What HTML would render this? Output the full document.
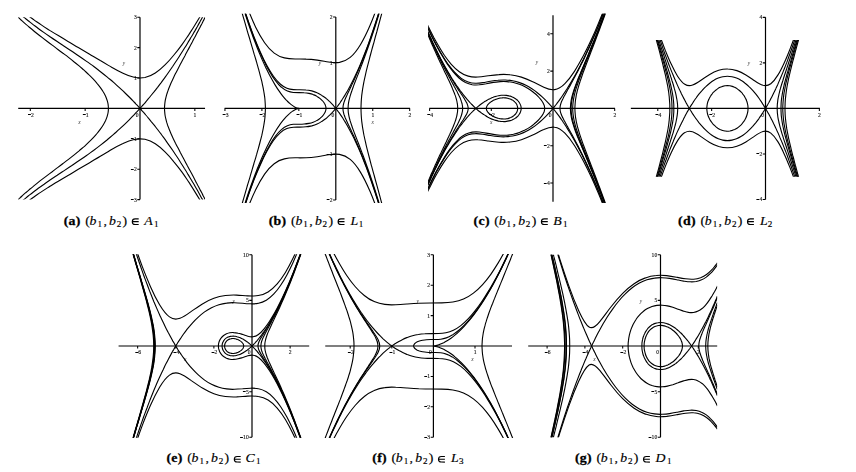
<!DOCTYPE html>
<html><head><meta charset="utf-8"><title>Phase portraits</title>
<style>
html,body{margin:0;padding:0;background:#fff;}
body{width:856px;height:472px;overflow:hidden;font-family:"Liberation Serif",serif;}
svg{display:block;}
text{font-family:"Liberation Serif",serif;}
.tk{font-size:5.6px;fill:#111;stroke:#111;stroke-width:0.12px;filter:grayscale(1);}
.al{font-style:italic;font-size:5.4px;fill:#333;stroke:none;text-anchor:middle;}
.cap{font-size:12.8px;fill:#000;stroke:#000;stroke-width:0.16px;}
.b{font-weight:bold;stroke-width:0.28px;}
.i{font-style:italic;}
.s{font-size:8.4px;}
.h{fill:none;stroke:none;}
</style></head><body>
<svg width="856" height="472" viewBox="0 0 856 472">
<rect width="856" height="472" fill="#fff"/>
<!-- panel a -->
<clipPath id="c0"><rect x="18.23" y="17.20" width="186.82" height="182.40"/></clipPath>
<path d="M18.23 108.40H205.05M140.00 17.20V199.60" stroke="#000" stroke-width="1.2" fill="none"/>
<path d="M30.30 108.40v2.6M85.15 108.40v2.6M194.85 108.40v2.6M140.00 199.60h-2.7M140.00 169.20h-2.7M140.00 138.80h-2.7M140.00 78.00h-2.7M140.00 47.60h-2.7M140.00 17.20h-2.7" stroke="#000" stroke-width="1.05" fill="none"/>
<g class="tk">
<text x="31.00" y="116.80">2</text>
<text x="85.85" y="116.80">1</text>
<text x="138.50" y="116.80" text-anchor="end">0</text>
<text x="194.95" y="116.80" text-anchor="middle">1</text>
<text x="136.70" y="201.55" text-anchor="end">3</text>
<text x="136.70" y="171.15" text-anchor="end">2</text>
<text x="136.70" y="140.75" text-anchor="end">1</text>
<text x="136.70" y="79.95" text-anchor="end">1</text>
<text x="136.70" y="49.55" text-anchor="end">2</text>
<text x="136.70" y="19.15" text-anchor="end">3</text>
<text x="79.5" y="123.6" class="al">x</text>
<text x="123.9" y="65" class="al">y</text>
</g>
<path d="M28.00 114.50h2.9M82.85 114.50h2.9M130.90 199.50h2.8M130.90 169.50h2.8M130.90 138.50h2.8" stroke="#000" stroke-width="1.0" fill="none"/>
<g clip-path="url(#c0)" stroke="#000" stroke-width="1.12" fill="none" stroke-linejoin="round" stroke-linecap="butt">
<path d="M17.7 7.2C17.7 7.2 17.9 7.4 18.4 7.8C18.8 8.2 19.5 8.8 20.4 9.5C21.3 10.2 22.4 11.2 23.8 12.2C25.1 13.3 26.7 14.5 28.4 15.8C30.2 17.1 32.2 18.6 34.3 20.1C36.5 21.6 38.8 23.3 41.3 24.9C43.8 26.6 46.5 28.3 49.3 30.1C52.2 31.9 55.2 33.8 58.3 35.6C61.4 37.5 64.6 39.4 68 41.4C71.3 43.4 74.8 45.4 78.3 47.5C81.9 49.6 85.5 51.7 89.2 53.9C92.8 56.1 96.6 58.3 100.3 60.6C104.1 62.8 107.9 65.1 111.6 67.3C115.4 69.5 119.2 71.6 123 73.3C126.7 75.1 130.5 76.6 134.1 77.3C137.8 78.1 141.4 78.2 145 77.5C148.5 76.7 152 75.2 155.3 73C158.7 70.8 161.9 68 165 64.9C168.1 61.9 171.1 58.5 173.9 55C176.8 51.6 179.5 48.1 182 44.6C184.5 41.1 186.8 37.6 189 34.4C191.1 31.1 193.1 28 194.8 25.2C196.6 22.3 198.2 19.7 199.5 17.5C200.8 15.2 202 13.2 202.9 11.6C203.8 10.1 204.5 8.8 204.9 8C205.4 7.2 205.6 6.8 205.6 6.8M17.7 209.6C17.7 209.6 17.9 209.4 18.4 209C18.8 208.6 19.5 208 20.4 207.3C21.3 206.6 22.4 205.6 23.8 204.6C25.1 203.5 26.7 202.3 28.4 201C30.2 199.7 32.2 198.2 34.3 196.7C36.5 195.2 38.8 193.5 41.3 191.9C43.8 190.2 46.5 188.5 49.3 186.7C52.2 184.9 55.2 183 58.3 181.2C61.4 179.3 64.6 177.4 68 175.4C71.3 173.4 74.8 171.4 78.3 169.3C81.9 167.2 85.5 165.1 89.2 162.9C92.8 160.7 96.6 158.5 100.3 156.2C104.1 154 107.9 151.7 111.6 149.5C115.4 147.3 119.2 145.2 123 143.5C126.7 141.7 130.5 140.2 134.1 139.5C137.8 138.7 141.4 138.6 145 139.3C148.5 140.1 152 141.6 155.3 143.8C158.7 146 161.9 148.8 165 151.9C168.1 154.9 171.1 158.3 173.9 161.8C176.8 165.2 179.5 168.7 182 172.2C184.5 175.7 186.8 179.2 189 182.4C191.1 185.7 193.1 188.8 194.8 191.6C196.6 194.5 198.2 197.1 199.5 199.3C200.8 201.6 202 203.6 202.9 205.2C203.8 206.7 204.5 208 204.9 208.8C205.4 209.6 205.6 210 205.6 210"/>
<path d="M17.7 11.9C17.7 11.9 17.8 12 18.1 12.3C18.4 12.6 18.9 12.9 19.5 13.5C20.1 14 20.8 14.6 21.7 15.4C22.5 16.1 23.5 17 24.7 17.9C25.8 18.8 27.1 19.9 28.5 21C29.9 22.1 31.4 23.3 33.1 24.6C34.7 25.8 36.4 27.1 38.3 28.5C40.1 29.8 42.1 31.2 44.1 32.6C46.1 34.1 48.2 35.5 50.4 37C52.6 38.5 54.9 40 57.2 41.5C59.5 43.1 61.8 44.6 64.2 46.2C66.6 47.8 69 49.4 71.5 51C73.9 52.7 76.4 54.3 78.8 56C81.3 57.7 83.8 59.4 86.2 61.1C88.7 62.8 91.1 64.6 93.5 66.3C95.9 68.1 98.2 69.9 100.5 71.7C102.8 73.5 105.1 75.3 107.3 77.1C109.4 78.9 111.6 80.6 113.6 82.4C115.6 84.2 117.6 85.9 119.4 87.6C121.2 89.3 123 90.9 124.6 92.5C126.3 94.1 127.8 95.6 129.2 97C130.6 98.4 131.9 99.7 133 100.9C134.1 102.1 135.2 103.1 136 104.1C136.9 105 137.6 105.8 138.2 106.4C138.8 107.1 139.3 107.6 139.6 107.9C139.9 108.2 140 108.4 140 108.4C140 108.4 139.9 108.6 139.6 108.9C139.3 109.2 138.8 109.7 138.2 110.4C137.6 111 136.9 111.8 136 112.7C135.2 113.7 134.1 114.7 133 115.9C131.9 117.1 130.6 118.4 129.2 119.8C127.8 121.2 126.3 122.7 124.6 124.3C123 125.9 121.2 127.5 119.4 129.2C117.6 130.9 115.6 132.6 113.6 134.4C111.6 136.2 109.4 137.9 107.3 139.7C105.1 141.5 102.8 143.3 100.5 145.1C98.2 146.9 95.9 148.7 93.5 150.5C91.1 152.2 88.7 154 86.2 155.7C83.8 157.4 81.3 159.1 78.8 160.8C76.4 162.5 73.9 164.1 71.5 165.8C69 167.4 66.6 169 64.2 170.6C61.8 172.2 59.5 173.7 57.2 175.3C54.9 176.8 52.6 178.3 50.4 179.8C48.2 181.3 46.1 182.7 44.1 184.2C42.1 185.6 40.1 187 38.3 188.3C36.4 189.7 34.7 191 33.1 192.2C31.4 193.5 29.9 194.7 28.5 195.8C27.1 196.9 25.8 198 24.7 198.9C23.5 199.8 22.5 200.7 21.7 201.4C20.8 202.2 20.1 202.8 19.5 203.3C18.9 203.9 18.4 204.2 18.1 204.5C17.8 204.8 17.7 204.9 17.7 204.9"/>
<path d="M205.6 205.3C205.6 205.3 205.5 205.2 205.4 204.9C205.2 204.6 205 204.1 204.6 203.5C204.3 203 203.9 202.2 203.5 201.4C203 200.5 202.5 199.5 201.8 198.4C201.2 197.3 200.5 196 199.8 194.7C199 193.3 198.2 191.8 197.4 190.3C196.5 188.7 195.5 187.1 194.6 185.4C193.6 183.7 192.5 181.9 191.4 180C190.3 178.2 189.2 176.3 188 174.4C186.9 172.4 185.7 170.4 184.4 168.5C183.2 166.5 181.9 164.5 180.6 162.5C179.4 160.4 178.1 158.4 176.8 156.5C175.4 154.5 174.1 152.5 172.8 150.5C171.5 148.6 170.2 146.7 168.8 144.8C167.5 143 166.2 141.1 165 139.4C163.7 137.6 162.4 135.9 161.2 134.2C159.9 132.6 158.7 131 157.6 129.5C156.4 128 155.3 126.5 154.2 125.1C153.1 123.8 152 122.5 151 121.3C150.1 120.1 149.1 118.9 148.2 117.9C147.4 116.8 146.6 115.9 145.8 115C145.1 114.1 144.4 113.3 143.8 112.6C143.1 111.9 142.6 111.3 142.1 110.8C141.7 110.3 141.3 109.8 141 109.5C140.6 109.1 140.4 108.8 140.2 108.7C140.1 108.5 140 108.4 140 108.4C140 108.4 140.1 108.3 140.2 108.1C140.4 108 140.6 107.7 141 107.3C141.3 107 141.7 106.5 142.1 106C142.6 105.5 143.1 104.9 143.8 104.2C144.4 103.5 145.1 102.7 145.8 101.8C146.6 100.9 147.4 100 148.2 98.9C149.1 97.9 150.1 96.7 151 95.5C152 94.3 153.1 93 154.2 91.7C155.3 90.3 156.4 88.8 157.6 87.3C158.7 85.8 159.9 84.2 161.2 82.6C162.4 80.9 163.7 79.2 165 77.4C166.2 75.7 167.5 73.8 168.8 72C170.2 70.1 171.5 68.2 172.8 66.3C174.1 64.3 175.4 62.3 176.8 60.3C178.1 58.4 179.4 56.4 180.6 54.3C181.9 52.3 183.2 50.3 184.4 48.3C185.7 46.4 186.9 44.4 188 42.4C189.2 40.5 190.3 38.6 191.4 36.8C192.5 34.9 193.6 33.1 194.6 31.4C195.5 29.7 196.5 28.1 197.4 26.5C198.2 25 199 23.5 199.8 22.1C200.5 20.8 201.2 19.5 201.8 18.4C202.5 17.3 203 16.3 203.5 15.4C203.9 14.6 204.3 13.8 204.6 13.3C205 12.7 205.2 12.2 205.4 11.9C205.5 11.6 205.6 11.5 205.6 11.5"/>
<path d="M17.7 16.8C17.7 16.8 17.8 16.9 18 17.1C18.2 17.3 18.6 17.6 19 18C19.4 18.4 20 18.9 20.6 19.5C21.3 20.1 22 20.8 22.9 21.6C23.7 22.3 24.7 23.2 25.7 24.1C26.8 25 27.9 25.9 29.1 27C30.3 28 31.6 29.1 33 30.2C34.3 31.3 35.8 32.5 37.3 33.7C38.8 34.9 40.3 36.1 42 37.4C43.6 38.6 45.3 39.9 47 41.2C48.7 42.5 50.4 43.8 52.2 45.1C54 46.5 55.8 47.8 57.6 49.2C59.4 50.5 61.2 51.9 63 53.3C64.9 54.7 66.7 56 68.5 57.4C70.3 58.8 72.1 60.2 73.9 61.7C75.7 63.1 77.4 64.5 79.1 65.9C80.8 67.4 82.5 68.8 84.1 70.2C85.7 71.7 87.3 73.1 88.8 74.6C90.3 76 91.8 77.5 93.1 78.9C94.5 80.4 95.8 81.8 97 83.3C98.2 84.7 99.3 86.1 100.4 87.6C101.4 89 102.4 90.4 103.2 91.8C104.1 93.2 104.8 94.6 105.5 96C106.1 97.4 106.6 98.8 107.1 100.2C107.5 101.6 107.9 102.9 108.1 104.3C108.3 105.7 108.4 107 108.4 108.4C108.4 109.8 108.3 111.1 108.1 112.5C107.9 113.9 107.5 115.2 107.1 116.6C106.6 118 106.1 119.4 105.5 120.8C104.8 122.2 104.1 123.6 103.2 125C102.4 126.4 101.4 127.8 100.4 129.2C99.3 130.7 98.2 132.1 97 133.5C95.8 135 94.5 136.4 93.1 137.9C91.8 139.3 90.3 140.8 88.8 142.2C87.3 143.7 85.7 145.1 84.1 146.6C82.5 148 80.8 149.4 79.1 150.9C77.4 152.3 75.7 153.7 73.9 155.1C72.1 156.6 70.3 158 68.5 159.4C66.7 160.8 64.9 162.1 63 163.5C61.2 164.9 59.4 166.3 57.6 167.6C55.8 169 54 170.3 52.2 171.7C50.4 173 48.7 174.3 47 175.6C45.3 176.9 43.6 178.2 42 179.4C40.3 180.7 38.8 181.9 37.3 183.1C35.8 184.3 34.3 185.5 33 186.6C31.6 187.7 30.3 188.8 29.1 189.8C27.9 190.9 26.8 191.8 25.7 192.7C24.7 193.6 23.7 194.5 22.9 195.2C22 196 21.3 196.7 20.6 197.3C20 197.9 19.4 198.4 19 198.8C18.6 199.2 18.2 199.5 18 199.7C17.8 199.9 17.7 200 17.7 200"/>
<path d="M205.6 200.4C205.6 200.4 205.6 200.3 205.5 200.1C205.4 199.9 205.2 199.7 205 199.3C204.8 198.9 204.6 198.4 204.3 197.8C204 197.2 203.6 196.6 203.2 195.8C202.9 195.1 202.4 194.2 202 193.3C201.5 192.4 201 191.4 200.4 190.4C199.9 189.3 199.3 188.2 198.7 187C198.1 185.8 197.4 184.6 196.7 183.3C196.1 182 195.3 180.6 194.6 179.2C193.9 177.9 193.1 176.4 192.4 175C191.6 173.5 190.8 172.1 190 170.6C189.2 169.1 188.4 167.5 187.5 166C186.7 164.5 185.9 162.9 185.1 161.4C184.2 159.8 183.4 158.3 182.6 156.8C181.8 155.2 181 153.7 180.2 152.2C179.4 150.6 178.6 149.1 177.8 147.6C177 146.1 176.3 144.7 175.5 143.2C174.8 141.7 174.1 140.3 173.4 138.9C172.7 137.5 172.1 136.1 171.5 134.7C170.8 133.3 170.3 131.9 169.7 130.6C169.2 129.3 168.6 128 168.2 126.7C167.7 125.4 167.3 124.1 166.9 122.9C166.5 121.6 166.2 120.4 165.9 119.1C165.6 117.9 165.3 116.7 165.1 115.5C164.9 114.3 164.8 113.1 164.7 111.9C164.6 110.8 164.5 109.6 164.5 108.4C164.5 107.2 164.6 106 164.7 104.9C164.8 103.7 164.9 102.5 165.1 101.3C165.3 100.1 165.6 98.9 165.9 97.7C166.2 96.4 166.5 95.2 166.9 93.9C167.3 92.7 167.7 91.4 168.2 90.1C168.6 88.8 169.2 87.5 169.7 86.2C170.3 84.9 170.8 83.5 171.5 82.1C172.1 80.7 172.7 79.3 173.4 77.9C174.1 76.5 174.8 75.1 175.5 73.6C176.3 72.1 177 70.7 177.8 69.2C178.6 67.7 179.4 66.2 180.2 64.6C181 63.1 181.8 61.6 182.6 60C183.4 58.5 184.2 57 185.1 55.4C185.9 53.9 186.7 52.3 187.5 50.8C188.4 49.3 189.2 47.7 190 46.2C190.8 44.7 191.6 43.3 192.4 41.8C193.1 40.4 193.9 38.9 194.6 37.6C195.3 36.2 196.1 34.8 196.7 33.5C197.4 32.2 198.1 31 198.7 29.8C199.3 28.6 199.9 27.5 200.4 26.4C201 25.4 201.5 24.4 202 23.5C202.4 22.6 202.9 21.7 203.2 21C203.6 20.2 204 19.6 204.3 19C204.6 18.4 204.8 17.9 205 17.5C205.2 17.1 205.4 16.9 205.5 16.7C205.6 16.5 205.6 16.4 205.6 16.4"/>
</g>
<text class="cap" transform="translate(0.00 224.60) scale(1.08 1)"><tspan class="b" x="59 63.47 70.19">(a)</tspan><tspan x="78.89">(</tspan><tspan class="i" x="82.96">b</tspan><tspan class="s" x="90.28" dy="1.9">1</tspan><tspan x="95.74" dy="-1.9">,</tspan><tspan class="i" x="101.02">b</tspan><tspan class="s" x="108.06" dy="1.9">2</tspan><tspan x="113.52" dy="-1.9">)</tspan><tspan class="h" x="121.3">∈</tspan><tspan class="i" x="133.48">A</tspan><tspan class="s" x="142.69" dy="1.9">1</tspan></text><path d="M138.70 218.85H135.10A2.80 2.80 0 0 0 135.10 224.45H138.70M132.30 221.65H138.70" fill="none" stroke="#000" stroke-width="1.15"/>
<!-- panel b -->
<clipPath id="c1"><rect x="224.95" y="13.70" width="184.75" height="189.40"/></clipPath>
<path d="M224.58 108.40H410.07M335.80 16.90V199.90" stroke="#000" stroke-width="1.2" fill="none"/>
<path d="M224.95 108.40v2.6M261.90 108.40v2.6M298.85 108.40v2.6M372.75 108.40v2.6M409.70 108.40v2.6M335.80 199.90h-2.7M335.80 154.15h-2.7M335.80 62.65h-2.7M335.80 16.90h-2.7" stroke="#000" stroke-width="1.05" fill="none"/>
<g class="tk">
<text x="225.65" y="116.80">3</text>
<text x="262.60" y="116.80">2</text>
<text x="299.55" y="116.80">1</text>
<text x="334.30" y="116.80" text-anchor="end">0</text>
<text x="372.85" y="116.80" text-anchor="middle">1</text>
<text x="409.80" y="116.80" text-anchor="middle">2</text>
<text x="332.50" y="201.85" text-anchor="end">2</text>
<text x="332.50" y="156.10" text-anchor="end">1</text>
<text x="332.50" y="64.60" text-anchor="end">1</text>
<text x="332.50" y="18.85" text-anchor="end">2</text>
<text x="372.7" y="123.6" class="al">x</text>
<text x="320" y="64.5" class="al">y</text>
</g>
<path d="M222.65 114.50h2.9M259.60 114.50h2.9M296.55 114.50h2.9M326.70 199.50h2.8M326.70 154.50h2.8" stroke="#000" stroke-width="1.0" fill="none"/>
<g clip-path="url(#c1)" stroke="#000" stroke-width="1.12" fill="none" stroke-linejoin="round" stroke-linecap="butt">
<path d="M224.6 -67.3C224.6 -67.3 224.8 -66.4 225.3 -64.6C225.7 -62.9 226.4 -60.3 227.3 -56.9C228.2 -53.5 229.3 -49.4 230.6 -44.6C231.9 -39.8 233.5 -34.5 235.2 -28.7C236.9 -22.9 238.9 -16.7 241 -10.3C243.1 -3.9 245.4 2.6 247.9 9C250.4 15.4 253 21.6 255.8 27.4C258.6 33.1 261.6 38.3 264.6 42.7C267.7 47.1 270.9 50.6 274.2 53.1C277.5 55.6 280.9 57.1 284.4 57.9C287.9 58.7 291.5 58.9 295.1 59C298.8 59 302.4 58.9 306.1 59.1C309.9 59.2 313.6 59.6 317.3 60.1C321.1 60.6 324.8 61.4 328.5 62C332.2 62.6 335.9 62.9 339.5 62.4C343.1 61.8 346.7 60.3 350.2 57.4C353.7 54.5 357.1 50.2 360.4 44.7C363.7 39.3 366.9 32.7 370 25.5C373.1 18.3 376 10.4 378.8 2.3C381.6 -5.9 384.3 -14.3 386.7 -22.6C389.2 -31 391.5 -39.3 393.7 -47.2C395.8 -55.2 397.7 -62.8 399.4 -69.9C401.2 -76.9 402.7 -83.4 404 -89.1C405.4 -94.7 406.5 -99.7 407.4 -103.6C408.3 -107.6 408.9 -110.7 409.4 -112.8C409.8 -114.8 410.1 -115.9 410.1 -115.9M224.6 284.1C224.6 284.1 224.8 283.2 225.3 281.4C225.7 279.7 226.4 277.1 227.3 273.7C228.2 270.3 229.3 266.2 230.6 261.4C231.9 256.6 233.5 251.3 235.2 245.5C236.9 239.7 238.9 233.5 241 227.1C243.1 220.7 245.4 214.2 247.9 207.8C250.4 201.4 253 195.2 255.8 189.4C258.6 183.7 261.6 178.5 264.6 174.1C267.7 169.7 270.9 166.2 274.2 163.7C277.5 161.2 280.9 159.7 284.4 158.9C287.9 158.1 291.5 157.9 295.1 157.8C298.8 157.8 302.4 157.9 306.1 157.7C309.9 157.6 313.6 157.2 317.3 156.7C321.1 156.2 324.8 155.4 328.5 154.8C332.2 154.2 335.9 153.9 339.5 154.4C343.1 155 346.7 156.5 350.2 159.4C353.7 162.3 357.1 166.6 360.4 172.1C363.7 177.5 366.9 184.1 370 191.3C373.1 198.5 376 206.4 378.8 214.5C381.6 222.7 384.3 231.1 386.7 239.4C389.2 247.8 391.5 256.1 393.7 264C395.8 272 397.7 279.6 399.4 286.7C401.2 293.7 402.7 300.2 404 305.9C405.4 311.5 406.5 316.5 407.4 320.4C408.3 324.4 408.9 327.5 409.4 329.6C409.8 331.6 410.1 332.7 410.1 332.7"/>
<path d="M224.6 -61.2C224.6 -61.2 224.7 -60.6 225 -59.6C225.3 -58.5 225.7 -56.8 226.2 -54.7C226.7 -52.6 227.4 -49.9 228.2 -46.8C229 -43.7 229.9 -40.2 231 -36.3C232 -32.4 233.2 -28.1 234.4 -23.6C235.7 -19 237.1 -14.2 238.6 -9.2C240.1 -4.2 241.6 1 243.3 6.3C245 11.5 246.8 16.9 248.6 22.2C250.4 27.4 252.4 32.7 254.3 37.8C256.3 42.9 258.4 47.8 260.5 52.4C262.6 57.1 264.7 61.5 266.9 65.5C269.1 69.5 271.3 73.2 273.5 76.3C275.7 79.4 278 82 280.2 84C282.4 86 284.7 87.3 286.9 88.2C289.1 89.1 291.3 89.4 293.5 89.6C295.7 89.8 297.8 89.7 299.9 89.7C302 89.7 304.1 89.8 306 90C308 90.1 309.9 90.5 311.8 90.9C313.6 91.4 315.4 92 317.1 92.8C318.7 93.5 320.3 94.4 321.8 95.4C323.3 96.3 324.7 97.3 326 98.3C327.2 99.4 328.4 100.4 329.4 101.4C330.5 102.4 331.4 103.4 332.2 104.2C333 105.1 333.6 105.8 334.2 106.5C334.7 107.1 335.1 107.6 335.4 107.9C335.7 108.2 335.8 108.4 335.8 108.4C335.8 108.4 335.7 108.6 335.4 108.9C335.1 109.2 334.7 109.7 334.2 110.3C333.6 111 333 111.7 332.2 112.6C331.4 113.4 330.5 114.4 329.4 115.4C328.4 116.4 327.2 117.4 326 118.5C324.7 119.5 323.3 120.5 321.8 121.4C320.3 122.4 318.7 123.3 317.1 124C315.4 124.8 313.6 125.4 311.8 125.9C309.9 126.3 308 126.7 306 126.8C304.1 127 302 127.1 299.9 127.1C297.8 127.1 295.7 127 293.5 127.2C291.3 127.4 289.1 127.7 286.9 128.6C284.7 129.5 282.4 130.8 280.2 132.8C278 134.8 275.7 137.4 273.5 140.5C271.3 143.6 269.1 147.3 266.9 151.3C264.7 155.3 262.6 159.7 260.5 164.4C258.4 169 256.3 173.9 254.3 179C252.4 184.1 250.4 189.4 248.6 194.6C246.8 199.9 245 205.3 243.3 210.5C241.6 215.8 240.1 221 238.6 226C237.1 231 235.7 235.8 234.4 240.4C233.2 244.9 232 249.2 231 253.1C229.9 257 229 260.5 228.2 263.6C227.4 266.7 226.7 269.4 226.2 271.5C225.7 273.6 225.3 275.3 225 276.4C224.7 277.4 224.6 278 224.6 278"/>
<path d="M410.1 327.9C410.1 327.9 410 327.5 409.8 326.7C409.6 325.8 409.3 324.6 409 322.9C408.6 321.2 408.2 319.2 407.7 316.7C407.1 314.3 406.5 311.5 405.8 308.4C405.1 305.3 404.3 301.8 403.5 298.1C402.6 294.4 401.7 290.3 400.7 286.1C399.7 281.9 398.7 277.5 397.6 272.9C396.4 268.3 395.3 263.5 394 258.6C392.8 253.8 391.5 248.8 390.2 243.9C388.9 238.9 387.5 233.9 386.1 228.9C384.7 223.9 383.3 218.9 381.8 214C380.4 209.1 378.9 204.3 377.4 199.6C375.9 194.9 374.4 190.4 372.9 186C371.4 181.5 369.9 177.3 368.5 173.2C367 169.1 365.5 165.3 364 161.6C362.6 157.9 361.2 154.4 359.8 151.1C358.4 147.9 357 144.8 355.7 142C354.4 139.1 353.1 136.5 351.8 134.1C350.6 131.7 349.4 129.4 348.3 127.4C347.2 125.4 346.1 123.6 345.1 121.9C344.1 120.3 343.2 118.8 342.4 117.5C341.5 116.2 340.7 115.1 340.1 114.1C339.4 113.1 338.7 112.2 338.2 111.5C337.7 110.8 337.2 110.2 336.9 109.8C336.5 109.3 336.3 109 336.1 108.7C335.9 108.5 335.8 108.4 335.8 108.4C335.8 108.4 335.9 108.3 336.1 108.1C336.3 107.8 336.5 107.5 336.9 107C337.2 106.6 337.7 106 338.2 105.3C338.7 104.6 339.4 103.7 340.1 102.7C340.7 101.7 341.5 100.6 342.4 99.3C343.2 98 344.1 96.5 345.1 94.9C346.1 93.2 347.2 91.4 348.3 89.4C349.4 87.4 350.6 85.1 351.8 82.7C353.1 80.3 354.4 77.7 355.7 74.8C357 72 358.4 68.9 359.8 65.7C361.2 62.4 362.6 58.9 364 55.2C365.5 51.5 367 47.7 368.5 43.6C369.9 39.5 371.4 35.3 372.9 30.8C374.4 26.4 375.9 21.9 377.4 17.2C378.9 12.5 380.4 7.7 381.8 2.8C383.3 -2.1 384.7 -7.1 386.1 -12.1C387.5 -17.1 388.9 -22.1 390.2 -27.1C391.5 -32 392.8 -37 394 -41.8C395.3 -46.7 396.4 -51.5 397.6 -56.1C398.7 -60.7 399.7 -65.1 400.7 -69.3C401.7 -73.5 402.6 -77.6 403.5 -81.3C404.3 -85 405.1 -88.5 405.8 -91.6C406.5 -94.7 407.1 -97.5 407.7 -99.9C408.2 -102.4 408.6 -104.4 409 -106.1C409.3 -107.8 409.6 -109 409.8 -109.9C410 -110.7 410.1 -111.1 410.1 -111.1"/>
<path d="M224.6 -60.9C224.6 -60.9 224.7 -60.4 225 -59.4C225.2 -58.4 225.6 -56.9 226.1 -55C226.5 -53 227.2 -50.6 227.9 -47.8C228.6 -44.9 229.4 -41.7 230.4 -38.1C231.3 -34.5 232.4 -30.5 233.6 -26.3C234.7 -22.1 236 -17.6 237.3 -13C238.7 -8.3 240.1 -3.4 241.7 1.5C243.2 6.4 244.8 11.5 246.5 16.5C248.2 21.5 249.9 26.6 251.7 31.5C253.5 36.4 255.4 41.3 257.3 45.9C259.2 50.6 261.2 55 263.2 59.2C265.1 63.4 267.1 67.3 269.2 70.9C271.2 74.5 273.2 77.7 275.3 80.4C277.3 83.2 279.4 85.5 281.4 87.2C283.4 89 285.4 90.3 287.4 91.1C289.4 91.9 291.4 92.3 293.3 92.5C295.2 92.6 297 92.6 298.9 92.6C300.7 92.6 302.4 92.6 304.1 92.8C305.8 92.9 307.4 93.1 308.9 93.4C310.4 93.7 311.9 94.1 313.2 94.6C314.6 95.1 315.9 95.7 317 96.4C318.2 97.1 319.2 97.8 320.2 98.6C321.1 99.4 322 100.2 322.7 101C323.4 101.8 324 102.6 324.5 103.5C325 104.3 325.4 105.1 325.6 105.9C325.9 106.8 326 107.6 326 108.4C326 109.2 325.9 110 325.6 110.9C325.4 111.7 325 112.5 324.5 113.3C324 114.2 323.4 115 322.7 115.8C322 116.6 321.1 117.4 320.2 118.2C319.2 119 318.2 119.7 317 120.4C315.9 121.1 314.6 121.7 313.2 122.2C311.9 122.7 310.4 123.1 308.9 123.4C307.4 123.7 305.8 123.9 304.1 124C302.4 124.2 300.7 124.2 298.9 124.2C297 124.2 295.2 124.2 293.3 124.3C291.4 124.5 289.4 124.9 287.4 125.7C285.4 126.5 283.4 127.8 281.4 129.6C279.4 131.3 277.3 133.6 275.3 136.4C273.2 139.1 271.2 142.3 269.2 145.9C267.1 149.5 265.1 153.4 263.2 157.6C261.2 161.8 259.2 166.2 257.3 170.9C255.4 175.5 253.5 180.4 251.7 185.3C249.9 190.2 248.2 195.3 246.5 200.3C244.8 205.3 243.2 210.4 241.7 215.3C240.1 220.2 238.7 225.1 237.3 229.8C236 234.4 234.7 238.9 233.6 243.1C232.4 247.3 231.3 251.3 230.4 254.9C229.4 258.5 228.6 261.7 227.9 264.6C227.2 267.4 226.5 269.8 226.1 271.8C225.6 273.7 225.2 275.2 225 276.2C224.7 277.2 224.6 277.7 224.6 277.7"/>
<path d="M410.1 327.7C410.1 327.7 410 327.3 409.8 326.6C409.7 325.8 409.4 324.7 409.1 323.2C408.8 321.6 408.4 319.8 407.9 317.6C407.4 315.4 406.9 312.8 406.2 310C405.6 307.1 404.9 304 404.1 300.6C403.4 297.2 402.5 293.6 401.6 289.7C400.7 285.8 399.8 281.8 398.8 277.6C397.8 273.3 396.7 269 395.6 264.5C394.5 260 393.3 255.4 392.1 250.8C390.9 246.2 389.7 241.5 388.4 236.9C387.2 232.2 385.9 227.5 384.5 222.9C383.2 218.3 381.9 213.8 380.6 209.3C379.2 204.9 377.9 200.5 376.5 196.3C375.2 192 373.8 187.9 372.5 183.9C371.1 180 369.8 176.2 368.5 172.5C367.2 168.9 365.9 165.4 364.6 162.1C363.4 158.8 362.1 155.7 360.9 152.8C359.7 149.8 358.6 147.1 357.5 144.5C356.3 141.9 355.3 139.5 354.3 137.3C353.3 135.1 352.3 133 351.4 131.1C350.5 129.2 349.7 127.5 348.9 125.8C348.1 124.2 347.4 122.7 346.8 121.3C346.2 120 345.6 118.7 345.1 117.5C344.7 116.3 344.3 115.2 343.9 114.2C343.6 113.1 343.4 112.2 343.2 111.2C343 110.2 343 109.3 343 108.4C343 107.5 343 106.6 343.2 105.6C343.4 104.6 343.6 103.7 343.9 102.6C344.3 101.6 344.7 100.5 345.1 99.3C345.6 98.1 346.2 96.8 346.8 95.5C347.4 94.1 348.1 92.6 348.9 91C349.7 89.3 350.5 87.6 351.4 85.7C352.3 83.8 353.3 81.7 354.3 79.5C355.3 77.3 356.3 74.9 357.5 72.3C358.6 69.7 359.7 67 360.9 64C362.1 61.1 363.4 58 364.6 54.7C365.9 51.4 367.2 47.9 368.5 44.3C369.8 40.6 371.1 36.8 372.5 32.9C373.8 28.9 375.2 24.8 376.5 20.5C377.9 16.3 379.2 11.9 380.6 7.5C381.9 3 383.2 -1.5 384.5 -6.1C385.9 -10.7 387.2 -15.4 388.4 -20.1C389.7 -24.7 390.9 -29.4 392.1 -34C393.3 -38.6 394.5 -43.2 395.6 -47.7C396.7 -52.2 397.8 -56.5 398.8 -60.8C399.8 -65 400.7 -69 401.6 -72.9C402.5 -76.8 403.4 -80.4 404.1 -83.8C404.9 -87.2 405.6 -90.3 406.2 -93.2C406.9 -96 407.4 -98.6 407.9 -100.8C408.4 -103 408.8 -104.8 409.1 -106.4C409.4 -107.9 409.7 -109 409.8 -109.8C410 -110.5 410.1 -110.9 410.1 -110.9"/>
<path d="M224.6 -60.2C224.6 -60.2 224.7 -59.8 224.9 -59.1C225 -58.3 225.3 -57.2 225.7 -55.8C226 -54.3 226.5 -52.5 227 -50.4C227.5 -48.3 228.1 -45.9 228.8 -43.2C229.5 -40.5 230.3 -37.5 231.2 -34.3C232 -31.1 232.9 -27.7 233.9 -24.1C234.9 -20.5 236 -16.7 237.1 -12.8C238.2 -8.9 239.4 -4.8 240.6 -0.8C241.9 3.3 243.1 7.5 244.5 11.6C245.8 15.8 247.1 19.9 248.5 24C249.9 28.2 251.4 32.2 252.8 36.2C254.3 40.2 255.8 44 257.2 47.8C258.7 51.5 260.2 55.1 261.7 58.6C263.2 62 264.7 65.3 266.2 68.4C267.7 71.5 269.1 74.4 270.6 77.1C272.1 79.8 273.5 82.3 274.9 84.6C276.3 86.9 277.6 89 279 90.9C280.3 92.9 281.6 94.6 282.8 96.1C284 97.6 285.2 99 286.3 100.2C287.5 101.3 288.5 102.4 289.5 103.2C290.5 104.1 291.4 104.8 292.3 105.4C293.1 106 293.9 106.5 294.6 106.9C295.3 107.3 295.9 107.5 296.4 107.8C297 108 297.4 108.1 297.8 108.2C298.1 108.3 298.4 108.4 298.6 108.4C298.8 108.4 298.8 108.4 298.9 108.4C298.8 108.4 298.8 108.4 298.6 108.4C298.4 108.4 298.1 108.5 297.8 108.6C297.4 108.7 297 108.8 296.4 109C295.9 109.3 295.3 109.5 294.6 109.9C293.9 110.3 293.1 110.8 292.3 111.4C291.4 112 290.5 112.7 289.5 113.6C288.5 114.4 287.5 115.5 286.3 116.6C285.2 117.8 284 119.2 282.8 120.7C281.6 122.2 280.3 123.9 279 125.9C277.6 127.8 276.3 129.9 274.9 132.2C273.5 134.5 272.1 137 270.6 139.7C269.1 142.4 267.7 145.3 266.2 148.4C264.7 151.5 263.2 154.8 261.7 158.2C260.2 161.7 258.7 165.3 257.2 169C255.8 172.8 254.3 176.6 252.8 180.6C251.4 184.6 249.9 188.6 248.5 192.8C247.1 196.9 245.8 201 244.5 205.2C243.1 209.3 241.9 213.5 240.6 217.6C239.4 221.6 238.2 225.7 237.1 229.6C236 233.5 234.9 237.3 233.9 240.9C232.9 244.5 232 247.9 231.2 251.1C230.3 254.3 229.5 257.3 228.8 260C228.1 262.7 227.5 265.1 227 267.2C226.5 269.3 226 271.1 225.7 272.6C225.3 274 225 275.1 224.9 275.9C224.7 276.6 224.6 277 224.6 277"/>
<path d="M410.1 327.2C410.1 327.2 410 326.8 409.8 326.1C409.7 325.4 409.5 324.3 409.2 322.9C408.9 321.5 408.5 319.8 408.1 317.8C407.6 315.7 407.1 313.4 406.5 310.7C405.9 308.1 405.3 305.2 404.6 302C403.9 298.8 403.1 295.4 402.3 291.8C401.5 288.2 400.6 284.4 399.6 280.5C398.7 276.5 397.7 272.4 396.7 268.2C395.7 264 394.6 259.7 393.5 255.3C392.4 251 391.2 246.6 390.1 242.1C388.9 237.7 387.7 233.3 386.5 228.9C385.3 224.5 384.1 220.1 382.8 215.8C381.6 211.5 380.3 207.3 379.1 203.2C377.8 199.1 376.6 195.1 375.4 191.2C374.1 187.3 372.9 183.5 371.7 179.9C370.5 176.3 369.3 172.8 368.1 169.5C366.9 166.1 365.8 163 364.7 160C363.6 156.9 362.5 154.1 361.5 151.4C360.5 148.7 359.5 146.1 358.6 143.7C357.6 141.3 356.7 139 355.9 136.9C355.1 134.8 354.3 132.8 353.6 130.9C352.9 129 352.2 127.2 351.7 125.5C351.1 123.8 350.6 122.3 350.1 120.7C349.7 119.2 349.3 117.8 349 116.4C348.7 115 348.5 113.6 348.3 112.3C348.2 111 348.1 109.7 348.1 108.4C348.1 107.1 348.2 105.8 348.3 104.5C348.5 103.2 348.7 101.8 349 100.4C349.3 99 349.7 97.6 350.1 96.1C350.6 94.5 351.1 93 351.7 91.3C352.2 89.6 352.9 87.8 353.6 85.9C354.3 84 355.1 82 355.9 79.9C356.7 77.8 357.6 75.5 358.6 73.1C359.5 70.7 360.5 68.1 361.5 65.4C362.5 62.7 363.6 59.9 364.7 56.8C365.8 53.8 366.9 50.7 368.1 47.3C369.3 44 370.5 40.5 371.7 36.9C372.9 33.3 374.1 29.5 375.4 25.6C376.6 21.7 377.8 17.7 379.1 13.6C380.3 9.5 381.6 5.3 382.8 1C384.1 -3.3 385.3 -7.7 386.5 -12.1C387.7 -16.5 388.9 -20.9 390.1 -25.3C391.2 -29.8 392.4 -34.2 393.5 -38.5C394.6 -42.9 395.7 -47.2 396.7 -51.4C397.7 -55.6 398.7 -59.7 399.6 -63.7C400.6 -67.6 401.5 -71.4 402.3 -75C403.1 -78.6 403.9 -82 404.6 -85.2C405.3 -88.4 405.9 -91.3 406.5 -93.9C407.1 -96.6 407.6 -98.9 408.1 -101C408.5 -103 408.9 -104.7 409.2 -106.1C409.5 -107.5 409.7 -108.6 409.8 -109.3C410 -110 410.1 -110.4 410.1 -110.4"/>
<path d="M224.6 -54.9C224.6 -54.9 224.6 -54.7 224.7 -54.3C224.8 -53.9 225 -53.2 225.2 -52.4C225.4 -51.6 225.6 -50.6 225.9 -49.4C226.2 -48.1 226.5 -46.7 226.9 -45.2C227.3 -43.6 227.7 -41.9 228.2 -40C228.7 -38.1 229.2 -36 229.7 -33.8C230.3 -31.6 230.8 -29.3 231.5 -26.9C232.1 -24.5 232.7 -22 233.4 -19.4C234.1 -16.8 234.8 -14.1 235.5 -11.3C236.2 -8.6 237 -5.8 237.7 -2.9C238.5 -0.1 239.3 2.8 240.1 5.6C240.9 8.5 241.7 11.4 242.5 14.3C243.3 17.2 244.2 20 245 22.9C245.8 25.7 246.6 28.5 247.4 31.3C248.2 34.1 249.1 36.8 249.9 39.5C250.7 42.2 251.4 44.8 252.2 47.4C253 50 253.7 52.5 254.4 54.9C255.2 57.4 255.9 59.8 256.6 62.1C257.2 64.4 257.9 66.7 258.5 68.9C259.1 71.1 259.7 73.2 260.2 75.3C260.8 77.4 261.3 79.4 261.8 81.4C262.2 83.3 262.6 85.3 263 87.2C263.4 89 263.7 90.9 264 92.7C264.3 94.5 264.6 96.3 264.8 98C265 99.8 265.1 101.5 265.2 103.3C265.3 105 265.4 106.7 265.4 108.4C265.4 110.1 265.3 111.8 265.2 113.5C265.1 115.3 265 117 264.8 118.8C264.6 120.5 264.3 122.3 264 124.1C263.7 125.9 263.4 127.8 263 129.6C262.6 131.5 262.2 133.5 261.8 135.4C261.3 137.4 260.8 139.4 260.2 141.5C259.7 143.6 259.1 145.7 258.5 147.9C257.9 150.1 257.2 152.4 256.6 154.7C255.9 157 255.2 159.4 254.4 161.9C253.7 164.3 253 166.8 252.2 169.4C251.4 172 250.7 174.6 249.9 177.3C249.1 180 248.2 182.7 247.4 185.5C246.6 188.3 245.8 191.1 245 193.9C244.2 196.8 243.3 199.6 242.5 202.5C241.7 205.4 240.9 208.3 240.1 211.2C239.3 214 238.5 216.9 237.7 219.7C237 222.6 236.2 225.4 235.5 228.1C234.8 230.9 234.1 233.6 233.4 236.2C232.7 238.8 232.1 241.3 231.5 243.7C230.8 246.1 230.3 248.4 229.7 250.6C229.2 252.8 228.7 254.9 228.2 256.8C227.7 258.7 227.3 260.4 226.9 262C226.5 263.5 226.2 264.9 225.9 266.2C225.6 267.4 225.4 268.4 225.2 269.2C225 270 224.8 270.7 224.7 271.1C224.6 271.5 224.6 271.7 224.6 271.7"/>
<path d="M410.1 323.1C410.1 323.1 410 322.8 409.9 322.3C409.8 321.7 409.6 320.8 409.4 319.7C409.1 318.6 408.8 317.2 408.5 315.5C408.1 313.9 407.7 312 407.3 309.8C406.8 307.7 406.3 305.3 405.7 302.7C405.2 300.1 404.6 297.3 403.9 294.3C403.2 291.4 402.5 288.2 401.8 284.9C401.1 281.6 400.3 278.2 399.5 274.7C398.7 271.1 397.8 267.5 396.9 263.8C396.1 260 395.2 256.2 394.2 252.4C393.3 248.6 392.4 244.7 391.4 240.8C390.5 237 389.5 233.1 388.5 229.2C387.5 225.4 386.5 221.5 385.6 217.7C384.6 213.9 383.6 210.2 382.6 206.5C381.6 202.8 380.6 199.2 379.7 195.7C378.7 192.1 377.8 188.7 376.9 185.3C375.9 181.9 375 178.7 374.2 175.5C373.3 172.3 372.4 169.2 371.6 166.2C370.8 163.2 370 160.3 369.3 157.5C368.6 154.7 367.9 152 367.2 149.4C366.5 146.7 365.9 144.2 365.4 141.7C364.8 139.2 364.3 136.8 363.8 134.5C363.4 132.1 363 129.9 362.6 127.6C362.3 125.4 362 123.2 361.7 121.1C361.5 118.9 361.3 116.8 361.2 114.7C361.1 112.6 361 110.5 361 108.4C361 106.3 361.1 104.2 361.2 102.1C361.3 100 361.5 97.9 361.7 95.7C362 93.6 362.3 91.4 362.6 89.2C363 86.9 363.4 84.7 363.8 82.3C364.3 80 364.8 77.6 365.4 75.1C365.9 72.6 366.5 70.1 367.2 67.4C367.9 64.8 368.6 62.1 369.3 59.3C370 56.5 370.8 53.6 371.6 50.6C372.4 47.6 373.3 44.5 374.2 41.3C375 38.1 375.9 34.9 376.9 31.5C377.8 28.1 378.7 24.7 379.7 21.1C380.6 17.6 381.6 14 382.6 10.3C383.6 6.6 384.6 2.9 385.6 -0.9C386.5 -4.7 387.5 -8.6 388.5 -12.4C389.5 -16.3 390.5 -20.2 391.4 -24C392.4 -27.9 393.3 -31.8 394.2 -35.6C395.2 -39.4 396.1 -43.2 396.9 -47C397.8 -50.7 398.7 -54.3 399.5 -57.9C400.3 -61.4 401.1 -64.8 401.8 -68.1C402.5 -71.4 403.2 -74.6 403.9 -77.5C404.6 -80.5 405.2 -83.3 405.7 -85.9C406.3 -88.5 406.8 -90.9 407.3 -93C407.7 -95.2 408.1 -97.1 408.5 -98.7C408.8 -100.4 409.1 -101.8 409.4 -102.9C409.6 -104 409.8 -104.9 409.9 -105.5C410 -106 410.1 -106.3 410.1 -106.3"/>
</g>
<text class="cap" transform="translate(205.80 224.60) scale(1.08 1)"><tspan class="b" x="58.25 62.72 70.19">(b)</tspan><tspan x="78.89">(</tspan><tspan class="i" x="82.96">b</tspan><tspan class="s" x="90.28" dy="1.9">1</tspan><tspan x="95.74" dy="-1.9">,</tspan><tspan class="i" x="101.02">b</tspan><tspan class="s" x="108.06" dy="1.9">2</tspan><tspan x="113.52" dy="-1.9">)</tspan><tspan class="h" x="121.3">∈</tspan><tspan class="i" x="134.04">L</tspan><tspan class="s" x="141.57" dy="1.9">1</tspan></text><path d="M344.50 218.85H340.90A2.80 2.80 0 0 0 340.90 224.45H344.50M338.10 221.65H344.50" fill="none" stroke="#000" stroke-width="1.15"/>
<!-- panel c -->
<clipPath id="c2"><rect x="428.06" y="13.84" width="186.64" height="189.11"/></clipPath>
<path d="M429.29 108.40H615.01M553.00 15.15V201.65" stroke="#000" stroke-width="1.2" fill="none"/>
<path d="M429.60 108.40v2.6M491.30 108.40v2.6M614.70 108.40v2.6M553.00 183.00h-2.7M553.00 145.70h-2.7M553.00 71.10h-2.7M553.00 33.80h-2.7" stroke="#000" stroke-width="1.05" fill="none"/>
<g class="tk">
<text x="430.30" y="116.80">4</text>
<text x="492.00" y="116.80">2</text>
<text x="551.50" y="116.80" text-anchor="end">0</text>
<text x="614.80" y="116.80" text-anchor="middle">2</text>
<text x="549.70" y="184.95" text-anchor="end">4</text>
<text x="549.70" y="147.65" text-anchor="end">2</text>
<text x="549.70" y="73.05" text-anchor="end">2</text>
<text x="549.70" y="35.75" text-anchor="end">4</text>
<text x="491.3" y="123.6" class="al">x</text>
<text x="537" y="63.5" class="al">y</text>
</g>
<path d="M427.30 114.50h2.9M489.00 114.50h2.9M543.90 183.50h2.8M543.90 145.50h2.8" stroke="#000" stroke-width="1.0" fill="none"/>
<g clip-path="url(#c2)" stroke="#000" stroke-width="1.12" fill="none" stroke-linejoin="round" stroke-linecap="butt">
<path d="M427.7 25.3C427.7 25.3 428 25.8 428.4 26.7C428.9 27.7 429.6 29.1 430.5 30.9C431.4 32.7 432.5 34.9 433.8 37.5C435.2 40 436.7 42.8 438.5 45.8C440.2 48.9 442.2 52 444.3 55.2C446.5 58.3 448.8 61.4 451.3 64.3C453.8 67.1 456.5 69.7 459.3 71.7C462.1 73.8 465.1 75.2 468.2 76.1C471.3 77 474.5 77.2 477.9 77C481.2 76.9 484.7 76.3 488.2 75.8C491.7 75.3 495.3 74.8 499 74.6C502.6 74.3 506.3 74.3 510.1 74.8C513.8 75.2 517.6 75.9 521.4 77.1C525.1 78.3 528.9 79.9 532.7 81.7C536.4 83.5 540.1 85.6 543.8 87.2C547.4 88.9 551.1 90.1 554.6 89.6C558.1 89.2 561.6 87 564.9 83.6C568.2 80.3 571.5 75.9 574.6 71.1C577.7 66.2 580.6 61 583.5 55.6C586.3 50.2 589 44.7 591.5 39.3C594 33.9 596.3 28.5 598.4 23.4C600.6 18.3 602.5 13.4 604.3 9C606 4.5 607.6 0.4 608.9 -3.2C610.3 -6.8 611.4 -9.9 612.3 -12.5C613.2 -15 613.9 -16.9 614.3 -18.2C614.8 -19.5 615 -20.2 615 -20.2M427.7 191.5C427.7 191.5 428 191 428.4 190.1C428.9 189.1 429.6 187.7 430.5 185.9C431.4 184.1 432.5 181.9 433.8 179.3C435.2 176.8 436.7 174 438.5 171C440.2 167.9 442.2 164.8 444.3 161.6C446.5 158.5 448.8 155.4 451.3 152.5C453.8 149.7 456.5 147.1 459.3 145.1C462.1 143 465.1 141.6 468.2 140.7C471.3 139.8 474.5 139.6 477.9 139.8C481.2 139.9 484.7 140.5 488.2 141C491.7 141.5 495.3 142 499 142.2C502.6 142.5 506.3 142.5 510.1 142C513.8 141.6 517.6 140.9 521.4 139.7C525.1 138.5 528.9 136.9 532.7 135.1C536.4 133.3 540.1 131.2 543.8 129.6C547.4 127.9 551.1 126.7 554.6 127.2C558.1 127.6 561.6 129.8 564.9 133.2C568.2 136.5 571.5 140.9 574.6 145.7C577.7 150.6 580.6 155.8 583.5 161.2C586.3 166.6 589 172.1 591.5 177.5C594 182.9 596.3 188.3 598.4 193.4C600.6 198.5 602.5 203.4 604.3 207.8C606 212.3 607.6 216.4 608.9 220C610.3 223.6 611.4 226.7 612.3 229.3C613.2 231.8 613.9 233.7 614.3 235C614.8 236.3 615 237 615 237"/>
<path d="M427.7 27.4C427.7 27.4 427.9 27.7 428.2 28.4C428.5 29 429 30 429.6 31.3C430.2 32.6 430.9 34.1 431.8 35.9C432.7 37.8 433.8 39.8 434.9 42.1C436.1 44.3 437.4 46.8 438.8 49.3C440.3 51.9 441.8 54.6 443.5 57.2C445.2 59.9 447 62.6 448.8 65.2C450.7 67.8 452.7 70.3 454.8 72.5C456.9 74.7 459 76.7 461.3 78.4C463.5 80 465.8 81.2 468.2 82C470.5 82.8 472.9 83.2 475.4 83.2C477.8 83.3 480.3 83 482.8 82.6C485.3 82.2 487.9 81.7 490.4 81.3C492.9 80.9 495.4 80.5 497.9 80.3C500.4 80 502.9 79.9 505.4 80C507.8 80.1 510.2 80.4 512.6 80.8C514.9 81.2 517.2 81.8 519.5 82.6C521.7 83.4 523.9 84.3 525.9 85.3C528 86.4 530 87.6 531.9 88.8C533.8 90 535.6 91.3 537.3 92.7C538.9 94 540.5 95.3 541.9 96.6C543.3 97.9 544.7 99.2 545.8 100.4C547 101.6 548 102.7 548.9 103.7C549.8 104.7 550.6 105.5 551.2 106.2C551.8 106.9 552.2 107.5 552.5 107.9C552.8 108.2 553 108.4 553 108.4C553 108.4 552.8 108.6 552.5 108.9C552.2 109.3 551.8 109.9 551.2 110.6C550.6 111.3 549.8 112.1 548.9 113.1C548 114.1 547 115.2 545.8 116.4C544.7 117.6 543.3 118.9 541.9 120.2C540.5 121.5 538.9 122.8 537.3 124.1C535.6 125.5 533.8 126.8 531.9 128C530 129.2 528 130.4 525.9 131.5C523.9 132.5 521.7 133.4 519.5 134.2C517.2 135 514.9 135.6 512.6 136C510.2 136.4 507.8 136.7 505.4 136.8C502.9 136.9 500.4 136.8 497.9 136.5C495.4 136.3 492.9 135.9 490.4 135.5C487.9 135.1 485.3 134.6 482.8 134.2C480.3 133.8 477.8 133.5 475.4 133.6C472.9 133.6 470.5 134 468.2 134.8C465.8 135.6 463.5 136.8 461.3 138.4C459 140.1 456.9 142.1 454.8 144.3C452.7 146.5 450.7 149 448.8 151.6C447 154.2 445.2 156.9 443.5 159.6C441.8 162.2 440.3 164.9 438.8 167.5C437.4 170 436.1 172.5 434.9 174.7C433.8 177 432.7 179 431.8 180.9C430.9 182.7 430.2 184.2 429.6 185.5C429 186.8 428.5 187.8 428.2 188.4C427.9 189.1 427.7 189.4 427.7 189.4"/>
<path d="M615 235.6C615 235.6 614.9 235.4 614.8 234.9C614.6 234.5 614.4 233.9 614.1 233C613.8 232.1 613.4 231.1 613 229.8C612.6 228.6 612 227.1 611.5 225.5C610.9 223.8 610.2 222 609.5 220.1C608.8 218.1 608 216 607.2 213.8C606.4 211.6 605.5 209.2 604.6 206.8C603.6 204.4 602.6 201.8 601.6 199.2C600.6 196.6 599.5 194 598.4 191.2C597.3 188.5 596.2 185.8 595 183.1C593.8 180.3 592.6 177.6 591.4 174.8C590.2 172.1 589 169.4 587.7 166.7C586.5 164.1 585.3 161.4 584 158.9C582.8 156.3 581.5 153.8 580.3 151.4C579 149 577.8 146.7 576.6 144.4C575.4 142.2 574.2 140 573 138C571.8 135.9 570.7 134 569.6 132.2C568.5 130.3 567.4 128.6 566.4 127C565.4 125.4 564.4 123.9 563.4 122.5C562.5 121.1 561.6 119.8 560.8 118.6C560 117.5 559.2 116.4 558.5 115.4C557.8 114.5 557.1 113.6 556.6 112.9C556 112.1 555.5 111.4 555 110.9C554.6 110.3 554.2 109.9 553.9 109.5C553.6 109.1 553.4 108.9 553.2 108.7C553.1 108.5 553 108.4 553 108.4C553 108.4 553.1 108.3 553.2 108.1C553.4 107.9 553.6 107.7 553.9 107.3C554.2 106.9 554.6 106.5 555 105.9C555.5 105.4 556 104.7 556.6 103.9C557.1 103.2 557.8 102.3 558.5 101.4C559.2 100.4 560 99.3 560.8 98.2C561.6 97 562.5 95.7 563.4 94.3C564.4 92.9 565.4 91.4 566.4 89.8C567.4 88.2 568.5 86.5 569.6 84.6C570.7 82.8 571.8 80.9 573 78.8C574.2 76.8 575.4 74.6 576.6 72.4C577.8 70.1 579 67.8 580.3 65.4C581.5 63 582.8 60.5 584 57.9C585.3 55.4 586.5 52.7 587.7 50.1C589 47.4 590.2 44.7 591.4 42C592.6 39.2 593.8 36.5 595 33.7C596.2 31 597.3 28.3 598.4 25.6C599.5 22.8 600.6 20.2 601.6 17.6C602.6 15 603.6 12.4 604.6 10C605.5 7.6 606.4 5.2 607.2 3C608 0.8 608.8 -1.3 609.5 -3.3C610.2 -5.2 610.9 -7 611.5 -8.7C612 -10.3 612.6 -11.8 613 -13C613.4 -14.3 613.8 -15.3 614.1 -16.2C614.4 -17.1 614.6 -17.7 614.8 -18.1C614.9 -18.6 615 -18.8 615 -18.8"/>
<path d="M427.7 27.9C427.7 27.9 427.9 28.2 428.2 28.8C428.5 29.5 428.9 30.4 429.4 31.6C430 32.8 430.7 34.3 431.5 36C432.4 37.7 433.4 39.6 434.4 41.8C435.5 43.9 436.8 46.3 438.1 48.7C439.4 51.2 440.9 53.7 442.5 56.3C444 58.9 445.7 61.6 447.4 64.2C449.2 66.7 451.1 69.3 453 71.6C454.9 73.9 457 76.1 459 78C461.1 79.8 463.3 81.3 465.5 82.5C467.7 83.6 469.9 84.3 472.2 84.7C474.5 85 476.8 85 479.2 84.8C481.5 84.5 483.9 84.1 486.2 83.7C488.6 83.2 490.9 82.8 493.3 82.4C495.6 82 497.9 81.8 500.2 81.6C502.5 81.5 504.7 81.5 506.9 81.6C509.1 81.8 511.3 82.1 513.4 82.5C515.5 83 517.5 83.5 519.4 84.3C521.4 85 523.2 85.8 525 86.7C526.7 87.6 528.4 88.6 530 89.7C531.5 90.7 533 91.8 534.3 93C535.7 94.1 536.9 95.2 538 96.3C539.1 97.4 540 98.5 540.9 99.6C541.7 100.6 542.4 101.7 543 102.7C543.5 103.7 544 104.7 544.3 105.6C544.5 106.5 544.7 107.5 544.7 108.4C544.7 109.3 544.5 110.3 544.3 111.2C544 112.1 543.5 113.1 543 114.1C542.4 115.1 541.7 116.2 540.9 117.2C540 118.3 539.1 119.4 538 120.5C536.9 121.6 535.7 122.7 534.3 123.8C533 125 531.5 126.1 530 127.1C528.4 128.2 526.7 129.2 525 130.1C523.2 131 521.4 131.8 519.4 132.5C517.5 133.3 515.5 133.8 513.4 134.3C511.3 134.7 509.1 135 506.9 135.2C504.7 135.3 502.5 135.3 500.2 135.2C497.9 135 495.6 134.8 493.3 134.4C490.9 134 488.6 133.6 486.2 133.1C483.9 132.7 481.5 132.3 479.2 132C476.8 131.8 474.5 131.8 472.2 132.1C469.9 132.5 467.7 133.2 465.5 134.3C463.3 135.5 461.1 137 459 138.8C457 140.7 454.9 142.9 453 145.2C451.1 147.5 449.2 150.1 447.4 152.6C445.7 155.2 444 157.9 442.5 160.5C440.9 163.1 439.4 165.6 438.1 168.1C436.8 170.5 435.5 172.9 434.4 175C433.4 177.2 432.4 179.1 431.5 180.8C430.7 182.5 430 184 429.4 185.2C428.9 186.4 428.5 187.3 428.2 188C427.9 188.6 427.7 188.9 427.7 188.9"/>
<path d="M615 235.3C615 235.3 614.9 235.1 614.8 234.7C614.7 234.3 614.5 233.7 614.2 233C613.9 232.2 613.6 231.2 613.2 230.1C612.8 229 612.4 227.7 611.9 226.2C611.3 224.8 610.8 223.2 610.1 221.4C609.5 219.7 608.8 217.8 608.1 215.8C607.4 213.8 606.6 211.7 605.7 209.5C604.9 207.3 604 205 603.1 202.6C602.2 200.3 601.3 197.9 600.3 195.4C599.3 192.9 598.3 190.4 597.3 187.9C596.2 185.4 595.2 182.9 594.1 180.4C593 177.8 591.9 175.3 590.8 172.8C589.7 170.4 588.6 167.9 587.5 165.5C586.4 163.1 585.3 160.7 584.2 158.4C583.1 156.1 582 153.9 580.9 151.7C579.9 149.6 578.8 147.5 577.8 145.5C576.7 143.5 575.7 141.6 574.7 139.7C573.7 137.9 572.8 136.2 571.9 134.5C571 132.8 570.1 131.3 569.3 129.8C568.4 128.3 567.7 126.9 566.9 125.6C566.2 124.2 565.5 123 564.9 121.8C564.2 120.7 563.7 119.6 563.2 118.6C562.6 117.5 562.2 116.6 561.8 115.7C561.4 114.8 561.1 113.9 560.8 113.1C560.5 112.2 560.3 111.5 560.2 110.7C560.1 109.9 560 109.2 560 108.4C560 107.6 560.1 106.9 560.2 106.1C560.3 105.3 560.5 104.6 560.8 103.7C561.1 102.9 561.4 102 561.8 101.1C562.2 100.2 562.6 99.3 563.2 98.2C563.7 97.2 564.2 96.1 564.9 95C565.5 93.8 566.2 92.6 566.9 91.2C567.7 89.9 568.4 88.5 569.3 87C570.1 85.5 571 84 571.9 82.3C572.8 80.6 573.7 78.9 574.7 77.1C575.7 75.2 576.7 73.3 577.8 71.3C578.8 69.3 579.9 67.2 580.9 65.1C582 62.9 583.1 60.7 584.2 58.4C585.3 56.1 586.4 53.7 587.5 51.3C588.6 48.9 589.7 46.4 590.8 44C591.9 41.5 593 39 594.1 36.4C595.2 33.9 596.2 31.4 597.3 28.9C598.3 26.4 599.3 23.9 600.3 21.4C601.3 18.9 602.2 16.5 603.1 14.2C604 11.8 604.9 9.5 605.7 7.3C606.6 5.1 607.4 3 608.1 1C608.8 -1 609.5 -2.9 610.1 -4.6C610.8 -6.4 611.3 -8 611.9 -9.4C612.4 -10.9 612.8 -12.2 613.2 -13.3C613.6 -14.4 613.9 -15.4 614.2 -16.2C614.5 -16.9 614.7 -17.5 614.8 -17.9C614.9 -18.3 615 -18.5 615 -18.5"/>
<path d="M427.7 31.4C427.7 31.4 427.8 31.5 427.9 31.8C428 32.1 428.2 32.5 428.4 33C428.7 33.5 429 34.2 429.3 34.9C429.7 35.7 430.1 36.6 430.5 37.6C431 38.6 431.5 39.7 432 40.9C432.6 42.1 433.2 43.3 433.8 44.7C434.4 46.1 435.1 47.5 435.9 49C436.6 50.5 437.3 52 438.1 53.6C438.9 55.2 439.8 56.8 440.6 58.5C441.5 60.1 442.4 61.8 443.3 63.5C444.2 65.1 445.1 66.8 446.1 68.5C447 70.1 447.9 71.8 448.9 73.4C449.9 75 450.8 76.6 451.8 78.2C452.8 79.7 453.8 81.2 454.7 82.7C455.7 84.1 456.6 85.6 457.6 86.9C458.5 88.3 459.4 89.6 460.3 90.8C461.3 92 462.1 93.2 463 94.3C463.9 95.4 464.7 96.4 465.5 97.4C466.3 98.4 467 99.3 467.8 100.1C468.5 100.9 469.2 101.7 469.8 102.4C470.5 103.1 471.1 103.7 471.6 104.3C472.2 104.8 472.7 105.3 473.1 105.8C473.6 106.2 474 106.6 474.3 106.9C474.7 107.3 474.9 107.5 475.2 107.8C475.4 108 475.6 108.1 475.7 108.2C475.8 108.3 475.9 108.4 475.9 108.4C475.9 108.4 475.8 108.5 475.7 108.6C475.6 108.7 475.4 108.8 475.2 109C474.9 109.3 474.7 109.5 474.3 109.9C474 110.2 473.6 110.6 473.1 111C472.7 111.5 472.2 112 471.6 112.5C471.1 113.1 470.5 113.7 469.8 114.4C469.2 115.1 468.5 115.9 467.8 116.7C467 117.5 466.3 118.4 465.5 119.4C464.7 120.4 463.9 121.4 463 122.5C462.1 123.6 461.3 124.8 460.3 126C459.4 127.2 458.5 128.5 457.6 129.9C456.6 131.2 455.7 132.7 454.7 134.1C453.8 135.6 452.8 137.1 451.8 138.6C450.8 140.2 449.9 141.8 448.9 143.4C447.9 145 447 146.7 446.1 148.3C445.1 150 444.2 151.7 443.3 153.3C442.4 155 441.5 156.7 440.6 158.3C439.8 160 438.9 161.6 438.1 163.2C437.3 164.8 436.6 166.3 435.9 167.8C435.1 169.3 434.4 170.7 433.8 172.1C433.2 173.5 432.6 174.7 432 175.9C431.5 177.1 431 178.2 430.5 179.2C430.1 180.2 429.7 181.1 429.3 181.9C429 182.6 428.7 183.3 428.4 183.8C428.2 184.3 428 184.7 427.9 185C427.8 185.3 427.7 185.4 427.7 185.4"/>
<path d="M475.9 108.4C475.9 108.4 475.9 108.3 476 108.3C476.2 108.2 476.3 108 476.5 107.8C476.8 107.6 477 107.4 477.3 107.1C477.7 106.8 478 106.5 478.5 106.1C478.9 105.8 479.4 105.4 479.9 105C480.4 104.6 481 104.2 481.6 103.7C482.2 103.3 482.8 102.8 483.5 102.4C484.2 101.9 484.9 101.4 485.7 101C486.4 100.5 487.2 100.1 488 99.6C488.8 99.2 489.6 98.8 490.5 98.4C491.3 98 492.2 97.6 493.1 97.3C494 96.9 494.9 96.6 495.8 96.4C496.7 96.1 497.6 95.9 498.5 95.7C499.4 95.6 500.3 95.4 501.2 95.3C502.2 95.3 503.1 95.2 503.9 95.2C504.8 95.2 505.7 95.3 506.5 95.4C507.4 95.5 508.2 95.7 509 95.9C509.9 96.1 510.6 96.3 511.4 96.6C512.1 96.9 512.9 97.2 513.5 97.5C514.2 97.9 514.9 98.3 515.5 98.7C516.1 99.1 516.6 99.6 517.2 100C517.7 100.5 518.1 101 518.6 101.5C519 102.1 519.4 102.6 519.7 103.2C520 103.7 520.3 104.3 520.5 104.9C520.7 105.4 520.9 106 521 106.6C521.1 107.2 521.2 107.8 521.2 108.4C521.2 109 521.1 109.6 521 110.2C520.9 110.8 520.7 111.4 520.5 111.9C520.3 112.5 520 113.1 519.7 113.6C519.4 114.2 519 114.7 518.6 115.3C518.1 115.8 517.7 116.3 517.2 116.8C516.6 117.2 516.1 117.7 515.5 118.1C514.9 118.5 514.2 118.9 513.5 119.3C512.9 119.6 512.1 119.9 511.4 120.2C510.6 120.5 509.9 120.7 509 120.9C508.2 121.1 507.4 121.3 506.5 121.4C505.7 121.5 504.8 121.6 503.9 121.6C503.1 121.6 502.2 121.5 501.2 121.5C500.3 121.4 499.4 121.2 498.5 121.1C497.6 120.9 496.7 120.7 495.8 120.4C494.9 120.2 494 119.9 493.1 119.5C492.2 119.2 491.3 118.8 490.5 118.4C489.6 118 488.8 117.6 488 117.2C487.2 116.7 486.4 116.3 485.7 115.8C484.9 115.4 484.2 114.9 483.5 114.4C482.8 114 482.2 113.5 481.6 113.1C481 112.6 480.4 112.2 479.9 111.8C479.4 111.4 478.9 111 478.5 110.7C478 110.3 477.7 110 477.3 109.7C477 109.4 476.8 109.2 476.5 109C476.3 108.8 476.2 108.6 476 108.5C475.9 108.5 475.9 108.4 475.9 108.4Z"/>
<path d="M615 233.1C615 233.1 615 232.9 614.8 232.6C614.7 232.3 614.6 231.8 614.4 231.2C614.1 230.5 613.9 229.8 613.6 228.8C613.2 227.9 612.9 226.8 612.5 225.6C612 224.4 611.6 223.1 611.1 221.6C610.6 220.1 610 218.6 609.4 216.9C608.8 215.2 608.2 213.4 607.5 211.6C606.8 209.7 606.1 207.8 605.4 205.8C604.6 203.7 603.9 201.7 603.1 199.5C602.3 197.4 601.5 195.3 600.6 193.1C599.8 190.9 598.9 188.6 598.1 186.4C597.2 184.2 596.3 182 595.4 179.7C594.5 177.5 593.6 175.3 592.7 173.1C591.8 170.9 590.9 168.7 590 166.5C589.1 164.4 588.3 162.2 587.4 160.2C586.5 158.1 585.7 156.1 584.8 154.1C584 152.1 583.2 150.2 582.4 148.3C581.6 146.4 580.8 144.6 580.1 142.8C579.3 141 578.6 139.3 577.9 137.6C577.3 135.9 576.6 134.3 576 132.7C575.4 131.2 574.9 129.7 574.4 128.2C573.9 126.7 573.4 125.3 573 123.9C572.6 122.5 572.2 121.1 571.9 119.8C571.6 118.5 571.3 117.2 571.1 115.9C570.9 114.6 570.7 113.4 570.6 112.1C570.5 110.9 570.4 109.6 570.4 108.4C570.4 107.2 570.5 105.9 570.6 104.7C570.7 103.4 570.9 102.2 571.1 100.9C571.3 99.6 571.6 98.3 571.9 97C572.2 95.7 572.6 94.3 573 92.9C573.4 91.5 573.9 90.1 574.4 88.6C574.9 87.1 575.4 85.6 576 84.1C576.6 82.5 577.3 80.9 577.9 79.2C578.6 77.5 579.3 75.8 580.1 74C580.8 72.2 581.6 70.4 582.4 68.5C583.2 66.6 584 64.7 584.8 62.7C585.7 60.7 586.5 58.7 587.4 56.6C588.3 54.6 589.1 52.4 590 50.3C590.9 48.1 591.8 45.9 592.7 43.7C593.6 41.5 594.5 39.3 595.4 37.1C596.3 34.8 597.2 32.6 598.1 30.4C598.9 28.2 599.8 25.9 600.6 23.7C601.5 21.5 602.3 19.4 603.1 17.3C603.9 15.1 604.6 13.1 605.4 11C606.1 9 606.8 7.1 607.5 5.2C608.2 3.4 608.8 1.6 609.4 -0.1C610 -1.8 610.6 -3.3 611.1 -4.8C611.6 -6.3 612 -7.6 612.5 -8.8C612.9 -10 613.2 -11.1 613.6 -12C613.9 -13 614.1 -13.7 614.4 -14.4C614.6 -15 614.7 -15.5 614.8 -15.8C615 -16.1 615 -16.3 615 -16.3"/>
<path d="M427.7 31.8C427.7 31.8 427.8 31.9 427.9 32.1C428 32.4 428.1 32.7 428.3 33.2C428.5 33.6 428.8 34.1 429.1 34.8C429.4 35.5 429.7 36.2 430.1 37C430.4 37.9 430.9 38.8 431.3 39.8C431.8 40.9 432.3 42 432.8 43.1C433.4 44.3 433.9 45.5 434.6 46.8C435.2 48.1 435.8 49.4 436.5 50.8C437.2 52.2 437.8 53.6 438.6 55C439.3 56.5 440 57.9 440.8 59.4C441.6 60.9 442.3 62.4 443.1 63.9C443.9 65.3 444.7 66.8 445.5 68.3C446.3 69.8 447.2 71.2 448 72.6C448.8 74.1 449.6 75.5 450.4 76.8C451.2 78.2 452 79.5 452.8 80.8C453.6 82.1 454.4 83.4 455.1 84.6C455.9 85.8 456.6 87 457.4 88.1C458.1 89.2 458.8 90.3 459.4 91.3C460.1 92.3 460.8 93.3 461.4 94.2C462 95.1 462.6 96 463.1 96.8C463.6 97.7 464.1 98.5 464.6 99.2C465.1 100 465.5 100.7 465.9 101.4C466.2 102 466.6 102.7 466.9 103.3C467.2 103.9 467.4 104.5 467.6 105.1C467.8 105.7 467.9 106.2 468 106.8C468.1 107.3 468.2 107.9 468.2 108.4C468.2 108.9 468.1 109.5 468 110C467.9 110.6 467.8 111.1 467.6 111.7C467.4 112.3 467.2 112.9 466.9 113.5C466.6 114.1 466.2 114.8 465.9 115.4C465.5 116.1 465.1 116.8 464.6 117.6C464.1 118.3 463.6 119.1 463.1 120C462.6 120.8 462 121.7 461.4 122.6C460.8 123.5 460.1 124.5 459.4 125.5C458.8 126.5 458.1 127.6 457.4 128.7C456.6 129.8 455.9 131 455.1 132.2C454.4 133.4 453.6 134.7 452.8 136C452 137.3 451.2 138.6 450.4 140C449.6 141.3 448.8 142.7 448 144.2C447.2 145.6 446.3 147 445.5 148.5C444.7 150 443.9 151.5 443.1 152.9C442.3 154.4 441.6 155.9 440.8 157.4C440 158.9 439.3 160.3 438.6 161.8C437.8 163.2 437.2 164.6 436.5 166C435.8 167.4 435.2 168.7 434.6 170C433.9 171.3 433.4 172.5 432.8 173.7C432.3 174.8 431.8 175.9 431.3 177C430.9 178 430.4 178.9 430.1 179.8C429.7 180.6 429.4 181.3 429.1 182C428.8 182.7 428.5 183.2 428.3 183.6C428.1 184.1 428 184.4 427.9 184.7C427.8 184.9 427.7 185 427.7 185"/>
<path d="M486.3 108.4C486.3 108.1 486.4 107.7 486.5 107.4C486.5 107 486.6 106.7 486.8 106.3C486.9 106 487.1 105.7 487.4 105.3C487.6 105 487.8 104.6 488.1 104.3C488.4 104 488.8 103.6 489.1 103.3C489.5 103 489.9 102.6 490.3 102.3C490.7 102 491.1 101.7 491.6 101.4C492.1 101.1 492.6 100.8 493.1 100.5C493.6 100.2 494.2 100 494.7 99.7C495.3 99.5 495.9 99.3 496.5 99.1C497 98.9 497.7 98.7 498.3 98.5C498.9 98.4 499.5 98.2 500.1 98.1C500.8 98 501.4 97.9 502 97.9C502.6 97.8 503.3 97.8 503.9 97.8C504.5 97.8 505.2 97.9 505.8 97.9C506.4 98 507 98.1 507.6 98.2C508.2 98.4 508.7 98.5 509.3 98.7C509.9 98.9 510.4 99.1 510.9 99.3C511.4 99.6 511.9 99.8 512.4 100.1C512.9 100.4 513.3 100.7 513.7 101C514.2 101.4 514.6 101.7 514.9 102.1C515.3 102.4 515.6 102.8 515.9 103.2C516.2 103.6 516.4 104 516.7 104.4C516.9 104.9 517.1 105.3 517.2 105.7C517.4 106.2 517.5 106.6 517.6 107.1C517.6 107.5 517.7 108 517.7 108.4C517.7 108.8 517.6 109.3 517.6 109.7C517.5 110.2 517.4 110.6 517.2 111.1C517.1 111.5 516.9 111.9 516.7 112.4C516.4 112.8 516.2 113.2 515.9 113.6C515.6 114 515.3 114.4 514.9 114.7C514.6 115.1 514.2 115.4 513.7 115.8C513.3 116.1 512.9 116.4 512.4 116.7C511.9 117 511.4 117.2 510.9 117.5C510.4 117.7 509.9 117.9 509.3 118.1C508.7 118.3 508.2 118.4 507.6 118.6C507 118.7 506.4 118.8 505.8 118.9C505.2 118.9 504.5 119 503.9 119C503.3 119 502.6 119 502 118.9C501.4 118.9 500.8 118.8 500.1 118.7C499.5 118.6 498.9 118.4 498.3 118.3C497.7 118.1 497 117.9 496.5 117.7C495.9 117.5 495.3 117.3 494.7 117.1C494.2 116.8 493.6 116.6 493.1 116.3C492.6 116 492.1 115.7 491.6 115.4C491.1 115.1 490.7 114.8 490.3 114.5C489.9 114.2 489.5 113.8 489.1 113.5C488.8 113.2 488.4 112.8 488.1 112.5C487.8 112.2 487.6 111.8 487.4 111.5C487.1 111.1 486.9 110.8 486.8 110.5C486.6 110.1 486.5 109.8 486.5 109.4C486.4 109.1 486.3 108.7 486.3 108.4Z"/>
<path d="M615 232.8C615 232.8 615 232.7 614.8 232.4C614.7 232 614.6 231.6 614.4 231C614.2 230.3 613.9 229.6 613.6 228.6C613.3 227.7 612.9 226.7 612.5 225.5C612.1 224.3 611.6 223 611.1 221.5C610.6 220.1 610.1 218.5 609.5 216.9C608.9 215.2 608.3 213.4 607.6 211.6C607 209.8 606.3 207.8 605.5 205.9C604.8 203.9 604.1 201.8 603.3 199.7C602.5 197.6 601.7 195.5 600.9 193.3C600 191.1 599.2 188.9 598.3 186.7C597.5 184.5 596.6 182.3 595.7 180.1C594.8 177.9 594 175.6 593.1 173.5C592.2 171.3 591.3 169.1 590.4 167C589.6 164.8 588.7 162.7 587.8 160.6C587 158.6 586.1 156.5 585.3 154.5C584.5 152.6 583.7 150.6 582.9 148.7C582.1 146.9 581.3 145 580.6 143.2C579.9 141.4 579.2 139.7 578.5 138C577.9 136.4 577.2 134.7 576.7 133.1C576.1 131.6 575.5 130 575 128.5C574.5 127 574.1 125.6 573.7 124.2C573.2 122.8 572.9 121.4 572.6 120C572.3 118.7 572 117.4 571.8 116.1C571.6 114.8 571.4 113.5 571.3 112.2C571.2 110.9 571.1 109.7 571.1 108.4C571.1 107.1 571.2 105.9 571.3 104.6C571.4 103.3 571.6 102 571.8 100.7C572 99.4 572.3 98.1 572.6 96.8C572.9 95.4 573.2 94 573.7 92.6C574.1 91.2 574.5 89.8 575 88.3C575.5 86.8 576.1 85.2 576.7 83.7C577.2 82.1 577.9 80.4 578.5 78.8C579.2 77.1 579.9 75.4 580.6 73.6C581.3 71.8 582.1 69.9 582.9 68.1C583.7 66.2 584.5 64.2 585.3 62.3C586.1 60.3 587 58.2 587.8 56.2C588.7 54.1 589.6 52 590.4 49.8C591.3 47.7 592.2 45.5 593.1 43.3C594 41.2 594.8 38.9 595.7 36.7C596.6 34.5 597.5 32.3 598.3 30.1C599.2 27.9 600 25.7 600.9 23.5C601.7 21.3 602.5 19.2 603.3 17.1C604.1 15 604.8 12.9 605.5 10.9C606.3 9 607 7 607.6 5.2C608.3 3.4 608.9 1.6 609.5 -0.1C610.1 -1.7 610.6 -3.3 611.1 -4.7C611.6 -6.2 612.1 -7.5 612.5 -8.7C612.9 -9.9 613.3 -10.9 613.6 -11.8C613.9 -12.8 614.2 -13.5 614.4 -14.2C614.6 -14.8 614.7 -15.2 614.8 -15.6C615 -15.9 615 -16 615 -16"/>
<path d="M423.4 22.5C423.4 22.5 423.5 22.6 423.6 22.9C423.7 23.1 423.8 23.5 424 23.9C424.2 24.4 424.4 24.9 424.7 25.6C425 26.3 425.3 27.1 425.7 27.9C426 28.8 426.4 29.8 426.9 30.8C427.3 31.9 427.8 33 428.4 34.2C428.9 35.4 429.4 36.7 430 38C430.6 39.4 431.2 40.8 431.9 42.2C432.5 43.7 433.2 45.1 433.9 46.6C434.6 48.2 435.3 49.7 436.1 51.3C436.8 52.8 437.6 54.4 438.3 56C439.1 57.6 439.9 59.1 440.7 60.7C441.4 62.3 442.2 63.8 443 65.4C443.8 66.9 444.6 68.5 445.4 69.9C446.2 71.4 446.9 72.9 447.7 74.3C448.5 75.8 449.2 77.2 450 78.5C450.7 79.9 451.4 81.2 452.1 82.5C452.8 83.8 453.5 85 454.1 86.2C454.8 87.4 455.4 88.5 456 89.7C456.6 90.8 457.2 91.8 457.7 92.9C458.2 93.9 458.7 94.9 459.1 95.8C459.6 96.8 460 97.7 460.4 98.6C460.7 99.5 461.1 100.4 461.3 101.2C461.6 102.1 461.9 102.9 462 103.7C462.2 104.5 462.4 105.3 462.5 106.1C462.6 106.9 462.6 107.6 462.6 108.4C462.6 109.2 462.6 109.9 462.5 110.7C462.4 111.5 462.2 112.3 462 113.1C461.9 113.9 461.6 114.7 461.3 115.6C461.1 116.4 460.7 117.3 460.4 118.2C460 119.1 459.6 120 459.1 121C458.7 121.9 458.2 122.9 457.7 123.9C457.2 125 456.6 126 456 127.1C455.4 128.3 454.8 129.4 454.1 130.6C453.5 131.8 452.8 133 452.1 134.3C451.4 135.6 450.7 136.9 450 138.3C449.2 139.6 448.5 141 447.7 142.5C446.9 143.9 446.2 145.4 445.4 146.9C444.6 148.3 443.8 149.9 443 151.4C442.2 153 441.4 154.5 440.7 156.1C439.9 157.7 439.1 159.2 438.3 160.8C437.6 162.4 436.8 164 436.1 165.5C435.3 167.1 434.6 168.6 433.9 170.2C433.2 171.7 432.5 173.1 431.9 174.6C431.2 176 430.6 177.4 430 178.8C429.4 180.1 428.9 181.4 428.4 182.6C427.8 183.8 427.3 184.9 426.9 186C426.4 187 426 188 425.7 188.9C425.3 189.7 425 190.5 424.7 191.2C424.4 191.9 424.2 192.4 424 192.9C423.8 193.3 423.7 193.7 423.6 193.9C423.5 194.2 423.4 194.3 423.4 194.3"/>
<path d="M617.8 240.6C617.8 240.6 617.7 240.4 617.6 240.1C617.5 239.8 617.3 239.3 617.1 238.6C616.9 237.9 616.6 237.1 616.3 236.2C616 235.2 615.6 234.1 615.2 232.8C614.8 231.6 614.3 230.2 613.8 228.6C613.3 227.1 612.7 225.5 612.1 223.7C611.5 222 610.9 220.1 610.2 218.2C609.5 216.2 608.8 214.2 608.1 212.1C607.3 210 606.5 207.8 605.7 205.6C604.9 203.4 604.1 201.1 603.2 198.8C602.4 196.5 601.5 194.2 600.7 191.9C599.8 189.5 598.9 187.2 598 184.8C597.1 182.5 596.2 180.1 595.3 177.8C594.4 175.5 593.4 173.2 592.5 170.9C591.6 168.7 590.8 166.4 589.9 164.2C589 162 588.1 159.9 587.3 157.8C586.4 155.7 585.6 153.6 584.8 151.6C584 149.6 583.2 147.6 582.5 145.7C581.7 143.8 581 142 580.3 140.2C579.6 138.4 579 136.7 578.4 135C577.8 133.3 577.2 131.6 576.7 130C576.2 128.4 575.7 126.9 575.3 125.4C574.9 123.9 574.5 122.4 574.2 120.9C573.9 119.5 573.6 118.1 573.4 116.6C573.2 115.2 573 113.9 572.9 112.5C572.8 111.1 572.7 109.8 572.7 108.4C572.7 107 572.8 105.7 572.9 104.3C573 102.9 573.2 101.6 573.4 100.2C573.6 98.7 573.9 97.3 574.2 95.9C574.5 94.4 574.9 92.9 575.3 91.4C575.7 89.9 576.2 88.4 576.7 86.8C577.2 85.2 577.8 83.5 578.4 81.8C579 80.1 579.6 78.4 580.3 76.6C581 74.8 581.7 73 582.5 71.1C583.2 69.2 584 67.2 584.8 65.2C585.6 63.2 586.4 61.1 587.3 59C588.1 56.9 589 54.8 589.9 52.6C590.8 50.4 591.6 48.1 592.5 45.9C593.4 43.6 594.4 41.3 595.3 39C596.2 36.7 597.1 34.3 598 32C598.9 29.6 599.8 27.3 600.7 24.9C601.5 22.6 602.4 20.3 603.2 18C604.1 15.7 604.9 13.4 605.7 11.2C606.5 9 607.3 6.8 608.1 4.7C608.8 2.6 609.5 0.6 610.2 -1.4C610.9 -3.3 611.5 -5.2 612.1 -6.9C612.7 -8.7 613.3 -10.3 613.8 -11.8C614.3 -13.4 614.8 -14.8 615.2 -16C615.6 -17.3 616 -18.4 616.3 -19.4C616.6 -20.3 616.9 -21.1 617.1 -21.8C617.3 -22.5 617.5 -23 617.6 -23.3C617.7 -23.6 617.8 -23.8 617.8 -23.8"/>
<path d="M427.7 34.4C427.7 34.4 427.8 34.5 427.9 34.7C427.9 34.9 428 35.1 428.2 35.5C428.3 35.8 428.5 36.2 428.7 36.7C428.9 37.2 429.2 37.8 429.5 38.5C429.7 39.1 430.1 39.8 430.4 40.6C430.7 41.4 431.1 42.3 431.5 43.2C431.9 44.1 432.3 45.1 432.8 46.1C433.2 47.1 433.7 48.2 434.2 49.3C434.7 50.4 435.2 51.6 435.8 52.7C436.3 53.9 436.8 55.1 437.4 56.3C438 57.6 438.5 58.8 439.1 60.1C439.7 61.3 440.3 62.6 440.9 63.8C441.5 65.1 442.1 66.4 442.7 67.6C443.3 68.9 443.9 70.2 444.5 71.4C445.1 72.7 445.7 73.9 446.3 75.1C446.9 76.4 447.5 77.6 448 78.8C448.6 79.9 449.1 81.1 449.7 82.3C450.2 83.4 450.7 84.5 451.2 85.6C451.7 86.7 452.2 87.8 452.6 88.9C453.1 89.9 453.5 90.9 453.9 92C454.3 93 454.7 94 455 94.9C455.4 95.9 455.7 96.8 456 97.8C456.2 98.7 456.5 99.6 456.7 100.5C456.9 101.4 457.1 102.3 457.2 103.2C457.4 104.1 457.5 104.9 457.6 105.8C457.6 106.7 457.7 107.5 457.7 108.4C457.7 109.3 457.6 110.1 457.6 111C457.5 111.9 457.4 112.7 457.2 113.6C457.1 114.5 456.9 115.4 456.7 116.3C456.5 117.2 456.2 118.1 456 119C455.7 120 455.4 120.9 455 121.9C454.7 122.8 454.3 123.8 453.9 124.8C453.5 125.9 453.1 126.9 452.6 127.9C452.2 129 451.7 130.1 451.2 131.2C450.7 132.3 450.2 133.4 449.7 134.5C449.1 135.7 448.6 136.9 448 138C447.5 139.2 446.9 140.4 446.3 141.7C445.7 142.9 445.1 144.1 444.5 145.4C443.9 146.6 443.3 147.9 442.7 149.2C442.1 150.4 441.5 151.7 440.9 153C440.3 154.2 439.7 155.5 439.1 156.7C438.5 158 438 159.2 437.4 160.5C436.8 161.7 436.3 162.9 435.8 164.1C435.2 165.2 434.7 166.4 434.2 167.5C433.7 168.6 433.2 169.7 432.8 170.7C432.3 171.7 431.9 172.7 431.5 173.6C431.1 174.5 430.7 175.4 430.4 176.2C430.1 177 429.7 177.7 429.5 178.3C429.2 179 428.9 179.6 428.7 180.1C428.5 180.6 428.3 181 428.2 181.3C428 181.7 427.9 181.9 427.9 182.1C427.8 182.3 427.7 182.4 427.7 182.4"/>
<path d="M615 231.2C615 231.2 615 231.1 614.9 230.8C614.8 230.5 614.6 230.1 614.4 229.5C614.2 228.9 614 228.2 613.7 227.4C613.4 226.5 613.1 225.5 612.7 224.4C612.3 223.3 611.9 222.1 611.5 220.7C611 219.4 610.5 217.9 610 216.4C609.4 214.9 608.9 213.2 608.3 211.5C607.7 209.8 607 208 606.4 206.1C605.7 204.2 605 202.3 604.3 200.3C603.6 198.3 602.8 196.3 602.1 194.3C601.3 192.2 600.6 190.1 599.8 188C599 185.9 598.2 183.8 597.4 181.7C596.6 179.5 595.8 177.4 595 175.3C594.2 173.2 593.4 171.1 592.6 169C591.8 166.9 591 164.9 590.2 162.8C589.4 160.8 588.6 158.8 587.9 156.8C587.1 154.8 586.4 152.9 585.7 151C584.9 149.1 584.3 147.3 583.6 145.5C582.9 143.6 582.3 141.9 581.7 140.1C581.1 138.4 580.5 136.7 580 135.1C579.4 133.4 578.9 131.8 578.5 130.2C578 128.6 577.6 127.1 577.2 125.6C576.9 124.1 576.5 122.6 576.2 121.1C576 119.7 575.7 118.2 575.5 116.8C575.3 115.4 575.2 114 575.1 112.6C575 111.2 574.9 109.8 574.9 108.4C574.9 107 575 105.6 575.1 104.2C575.2 102.8 575.3 101.4 575.5 100C575.7 98.6 576 97.1 576.2 95.7C576.5 94.2 576.9 92.7 577.2 91.2C577.6 89.7 578 88.2 578.5 86.6C578.9 85 579.4 83.4 580 81.7C580.5 80.1 581.1 78.4 581.7 76.7C582.3 74.9 582.9 73.2 583.6 71.3C584.3 69.5 584.9 67.7 585.7 65.8C586.4 63.9 587.1 62 587.9 60C588.6 58 589.4 56 590.2 54C591 51.9 591.8 49.9 592.6 47.8C593.4 45.7 594.2 43.6 595 41.5C595.8 39.4 596.6 37.3 597.4 35.1C598.2 33 599 30.9 599.8 28.8C600.6 26.7 601.3 24.6 602.1 22.5C602.8 20.5 603.6 18.5 604.3 16.5C605 14.5 605.7 12.6 606.4 10.7C607 8.8 607.7 7 608.3 5.3C608.9 3.6 609.4 1.9 610 0.4C610.5 -1.1 611 -2.6 611.5 -3.9C611.9 -5.3 612.3 -6.5 612.7 -7.6C613.1 -8.7 613.4 -9.7 613.7 -10.6C614 -11.4 614.2 -12.1 614.4 -12.7C614.6 -13.3 614.8 -13.7 614.9 -14C615 -14.3 615 -14.4 615 -14.4"/>
</g>
<text class="cap" transform="translate(409.10 224.60) scale(1.08 1)"><tspan class="b" x="59.75 64.22 70.19">(c)</tspan><tspan x="78.89">(</tspan><tspan class="i" x="82.96">b</tspan><tspan class="s" x="90.28" dy="1.9">1</tspan><tspan x="95.74" dy="-1.9">,</tspan><tspan class="i" x="101.02">b</tspan><tspan class="s" x="108.06" dy="1.9">2</tspan><tspan x="113.52" dy="-1.9">)</tspan><tspan class="h" x="121.3">∈</tspan><tspan class="i" x="133.59">B</tspan><tspan class="s" x="142.5" dy="1.9">1</tspan></text><path d="M547.80 218.85H544.20A2.80 2.80 0 0 0 544.20 224.45H547.80M541.40 221.65H547.80" fill="none" stroke="#000" stroke-width="1.15"/>
<!-- panel d -->
<clipPath id="c3"><rect x="652.39" y="40.12" width="150.81" height="136.56"/></clipPath>
<path d="M630.85 108.40H819.90M765.50 17.36V199.44" stroke="#000" stroke-width="1.2" fill="none"/>
<path d="M657.78 108.40v2.6M711.64 108.40v2.6M819.36 108.40v2.6M765.50 199.44h-2.7M765.50 153.92h-2.7M765.50 62.88h-2.7M765.50 17.36h-2.7" stroke="#000" stroke-width="1.05" fill="none"/>
<g class="tk">
<text x="658.48" y="116.80">4</text>
<text x="712.34" y="116.80">2</text>
<text x="764.00" y="116.80" text-anchor="end">0</text>
<text x="819.46" y="116.80" text-anchor="middle">2</text>
<text x="762.20" y="201.39" text-anchor="end">4</text>
<text x="762.20" y="155.87" text-anchor="end">2</text>
<text x="762.20" y="64.83" text-anchor="end">2</text>
<text x="762.20" y="19.31" text-anchor="end">4</text>
<text x="-50" y="-50" class="al">x</text>
<text x="749" y="64.5" class="al">y</text>
</g>
<path d="M655.48 114.50h2.9M709.34 114.50h2.9M756.40 199.50h2.8M756.40 153.50h2.8" stroke="#000" stroke-width="1.0" fill="none"/>
<g clip-path="url(#c3)" stroke="#000" stroke-width="1.12" fill="none" stroke-linejoin="round" stroke-linecap="butt">
<path d="M652.1 12.1C652.1 12.1 652.3 12.7 652.7 13.8C653 15 653.6 16.8 654.3 19.1C655.1 21.4 656 24.2 657 27.4C658.1 30.7 659.4 34.3 660.8 38.3C662.2 42.3 663.8 46.5 665.5 50.9C667.3 55.2 669.1 59.7 671.2 64.1C673.2 68.4 675.3 72.6 677.6 76.2C679.9 79.7 682.3 82.7 684.8 84.2C687.3 85.8 689.9 86 692.6 85C695.3 84.1 698.1 82.2 701 80.2C703.8 78.2 706.7 76.2 709.7 74.4C712.6 72.7 715.7 71.3 718.7 70.3C721.7 69.4 724.8 68.9 727.8 69C730.8 69 733.9 69.6 736.9 70.6C739.9 71.6 742.9 73.1 745.9 74.9C748.9 76.7 751.8 78.8 754.6 80.7C757.5 82.7 760.3 84.5 763 85.3C765.7 86 768.3 85.6 770.8 83.7C773.3 81.8 775.7 78.7 778 74.9C780.3 71.2 782.4 66.8 784.4 62.4C786.5 58 788.3 53.4 790.1 48.9C791.8 44.5 793.4 40.2 794.8 36.1C796.2 32.1 797.5 28.4 798.6 25.1C799.6 21.8 800.5 19 801.3 16.7C802 14.4 802.6 12.6 802.9 11.4C803.3 10.2 803.5 9.6 803.5 9.6M652.1 204.7C652.1 204.7 652.3 204.1 652.7 203C653 201.8 653.6 200 654.3 197.7C655.1 195.4 656 192.6 657 189.4C658.1 186.1 659.4 182.5 660.8 178.5C662.2 174.5 663.8 170.3 665.5 165.9C667.3 161.6 669.1 157.1 671.2 152.7C673.2 148.4 675.3 144.2 677.6 140.6C679.9 137.1 682.3 134.1 684.8 132.6C687.3 131 689.9 130.8 692.6 131.8C695.3 132.7 698.1 134.6 701 136.6C703.8 138.6 706.7 140.6 709.7 142.4C712.6 144.1 715.7 145.5 718.7 146.5C721.7 147.4 724.8 147.9 727.8 147.8C730.8 147.8 733.9 147.2 736.9 146.2C739.9 145.2 742.9 143.7 745.9 141.9C748.9 140.1 751.8 138 754.6 136.1C757.5 134.1 760.3 132.3 763 131.5C765.7 130.8 768.3 131.2 770.8 133.1C773.3 135 775.7 138.1 778 141.9C780.3 145.6 782.4 150 784.4 154.4C786.5 158.8 788.3 163.4 790.1 167.9C791.8 172.3 793.4 176.6 794.8 180.7C796.2 184.7 797.5 188.4 798.6 191.7C799.6 195 800.5 197.8 801.3 200.1C802 202.4 802.6 204.2 802.9 205.4C803.3 206.6 803.5 207.2 803.5 207.2"/>
<path d="M652.1 14.8C652.1 14.8 652.2 14.9 652.3 15.2C652.4 15.5 652.5 16 652.7 16.6C652.8 17.2 653.1 17.9 653.3 18.8C653.6 19.7 653.9 20.7 654.3 21.8C654.6 22.9 655 24.2 655.4 25.6C655.8 26.9 656.3 28.4 656.8 29.9C657.3 31.5 657.8 33.1 658.4 34.9C659 36.6 659.5 38.4 660.2 40.2C660.8 42.1 661.4 43.9 662.1 45.9C662.7 47.8 663.4 49.7 664.1 51.7C664.8 53.7 665.5 55.7 666.3 57.6C667 59.6 667.7 61.6 668.5 63.5C669.2 65.5 670 67.4 670.7 69.3C671.5 71.2 672.2 73 673 74.8C673.7 76.6 674.5 78.4 675.2 80C675.9 81.7 676.6 83.3 677.3 84.9C678 86.5 678.7 88 679.4 89.4C680 90.8 680.7 92.1 681.3 93.4C681.9 94.6 682.5 95.8 683.1 96.9C683.6 98 684.2 99.1 684.7 100C685.1 100.9 685.6 101.8 686 102.6C686.5 103.4 686.9 104.1 687.2 104.7C687.5 105.3 687.9 105.9 688.1 106.3C688.4 106.8 688.6 107.2 688.8 107.5C689 107.8 689.1 108 689.2 108.2C689.3 108.3 689.3 108.4 689.3 108.4C689.3 108.4 689.3 108.5 689.2 108.6C689.1 108.8 689 109 688.8 109.3C688.6 109.6 688.4 110 688.1 110.5C687.9 110.9 687.5 111.5 687.2 112.1C686.9 112.7 686.5 113.4 686 114.2C685.6 115 685.1 115.9 684.7 116.8C684.2 117.7 683.6 118.8 683.1 119.9C682.5 121 681.9 122.2 681.3 123.4C680.7 124.7 680 126 679.4 127.4C678.7 128.8 678 130.3 677.3 131.9C676.6 133.5 675.9 135.1 675.2 136.8C674.5 138.4 673.7 140.2 673 142C672.2 143.8 671.5 145.6 670.7 147.5C670 149.4 669.2 151.3 668.5 153.3C667.7 155.2 667 157.2 666.3 159.2C665.5 161.1 664.8 163.1 664.1 165.1C663.4 167.1 662.7 169 662.1 170.9C661.4 172.9 660.8 174.7 660.2 176.6C659.5 178.4 659 180.2 658.4 181.9C657.8 183.7 657.3 185.3 656.8 186.9C656.3 188.4 655.8 189.9 655.4 191.2C655 192.6 654.6 193.9 654.3 195C653.9 196.1 653.6 197.1 653.3 198C653.1 198.9 652.8 199.6 652.7 200.2C652.5 200.8 652.4 201.3 652.3 201.6C652.2 201.9 652.1 202 652.1 202"/>
<path d="M689.3 108.4C689.3 108.4 689.4 108.2 689.6 107.9C689.8 107.6 690.1 107.2 690.4 106.6C690.8 106 691.3 105.2 691.8 104.4C692.3 103.5 693 102.5 693.7 101.4C694.4 100.4 695.2 99.2 696.1 98C696.9 96.8 697.9 95.5 698.9 94.2C699.9 93 701 91.7 702.2 90.4C703.3 89.1 704.5 87.8 705.8 86.6C707 85.4 708.4 84.2 709.7 83.2C711.1 82.1 712.5 81.1 713.9 80.3C715.3 79.4 716.8 78.7 718.3 78.1C719.8 77.5 721.3 77 722.8 76.7C724.3 76.4 725.9 76.2 727.4 76.2C728.9 76.2 730.5 76.4 732 76.7C733.5 77 735 77.5 736.5 78.1C738 78.7 739.5 79.4 740.9 80.3C742.4 81.1 743.8 82.1 745.1 83.2C746.5 84.2 747.8 85.4 749 86.6C750.3 87.8 751.5 89.1 752.7 90.4C753.8 91.7 754.9 93 755.9 94.2C756.9 95.5 757.9 96.8 758.8 98C759.6 99.2 760.4 100.4 761.1 101.4C761.9 102.5 762.5 103.5 763 104.4C763.6 105.2 764 106 764.4 106.6C764.8 107.2 765 107.6 765.2 107.9C765.4 108.2 765.5 108.4 765.5 108.4C765.5 108.4 765.4 108.6 765.2 108.9C765 109.2 764.8 109.6 764.4 110.2C764 110.8 763.6 111.6 763 112.4C762.5 113.3 761.9 114.3 761.1 115.4C760.4 116.4 759.6 117.6 758.8 118.8C757.9 120 756.9 121.3 755.9 122.6C754.9 123.8 753.8 125.1 752.7 126.4C751.5 127.7 750.3 129 749 130.2C747.8 131.4 746.5 132.6 745.1 133.6C743.8 134.7 742.4 135.7 740.9 136.5C739.5 137.4 738 138.1 736.5 138.7C735 139.3 733.5 139.8 732 140.1C730.5 140.4 728.9 140.6 727.4 140.6C725.9 140.6 724.3 140.4 722.8 140.1C721.3 139.8 719.8 139.3 718.3 138.7C716.8 138.1 715.3 137.4 713.9 136.5C712.5 135.7 711.1 134.7 709.7 133.6C708.4 132.6 707 131.4 705.8 130.2C704.5 129 703.3 127.7 702.2 126.4C701 125.1 699.9 123.8 698.9 122.6C697.9 121.3 696.9 120 696.1 118.8C695.2 117.6 694.4 116.4 693.7 115.4C693 114.3 692.3 113.3 691.8 112.4C691.3 111.6 690.8 110.8 690.4 110.2C690.1 109.6 689.8 109.2 689.6 108.9C689.4 108.6 689.3 108.4 689.3 108.4Z"/>
<path d="M803.5 204.6C803.5 204.6 803.4 204.4 803.3 204.1C803.2 203.8 803.1 203.3 802.9 202.7C802.7 202.1 802.5 201.3 802.2 200.4C802 199.5 801.7 198.5 801.3 197.3C800.9 196.2 800.5 194.9 800.1 193.5C799.7 192.1 799.2 190.6 798.7 189C798.2 187.4 797.6 185.7 797.1 183.9C796.5 182.1 795.9 180.3 795.3 178.4C794.6 176.5 794 174.5 793.3 172.6C792.6 170.6 791.9 168.6 791.2 166.5C790.5 164.5 789.8 162.5 789 160.5C788.3 158.4 787.5 156.4 786.8 154.4C786 152.4 785.3 150.4 784.5 148.5C783.7 146.6 783 144.7 782.2 142.8C781.4 141 780.7 139.2 779.9 137.4C779.2 135.7 778.5 134 777.8 132.4C777 130.8 776.3 129.3 775.7 127.9C775 126.4 774.3 125 773.7 123.8C773.1 122.5 772.5 121.2 771.9 120.1C771.3 119 770.8 117.9 770.3 117C769.8 116 769.3 115.1 768.9 114.3C768.4 113.5 768 112.8 767.7 112.2C767.3 111.5 767 111 766.7 110.5C766.5 110 766.2 109.7 766.1 109.3C765.9 109 765.7 108.8 765.6 108.6C765.5 108.5 765.5 108.4 765.5 108.4C765.5 108.4 765.5 108.3 765.6 108.2C765.7 108 765.9 107.8 766.1 107.5C766.2 107.1 766.5 106.8 766.7 106.3C767 105.8 767.3 105.3 767.7 104.6C768 104 768.4 103.3 768.9 102.5C769.3 101.7 769.8 100.8 770.3 99.8C770.8 98.9 771.3 97.8 771.9 96.7C772.5 95.6 773.1 94.3 773.7 93C774.3 91.8 775 90.4 775.7 88.9C776.3 87.5 777 86 777.8 84.4C778.5 82.8 779.2 81.1 779.9 79.4C780.7 77.6 781.4 75.8 782.2 74C783 72.1 783.7 70.2 784.5 68.3C785.3 66.4 786 64.4 786.8 62.4C787.5 60.4 788.3 58.4 789 56.3C789.8 54.3 790.5 52.3 791.2 50.3C791.9 48.2 792.6 46.2 793.3 44.2C794 42.3 794.6 40.3 795.3 38.4C795.9 36.5 796.5 34.7 797.1 32.9C797.6 31.1 798.2 29.4 798.7 27.8C799.2 26.2 799.7 24.7 800.1 23.3C800.5 21.9 800.9 20.6 801.3 19.5C801.7 18.3 802 17.3 802.2 16.4C802.5 15.5 802.7 14.7 802.9 14.1C803.1 13.5 803.2 13 803.3 12.7C803.4 12.4 803.5 12.2 803.5 12.2"/>
<path d="M652.1 17.6C652.1 17.6 652.2 17.7 652.2 17.9C652.3 18.1 652.4 18.5 652.5 18.9C652.6 19.3 652.8 19.8 653 20.4C653.1 21.1 653.3 21.8 653.6 22.6C653.8 23.4 654.1 24.3 654.4 25.3C654.7 26.3 655 27.3 655.3 28.5C655.7 29.6 656 30.8 656.4 32.1C656.8 33.3 657.2 34.7 657.6 36C658.1 37.4 658.5 38.8 659 40.3C659.4 41.7 659.9 43.2 660.4 44.8C660.8 46.3 661.3 47.8 661.8 49.4C662.3 50.9 662.8 52.5 663.4 54.1C663.9 55.7 664.4 57.2 664.9 58.8C665.4 60.4 665.9 61.9 666.4 63.5C666.9 65 667.4 66.6 667.9 68.1C668.4 69.6 668.9 71.1 669.4 72.6C669.9 74 670.4 75.5 670.8 76.9C671.3 78.3 671.7 79.7 672.1 81C672.6 82.4 673 83.7 673.4 85C673.7 86.3 674.1 87.5 674.4 88.7C674.8 90 675.1 91.2 675.4 92.3C675.7 93.5 676 94.6 676.2 95.8C676.4 96.9 676.6 98 676.8 99C677 100.1 677.2 101.2 677.3 102.2C677.4 103.3 677.5 104.3 677.6 105.3C677.6 106.4 677.7 107.4 677.7 108.4C677.7 109.4 677.6 110.4 677.6 111.5C677.5 112.5 677.4 113.5 677.3 114.6C677.2 115.6 677 116.7 676.8 117.8C676.6 118.8 676.4 119.9 676.2 121C676 122.2 675.7 123.3 675.4 124.5C675.1 125.6 674.8 126.8 674.4 128.1C674.1 129.3 673.7 130.5 673.4 131.8C673 133.1 672.6 134.4 672.1 135.8C671.7 137.1 671.3 138.5 670.8 139.9C670.4 141.3 669.9 142.8 669.4 144.2C668.9 145.7 668.4 147.2 667.9 148.7C667.4 150.2 666.9 151.8 666.4 153.3C665.9 154.9 665.4 156.4 664.9 158C664.4 159.6 663.9 161.1 663.4 162.7C662.8 164.3 662.3 165.9 661.8 167.4C661.3 169 660.8 170.5 660.4 172C659.9 173.6 659.4 175.1 659 176.5C658.5 178 658.1 179.4 657.6 180.8C657.2 182.1 656.8 183.5 656.4 184.7C656 186 655.7 187.2 655.3 188.3C655 189.5 654.7 190.5 654.4 191.5C654.1 192.5 653.8 193.4 653.6 194.2C653.3 195 653.1 195.7 653 196.4C652.8 197 652.6 197.5 652.5 197.9C652.4 198.3 652.3 198.7 652.2 198.9C652.2 199.1 652.1 199.2 652.1 199.2"/>
<path d="M706.8 108.4C706.8 107.6 706.9 106.7 707 105.9C707.1 105.1 707.2 104.2 707.4 103.4C707.6 102.6 707.8 101.8 708.1 101C708.4 100.1 708.8 99.3 709.2 98.6C709.6 97.8 710 97 710.5 96.2C710.9 95.5 711.4 94.8 712 94.1C712.5 93.3 713.1 92.7 713.7 92C714.4 91.4 715 90.8 715.7 90.2C716.4 89.6 717.1 89.1 717.8 88.6C718.6 88.1 719.3 87.7 720.1 87.3C720.9 87 721.7 86.7 722.5 86.4C723.3 86.2 724.1 86 724.9 85.8C725.8 85.7 726.6 85.6 727.4 85.6C728.2 85.6 729.1 85.7 729.9 85.8C730.7 86 731.5 86.2 732.3 86.4C733.2 86.7 733.9 87 734.7 87.3C735.5 87.7 736.3 88.1 737 88.6C737.7 89.1 738.4 89.6 739.1 90.2C739.8 90.8 740.5 91.4 741.1 92C741.7 92.7 742.3 93.3 742.8 94.1C743.4 94.8 743.9 95.5 744.4 96.2C744.8 97 745.3 97.8 745.7 98.6C746.1 99.3 746.4 100.1 746.7 101C747 101.8 747.2 102.6 747.4 103.4C747.6 104.2 747.8 105.1 747.9 105.9C748 106.7 748 107.6 748 108.4C748 109.2 748 110.1 747.9 110.9C747.8 111.7 747.6 112.6 747.4 113.4C747.2 114.2 747 115 746.7 115.8C746.4 116.7 746.1 117.5 745.7 118.2C745.3 119 744.8 119.8 744.4 120.6C743.9 121.3 743.4 122 742.8 122.7C742.3 123.5 741.7 124.1 741.1 124.8C740.5 125.4 739.8 126 739.1 126.6C738.4 127.2 737.7 127.7 737 128.2C736.3 128.7 735.5 129.1 734.7 129.5C733.9 129.8 733.2 130.1 732.3 130.4C731.5 130.6 730.7 130.8 729.9 131C729.1 131.1 728.2 131.2 727.4 131.2C726.6 131.2 725.8 131.1 724.9 131C724.1 130.8 723.3 130.6 722.5 130.4C721.7 130.1 720.9 129.8 720.1 129.5C719.3 129.1 718.6 128.7 717.8 128.2C717.1 127.7 716.4 127.2 715.7 126.6C715 126 714.4 125.4 713.7 124.8C713.1 124.1 712.5 123.5 712 122.7C711.4 122 710.9 121.3 710.5 120.6C710 119.8 709.6 119 709.2 118.2C708.8 117.5 708.4 116.7 708.1 115.8C707.8 115 707.6 114.2 707.4 113.4C707.2 112.6 707.1 111.7 707 110.9C706.9 110.1 706.8 109.2 706.8 108.4Z"/>
<path d="M803.5 201.8C803.5 201.8 803.4 201.7 803.4 201.5C803.3 201.3 803.2 201 803.1 200.5C803 200.1 802.8 199.5 802.6 198.9C802.4 198.2 802.2 197.5 802 196.7C801.7 195.8 801.4 194.9 801.1 193.9C800.8 192.8 800.5 191.7 800.2 190.6C799.8 189.4 799.4 188.1 799 186.8C798.6 185.5 798.2 184.1 797.8 182.7C797.4 181.3 796.9 179.8 796.4 178.3C796 176.8 795.5 175.3 795 173.7C794.5 172.1 794 170.5 793.5 168.9C793 167.3 792.4 165.7 791.9 164C791.4 162.4 790.9 160.8 790.3 159.2C789.8 157.5 789.3 155.9 788.7 154.3C788.2 152.7 787.7 151.2 787.2 149.6C786.7 148 786.2 146.5 785.7 145C785.2 143.5 784.7 142 784.2 140.6C783.7 139.1 783.3 137.7 782.9 136.3C782.4 134.9 782 133.6 781.6 132.3C781.2 130.9 780.8 129.7 780.5 128.4C780.1 127.2 779.8 125.9 779.5 124.7C779.2 123.6 778.9 122.4 778.7 121.2C778.4 120.1 778.2 119 778 117.9C777.8 116.8 777.7 115.7 777.6 114.7C777.4 113.6 777.3 112.6 777.3 111.5C777.2 110.5 777.2 109.4 777.2 108.4C777.2 107.4 777.2 106.3 777.3 105.3C777.3 104.2 777.4 103.2 777.6 102.1C777.7 101.1 777.8 100 778 98.9C778.2 97.8 778.4 96.7 778.7 95.6C778.9 94.4 779.2 93.2 779.5 92.1C779.8 90.9 780.1 89.6 780.5 88.4C780.8 87.1 781.2 85.9 781.6 84.5C782 83.2 782.4 81.9 782.9 80.5C783.3 79.1 783.7 77.7 784.2 76.2C784.7 74.8 785.2 73.3 785.7 71.8C786.2 70.3 786.7 68.8 787.2 67.2C787.7 65.6 788.2 64.1 788.7 62.5C789.3 60.9 789.8 59.3 790.3 57.6C790.9 56 791.4 54.4 791.9 52.8C792.4 51.1 793 49.5 793.5 47.9C794 46.3 794.5 44.7 795 43.1C795.5 41.5 796 40 796.4 38.5C796.9 37 797.4 35.5 797.8 34.1C798.2 32.7 798.6 31.3 799 30C799.4 28.7 799.8 27.4 800.2 26.2C800.5 25.1 800.8 24 801.1 22.9C801.4 21.9 801.7 21 802 20.1C802.2 19.3 802.4 18.6 802.6 17.9C802.8 17.3 803 16.7 803.1 16.3C803.2 15.8 803.3 15.5 803.4 15.3C803.4 15.1 803.5 15 803.5 15"/>
<path d="M649.7 11.6C649.7 11.6 649.7 11.7 649.8 11.9C649.8 12.1 649.9 12.4 650.1 12.8C650.2 13.2 650.3 13.8 650.5 14.4C650.7 15 650.9 15.7 651.1 16.5C651.3 17.3 651.6 18.2 651.8 19.2C652.1 20.2 652.4 21.3 652.7 22.4C653.1 23.6 653.4 24.8 653.8 26C654.1 27.3 654.5 28.6 654.9 30C655.3 31.4 655.7 32.9 656.2 34.3C656.6 35.8 657 37.3 657.5 38.9C657.9 40.4 658.4 42 658.9 43.6C659.4 45.2 659.8 46.8 660.3 48.5C660.8 50.1 661.3 51.7 661.8 53.3C662.3 55 662.7 56.6 663.2 58.2C663.7 59.8 664.2 61.5 664.7 63.1C665.1 64.7 665.6 66.3 666.1 67.8C666.5 69.4 667 70.9 667.4 72.5C667.8 74 668.2 75.5 668.6 77C669 78.4 669.4 79.9 669.8 81.3C670.1 82.8 670.5 84.2 670.8 85.5C671.1 86.9 671.4 88.3 671.7 89.6C672 90.9 672.2 92.2 672.5 93.5C672.7 94.8 672.9 96.1 673.1 97.4C673.2 98.6 673.4 99.9 673.5 101.1C673.6 102.3 673.7 103.5 673.8 104.8C673.8 106 673.8 107.2 673.8 108.4C673.8 109.6 673.8 110.8 673.8 112C673.7 113.3 673.6 114.5 673.5 115.7C673.4 116.9 673.2 118.2 673.1 119.4C672.9 120.7 672.7 122 672.5 123.3C672.2 124.6 672 125.9 671.7 127.2C671.4 128.5 671.1 129.9 670.8 131.3C670.5 132.6 670.1 134 669.8 135.5C669.4 136.9 669 138.4 668.6 139.8C668.2 141.3 667.8 142.8 667.4 144.3C667 145.9 666.5 147.4 666.1 149C665.6 150.5 665.1 152.1 664.7 153.7C664.2 155.3 663.7 157 663.2 158.6C662.7 160.2 662.3 161.8 661.8 163.5C661.3 165.1 660.8 166.7 660.3 168.3C659.8 170 659.4 171.6 658.9 173.2C658.4 174.8 657.9 176.4 657.5 177.9C657 179.5 656.6 181 656.2 182.5C655.7 183.9 655.3 185.4 654.9 186.8C654.5 188.2 654.1 189.5 653.8 190.8C653.4 192 653.1 193.2 652.7 194.4C652.4 195.5 652.1 196.6 651.8 197.6C651.6 198.6 651.3 199.5 651.1 200.3C650.9 201.1 650.7 201.8 650.5 202.4C650.3 203 650.2 203.6 650.1 204C649.9 204.4 649.8 204.7 649.8 204.9C649.7 205.1 649.7 205.2 649.7 205.2"/>
<path d="M805.9 208C805.9 208 805.9 207.9 805.8 207.7C805.7 207.5 805.7 207.1 805.5 206.7C805.4 206.3 805.3 205.7 805.1 205.1C804.9 204.4 804.7 203.7 804.5 202.9C804.2 202 804 201.1 803.7 200.1C803.4 199 803.1 197.9 802.8 196.8C802.4 195.6 802.1 194.3 801.7 193C801.3 191.7 800.9 190.3 800.5 188.8C800.1 187.4 799.7 185.9 799.2 184.4C798.8 182.9 798.3 181.3 797.9 179.7C797.4 178.1 796.9 176.4 796.4 174.8C795.9 173.1 795.4 171.5 794.9 169.8C794.4 168.1 793.9 166.4 793.4 164.7C792.9 163.1 792.4 161.4 791.9 159.7C791.4 158 790.9 156.4 790.5 154.7C790 153.1 789.5 151.4 789 149.8C788.6 148.2 788.1 146.6 787.7 145.1C787.2 143.5 786.8 142 786.4 140.4C786 138.9 785.6 137.4 785.2 136C784.8 134.5 784.4 133.1 784.1 131.7C783.8 130.3 783.5 128.9 783.2 127.5C782.9 126.2 782.6 124.8 782.4 123.5C782.2 122.2 782 120.9 781.8 119.6C781.6 118.3 781.5 117.1 781.3 115.8C781.2 114.6 781.1 113.3 781.1 112.1C781 110.9 781 109.6 781 108.4C781 107.2 781 105.9 781.1 104.7C781.1 103.5 781.2 102.2 781.3 101C781.5 99.7 781.6 98.5 781.8 97.2C782 95.9 782.2 94.6 782.4 93.3C782.6 92 782.9 90.6 783.2 89.3C783.5 87.9 783.8 86.5 784.1 85.1C784.4 83.7 784.8 82.3 785.2 80.8C785.6 79.4 786 77.9 786.4 76.4C786.8 74.8 787.2 73.3 787.7 71.7C788.1 70.2 788.6 68.6 789 67C789.5 65.4 790 63.7 790.5 62.1C790.9 60.4 791.4 58.8 791.9 57.1C792.4 55.4 792.9 53.7 793.4 52.1C793.9 50.4 794.4 48.7 794.9 47C795.4 45.3 795.9 43.7 796.4 42C796.9 40.4 797.4 38.7 797.9 37.1C798.3 35.5 798.8 33.9 799.2 32.4C799.7 30.9 800.1 29.4 800.5 28C800.9 26.5 801.3 25.1 801.7 23.8C802.1 22.5 802.4 21.2 802.8 20C803.1 18.9 803.4 17.8 803.7 16.7C804 15.7 804.2 14.8 804.5 13.9C804.7 13.1 804.9 12.4 805.1 11.7C805.3 11.1 805.4 10.5 805.5 10.1C805.7 9.7 805.7 9.3 805.8 9.1C805.9 8.9 805.9 8.8 805.9 8.8"/>
<path d="M649.7 13.1C649.7 13.1 649.7 13.2 649.8 13.4C649.8 13.6 649.9 13.9 650 14.3C650.1 14.7 650.3 15.2 650.4 15.8C650.6 16.4 650.8 17 651 17.8C651.2 18.6 651.4 19.4 651.7 20.3C651.9 21.3 652.2 22.3 652.5 23.3C652.8 24.4 653.1 25.6 653.5 26.8C653.8 28 654.2 29.2 654.5 30.6C654.9 31.9 655.3 33.2 655.7 34.7C656.1 36.1 656.5 37.5 656.9 39C657.3 40.5 657.8 42 658.2 43.5C658.6 45 659.1 46.6 659.5 48.2C660 49.7 660.4 51.3 660.9 52.9C661.3 54.5 661.8 56.1 662.2 57.6C662.6 59.2 663.1 60.8 663.5 62.4C664 63.9 664.4 65.5 664.8 67C665.2 68.6 665.6 70.1 666 71.6C666.4 73.2 666.8 74.7 667.2 76.1C667.6 77.6 667.9 79.1 668.3 80.5C668.6 82 668.9 83.4 669.2 84.8C669.5 86.2 669.8 87.6 670 88.9C670.3 90.3 670.5 91.6 670.7 93C670.9 94.3 671.1 95.6 671.3 96.9C671.4 98.2 671.6 99.5 671.7 100.8C671.8 102.1 671.9 103.3 671.9 104.6C672 105.9 672 107.1 672 108.4C672 109.7 672 110.9 671.9 112.2C671.9 113.5 671.8 114.7 671.7 116C671.6 117.3 671.4 118.6 671.3 119.9C671.1 121.2 670.9 122.5 670.7 123.8C670.5 125.2 670.3 126.5 670 127.9C669.8 129.2 669.5 130.6 669.2 132C668.9 133.4 668.6 134.8 668.3 136.3C667.9 137.7 667.6 139.2 667.2 140.7C666.8 142.1 666.4 143.6 666 145.2C665.6 146.7 665.2 148.2 664.8 149.8C664.4 151.3 664 152.9 663.5 154.4C663.1 156 662.6 157.6 662.2 159.2C661.8 160.7 661.3 162.3 660.9 163.9C660.4 165.5 660 167.1 659.5 168.6C659.1 170.2 658.6 171.8 658.2 173.3C657.8 174.8 657.3 176.3 656.9 177.8C656.5 179.3 656.1 180.7 655.7 182.1C655.3 183.6 654.9 184.9 654.5 186.2C654.2 187.6 653.8 188.8 653.5 190C653.1 191.2 652.8 192.4 652.5 193.5C652.2 194.5 651.9 195.5 651.7 196.5C651.4 197.4 651.2 198.2 651 199C650.8 199.8 650.6 200.4 650.4 201C650.3 201.6 650.1 202.1 650 202.5C649.9 202.9 649.8 203.2 649.8 203.4C649.7 203.6 649.7 203.7 649.7 203.7"/>
<path d="M805.9 206.5C805.9 206.5 805.9 206.4 805.8 206.2C805.8 206 805.7 205.7 805.6 205.3C805.4 204.9 805.3 204.4 805.1 203.7C805 203.1 804.8 202.4 804.6 201.6C804.4 200.9 804.1 200 803.9 199C803.6 198 803.3 197 803 195.9C802.7 194.8 802.4 193.6 802 192.3C801.7 191.1 801.3 189.8 800.9 188.4C800.5 187 800.1 185.6 799.7 184.1C799.3 182.7 798.9 181.2 798.4 179.6C798 178.1 797.6 176.5 797.1 174.9C796.7 173.4 796.2 171.8 795.7 170.1C795.3 168.5 794.8 166.9 794.4 165.3C793.9 163.6 793.4 162 793 160.4C792.5 158.7 792 157.1 791.6 155.5C791.1 153.9 790.7 152.3 790.3 150.7C789.8 149.1 789.4 147.5 789 145.9C788.6 144.4 788.2 142.8 787.8 141.3C787.4 139.8 787.1 138.3 786.7 136.8C786.4 135.4 786 133.9 785.7 132.5C785.4 131 785.1 129.6 784.9 128.2C784.6 126.8 784.4 125.5 784.1 124.1C783.9 122.8 783.7 121.4 783.6 120.1C783.4 118.8 783.3 117.5 783.2 116.2C783 114.8 783 113.6 782.9 112.3C782.8 111 782.8 109.7 782.8 108.4C782.8 107.1 782.8 105.8 782.9 104.5C783 103.2 783 102 783.2 100.6C783.3 99.3 783.4 98 783.6 96.7C783.7 95.4 783.9 94 784.1 92.7C784.4 91.3 784.6 90 784.9 88.6C785.1 87.2 785.4 85.8 785.7 84.3C786 82.9 786.4 81.4 786.7 80C787.1 78.5 787.4 77 787.8 75.5C788.2 74 788.6 72.4 789 70.9C789.4 69.3 789.8 67.7 790.3 66.1C790.7 64.5 791.1 62.9 791.6 61.3C792 59.7 792.5 58.1 793 56.4C793.4 54.8 793.9 53.2 794.4 51.5C794.8 49.9 795.3 48.3 795.7 46.7C796.2 45 796.7 43.4 797.1 41.9C797.6 40.3 798 38.7 798.4 37.2C798.9 35.6 799.3 34.1 799.7 32.7C800.1 31.2 800.5 29.8 800.9 28.4C801.3 27 801.7 25.7 802 24.5C802.4 23.2 802.7 22 803 20.9C803.3 19.8 803.6 18.8 803.9 17.8C804.1 16.8 804.4 15.9 804.6 15.2C804.8 14.4 805 13.7 805.1 13.1C805.3 12.4 805.4 11.9 805.6 11.5C805.7 11.1 805.8 10.8 805.8 10.6C805.9 10.4 805.9 10.3 805.9 10.3"/>
<path d="M649.7 15.4C649.7 15.4 649.7 15.4 649.8 15.6C649.8 15.8 649.9 16.1 650 16.5C650.1 16.8 650.2 17.3 650.4 17.8C650.5 18.4 650.7 19 650.9 19.7C651 20.4 651.3 21.2 651.5 22C651.7 22.9 652 23.8 652.2 24.8C652.5 25.8 652.8 26.9 653.1 28C653.4 29.2 653.7 30.3 654 31.6C654.4 32.8 654.7 34.1 655.1 35.4C655.4 36.7 655.8 38.1 656.2 39.5C656.6 40.9 657 42.3 657.4 43.8C657.8 45.2 658.2 46.7 658.6 48.2C659 49.7 659.4 51.2 659.8 52.7C660.2 54.3 660.6 55.8 661 57.3C661.4 58.8 661.8 60.4 662.2 61.9C662.6 63.4 663 64.9 663.3 66.5C663.7 68 664.1 69.5 664.4 71C664.8 72.5 665.2 73.9 665.5 75.4C665.8 76.9 666.1 78.4 666.4 79.8C666.7 81.2 667 82.7 667.3 84.1C667.6 85.5 667.8 86.9 668.1 88.3C668.3 89.7 668.5 91.1 668.7 92.4C668.9 93.8 669 95.1 669.2 96.5C669.3 97.8 669.4 99.2 669.5 100.5C669.6 101.8 669.7 103.1 669.8 104.5C669.8 105.8 669.8 107.1 669.8 108.4C669.8 109.7 669.8 111 669.8 112.3C669.7 113.7 669.6 115 669.5 116.3C669.4 117.6 669.3 119 669.2 120.3C669 121.7 668.9 123 668.7 124.4C668.5 125.7 668.3 127.1 668.1 128.5C667.8 129.9 667.6 131.3 667.3 132.7C667 134.1 666.7 135.6 666.4 137C666.1 138.4 665.8 139.9 665.5 141.4C665.2 142.9 664.8 144.3 664.4 145.8C664.1 147.3 663.7 148.8 663.3 150.3C663 151.9 662.6 153.4 662.2 154.9C661.8 156.4 661.4 158 661 159.5C660.6 161 660.2 162.5 659.8 164.1C659.4 165.6 659 167.1 658.6 168.6C658.2 170.1 657.8 171.6 657.4 173C657 174.5 656.6 175.9 656.2 177.3C655.8 178.7 655.4 180.1 655.1 181.4C654.7 182.7 654.4 184 654 185.2C653.7 186.5 653.4 187.6 653.1 188.8C652.8 189.9 652.5 191 652.2 192C652 193 651.7 193.9 651.5 194.8C651.3 195.6 651 196.4 650.9 197.1C650.7 197.8 650.5 198.4 650.4 199C650.2 199.5 650.1 200 650 200.3C649.9 200.7 649.8 201 649.8 201.2C649.7 201.4 649.7 201.4 649.7 201.4"/>
<path d="M805.9 204.3C805.9 204.3 805.9 204.2 805.8 204.1C805.8 203.9 805.7 203.6 805.6 203.2C805.5 202.8 805.4 202.3 805.2 201.8C805.1 201.2 804.9 200.6 804.7 199.8C804.5 199.1 804.3 198.3 804 197.4C803.8 196.5 803.5 195.5 803.3 194.5C803 193.4 802.7 192.3 802.4 191.1C802.1 190 801.7 188.7 801.4 187.4C801 186.2 800.7 184.8 800.3 183.4C799.9 182.1 799.5 180.7 799.2 179.2C798.8 177.7 798.4 176.3 797.9 174.8C797.5 173.2 797.1 171.7 796.7 170.2C796.3 168.6 795.9 167.1 795.4 165.5C795 163.9 794.6 162.3 794.2 160.8C793.8 159.2 793.4 157.6 792.9 156C792.5 154.5 792.1 152.9 791.7 151.3C791.3 149.8 791 148.2 790.6 146.7C790.2 145.1 789.9 143.6 789.5 142.1C789.2 140.6 788.8 139.1 788.5 137.6C788.2 136.1 787.9 134.7 787.6 133.2C787.3 131.8 787.1 130.3 786.8 128.9C786.6 127.5 786.4 126.1 786.2 124.7C786 123.3 785.8 121.9 785.7 120.5C785.5 119.2 785.4 117.8 785.3 116.5C785.2 115.1 785.1 113.8 785.1 112.4C785 111.1 785 109.7 785 108.4C785 107.1 785 105.7 785.1 104.4C785.1 103 785.2 101.7 785.3 100.3C785.4 99 785.5 97.6 785.7 96.3C785.8 94.9 786 93.5 786.2 92.1C786.4 90.7 786.6 89.3 786.8 87.9C787.1 86.5 787.3 85 787.6 83.6C787.9 82.1 788.2 80.7 788.5 79.2C788.8 77.7 789.2 76.2 789.5 74.7C789.9 73.2 790.2 71.7 790.6 70.1C791 68.6 791.3 67 791.7 65.5C792.1 63.9 792.5 62.3 792.9 60.8C793.4 59.2 793.8 57.6 794.2 56C794.6 54.5 795 52.9 795.4 51.3C795.9 49.7 796.3 48.2 796.7 46.6C797.1 45.1 797.5 43.6 797.9 42C798.4 40.5 798.8 39.1 799.2 37.6C799.5 36.1 799.9 34.7 800.3 33.4C800.7 32 801 30.6 801.4 29.4C801.7 28.1 802.1 26.8 802.4 25.7C802.7 24.5 803 23.4 803.3 22.3C803.5 21.3 803.8 20.3 804 19.4C804.3 18.5 804.5 17.7 804.7 17C804.9 16.2 805.1 15.6 805.2 15C805.4 14.5 805.5 14 805.6 13.6C805.7 13.2 805.8 12.9 805.8 12.7C805.9 12.6 805.9 12.5 805.9 12.5"/>
</g>
<text class="cap" transform="translate(615.20 224.60) scale(1.08 1)"><tspan class="b" x="58.25 62.72 70.19">(d)</tspan><tspan x="78.89">(</tspan><tspan class="i" x="82.96">b</tspan><tspan class="s" x="90.28" dy="1.9">1</tspan><tspan x="95.74" dy="-1.9">,</tspan><tspan class="i" x="101.02">b</tspan><tspan class="s" x="108.06" dy="1.9">2</tspan><tspan x="113.52" dy="-1.9">)</tspan><tspan class="h" x="121.3">∈</tspan><tspan class="i" x="134.04">L</tspan><tspan class="s" x="141.2" dy="1.9">2</tspan></text><path d="M753.90 218.85H750.30A2.80 2.80 0 0 0 750.30 224.45H753.90M747.50 221.65H753.90" fill="none" stroke="#000" stroke-width="1.15"/>
<!-- panel e -->
<clipPath id="c4"><rect x="118.58" y="254.24" width="190.60" height="183.51"/></clipPath>
<path d="M118.58 346.00H309.18M252.00 254.70V437.30" stroke="#000" stroke-width="1.2" fill="none"/>
<path d="M137.64 346.00v2.6M175.76 346.00v2.6M213.88 346.00v2.6M290.12 346.00v2.6M252.00 437.30h-2.7M252.00 391.65h-2.7M252.00 300.35h-2.7M252.00 254.70h-2.7" stroke="#000" stroke-width="1.05" fill="none"/>
<g class="tk">
<text x="138.34" y="354.40">6</text>
<text x="176.46" y="354.40">4</text>
<text x="214.58" y="354.40">2</text>
<text x="250.50" y="354.40" text-anchor="end">0</text>
<text x="290.22" y="354.40" text-anchor="middle">2</text>
<text x="248.70" y="439.25" text-anchor="end">10</text>
<text x="248.70" y="393.60" text-anchor="end">5</text>
<text x="248.70" y="302.30" text-anchor="end">5</text>
<text x="248.70" y="256.65" text-anchor="end">10</text>
<text x="185.3" y="361" class="al">x</text>
<text x="233.8" y="302.5" class="al">y</text>
</g>
<path d="M135.34 352.50h2.9M173.46 352.50h2.9M211.58 352.50h2.9M240.10 437.50h2.8M242.90 391.50h2.8" stroke="#000" stroke-width="1.0" fill="none"/>
<g clip-path="url(#c4)" stroke="#000" stroke-width="1.12" fill="none" stroke-linejoin="round" stroke-linecap="butt">
<path d="M118.4 191.7C118.4 191.7 118.6 192.5 119.1 194.2C119.5 195.8 120.2 198.3 121.2 201.5C122.1 204.7 123.2 208.7 124.6 213.3C126 217.8 127.5 223.1 129.3 228.7C131.1 234.4 133.1 240.6 135.3 247C137.5 253.4 139.9 260.1 142.4 266.9C145 273.6 147.7 280.4 150.6 286.9C153.4 293.3 156.5 299.5 159.6 304.8C162.8 310.1 166.1 314.5 169.5 316.9C172.9 319.4 176.4 319.6 180 318.3C183.6 317 187.3 314.3 191 311.6C194.8 309 198.6 306.2 202.4 303.9C206.2 301.6 210 299.7 213.9 298.3C217.7 296.9 221.6 296 225.4 295.5C229.2 295 233 295 236.7 295.1C240.5 295.3 244.1 295.7 247.7 295.9C251.3 296.1 254.9 296.1 258.3 295.5C261.7 295 265 293.8 268.1 291.9C271.3 289.9 274.3 287.2 277.2 283.9C280.1 280.6 282.8 276.7 285.4 272.5C287.9 268.3 290.3 263.8 292.5 259.3C294.7 254.9 296.6 250.4 298.4 246.2C300.2 242 301.8 238 303.2 234.5C304.5 230.9 305.7 227.8 306.6 225.3C307.5 222.7 308.2 220.8 308.7 219.5C309.1 218.1 309.4 217.5 309.4 217.5M118.4 500.3C118.4 500.3 118.6 499.5 119.1 497.8C119.5 496.2 120.2 493.7 121.2 490.5C122.1 487.3 123.2 483.3 124.6 478.7C126 474.2 127.5 468.9 129.3 463.3C131.1 457.6 133.1 451.4 135.3 445C137.5 438.6 139.9 431.9 142.4 425.1C145 418.4 147.7 411.6 150.6 405.1C153.4 398.7 156.5 392.5 159.6 387.2C162.8 381.9 166.1 377.5 169.5 375.1C172.9 372.6 176.4 372.4 180 373.7C183.6 375 187.3 377.7 191 380.4C194.8 383 198.6 385.8 202.4 388.1C206.2 390.4 210 392.3 213.9 393.7C217.7 395.1 221.6 396 225.4 396.5C229.2 397 233 397 236.7 396.9C240.5 396.7 244.1 396.3 247.7 396.1C251.3 395.9 254.9 395.9 258.3 396.5C261.7 397 265 398.2 268.1 400.1C271.3 402.1 274.3 404.8 277.2 408.1C280.1 411.4 282.8 415.3 285.4 419.5C287.9 423.7 290.3 428.2 292.5 432.7C294.7 437.1 296.6 441.6 298.4 445.8C300.2 450 301.8 454 303.2 457.5C304.5 461.1 305.7 464.2 306.6 466.7C307.5 469.3 308.2 471.2 308.7 472.5C309.1 473.9 309.4 474.5 309.4 474.5"/>
<path d="M118.4 194C118.4 194 118.5 194.3 118.6 194.8C118.7 195.3 118.9 196.1 119.2 197.1C119.5 198.1 119.8 199.3 120.3 200.8C120.7 202.2 121.1 203.9 121.7 205.8C122.2 207.7 122.8 209.8 123.5 212.1C124.1 214.4 124.8 216.9 125.6 219.5C126.4 222.1 127.2 224.8 128.1 227.7C128.9 230.5 129.8 233.5 130.8 236.6C131.7 239.6 132.7 242.8 133.7 245.9C134.8 249.1 135.8 252.4 136.9 255.6C138 258.8 139.1 262.1 140.2 265.3C141.3 268.6 142.5 271.8 143.6 275C144.8 278.1 145.9 281.3 147.1 284.3C148.2 287.4 149.4 290.4 150.5 293.3C151.7 296.1 152.8 299 153.9 301.7C155.1 304.4 156.2 307 157.2 309.4C158.3 311.9 159.4 314.3 160.4 316.5C161.4 318.7 162.4 320.8 163.4 322.8C164.3 324.8 165.2 326.7 166.1 328.4C167 330.1 167.8 331.7 168.5 333.1C169.3 334.6 170 335.9 170.7 337.1C171.3 338.3 171.9 339.4 172.5 340.4C173 341.3 173.5 342.1 173.9 342.8C174.3 343.6 174.6 344.1 174.9 344.6C175.2 345.1 175.4 345.4 175.6 345.7C175.7 345.9 175.8 346 175.8 346C175.8 346 175.7 346.1 175.6 346.3C175.4 346.6 175.2 346.9 174.9 347.4C174.6 347.9 174.3 348.4 173.9 349.2C173.5 349.9 173 350.7 172.5 351.6C171.9 352.6 171.3 353.7 170.7 354.9C170 356.1 169.3 357.4 168.5 358.9C167.8 360.3 167 361.9 166.1 363.6C165.2 365.3 164.3 367.2 163.4 369.2C162.4 371.2 161.4 373.3 160.4 375.5C159.4 377.7 158.3 380.1 157.2 382.6C156.2 385 155.1 387.6 153.9 390.3C152.8 393 151.7 395.9 150.5 398.7C149.4 401.6 148.2 404.6 147.1 407.7C145.9 410.7 144.8 413.9 143.6 417C142.5 420.2 141.3 423.4 140.2 426.7C139.1 429.9 138 433.2 136.9 436.4C135.8 439.6 134.8 442.9 133.7 446.1C132.7 449.2 131.7 452.4 130.8 455.4C129.8 458.5 128.9 461.5 128.1 464.3C127.2 467.2 126.4 469.9 125.6 472.5C124.8 475.1 124.1 477.6 123.5 479.9C122.8 482.2 122.2 484.3 121.7 486.2C121.1 488.1 120.7 489.8 120.3 491.2C119.8 492.7 119.5 493.9 119.2 494.9C118.9 495.9 118.7 496.7 118.6 497.2C118.5 497.7 118.4 498 118.4 498"/>
<path d="M309.4 471.7C309.4 471.7 309.2 471.2 308.9 470.3C308.6 469.3 308.1 467.9 307.4 466.1C306.8 464.2 306 461.9 305 459.3C304.1 456.7 303 453.7 301.7 450.4C300.5 447.2 299.1 443.7 297.5 440C296 436.3 294.4 432.5 292.6 428.6C290.8 424.8 288.9 420.9 286.9 417.1C284.9 413.4 282.7 409.8 280.5 406.5C278.3 403.2 276 400.3 273.6 397.8C271.2 395.3 268.8 393.3 266.3 391.8C263.7 390.3 261.2 389.3 258.6 388.8C255.9 388.2 253.3 388.1 250.6 388.2C247.9 388.3 245.3 388.5 242.6 388.8C239.9 389 237.2 389.2 234.5 389.3C231.8 389.4 229.2 389.3 226.6 388.9C224 388.6 221.4 388.1 218.9 387.3C216.4 386.5 213.9 385.5 211.5 384.3C209.1 383.1 206.8 381.7 204.6 380.1C202.4 378.5 200.3 376.7 198.3 374.9C196.3 373.1 194.3 371.1 192.6 369.2C190.8 367.2 189.1 365.2 187.6 363.3C186.1 361.3 184.7 359.5 183.4 357.7C182.2 356 181.1 354.3 180.1 352.9C179.1 351.4 178.3 350.2 177.7 349.2C177.1 348.1 176.6 347.3 176.2 346.8C175.9 346.3 175.8 346 175.8 346C175.8 346 175.9 345.7 176.2 345.2C176.6 344.7 177.1 343.9 177.7 342.8C178.3 341.8 179.1 340.6 180.1 339.1C181.1 337.7 182.2 336 183.4 334.3C184.7 332.5 186.1 330.7 187.6 328.7C189.1 326.8 190.8 324.8 192.6 322.8C194.3 320.9 196.3 318.9 198.3 317.1C200.3 315.3 202.4 313.5 204.6 311.9C206.8 310.3 209.1 308.9 211.5 307.7C213.9 306.5 216.4 305.5 218.9 304.7C221.4 303.9 224 303.4 226.6 303.1C229.2 302.7 231.8 302.6 234.5 302.7C237.2 302.8 239.9 303 242.6 303.2C245.3 303.5 247.9 303.7 250.6 303.8C253.3 303.9 255.9 303.8 258.6 303.2C261.2 302.7 263.7 301.7 266.3 300.2C268.8 298.7 271.2 296.7 273.6 294.2C276 291.7 278.3 288.8 280.5 285.5C282.7 282.2 284.9 278.6 286.9 274.9C288.9 271.1 290.8 267.2 292.6 263.4C294.4 259.5 296 255.7 297.5 252C299.1 248.3 300.5 244.8 301.7 241.6C303 238.3 304.1 235.3 305 232.7C306 230.1 306.8 227.8 307.4 225.9C308.1 224.1 308.6 222.7 308.9 221.7C309.2 220.8 309.4 220.3 309.4 220.3"/>
<path d="M118.4 199.7C118.4 199.7 118.4 199.9 118.5 200.2C118.6 200.6 118.7 201.1 118.9 201.7C119.1 202.4 119.3 203.3 119.6 204.2C119.9 205.2 120.2 206.4 120.5 207.7C120.8 209 121.2 210.4 121.7 211.9C122.1 213.5 122.5 215.2 123 217C123.5 218.8 124 220.7 124.6 222.7C125.2 224.7 125.7 226.8 126.4 229C127 231.2 127.6 233.5 128.3 235.8C128.9 238.1 129.6 240.5 130.3 242.9C131 245.3 131.7 247.8 132.4 250.3C133.1 252.7 133.9 255.2 134.6 257.7C135.3 260.2 136.1 262.8 136.8 265.3C137.6 267.8 138.3 270.3 139.1 272.7C139.8 275.2 140.5 277.7 141.2 280.1C142 282.5 142.7 284.9 143.4 287.3C144.1 289.6 144.7 291.9 145.4 294.2C146.1 296.5 146.7 298.7 147.3 300.9C147.9 303.1 148.5 305.2 149.1 307.3C149.6 309.4 150.1 311.4 150.6 313.4C151.1 315.4 151.6 317.4 152 319.3C152.4 321.2 152.8 323.1 153.2 325C153.5 326.8 153.8 328.6 154.1 330.4C154.3 332.2 154.6 334 154.7 335.7C154.9 337.4 155 339.2 155.1 340.9C155.2 342.6 155.3 344.3 155.3 346C155.3 347.7 155.2 349.4 155.1 351.1C155 352.8 154.9 354.6 154.7 356.3C154.6 358 154.3 359.8 154.1 361.6C153.8 363.4 153.5 365.2 153.2 367C152.8 368.9 152.4 370.8 152 372.7C151.6 374.6 151.1 376.6 150.6 378.6C150.1 380.6 149.6 382.6 149.1 384.7C148.5 386.8 147.9 388.9 147.3 391.1C146.7 393.3 146.1 395.5 145.4 397.8C144.7 400.1 144.1 402.4 143.4 404.7C142.7 407.1 142 409.5 141.2 411.9C140.5 414.3 139.8 416.8 139.1 419.3C138.3 421.7 137.6 424.2 136.8 426.7C136.1 429.2 135.3 431.8 134.6 434.3C133.9 436.8 133.1 439.3 132.4 441.7C131.7 444.2 131 446.7 130.3 449.1C129.6 451.5 128.9 453.9 128.3 456.2C127.6 458.5 127 460.8 126.4 463C125.7 465.2 125.2 467.3 124.6 469.3C124 471.3 123.5 473.2 123 475C122.5 476.8 122.1 478.5 121.7 480.1C121.2 481.6 120.8 483 120.5 484.3C120.2 485.6 119.9 486.8 119.6 487.8C119.3 488.7 119.1 489.6 118.9 490.3C118.7 490.9 118.6 491.4 118.5 491.8C118.4 492.1 118.4 492.3 118.4 492.3"/>
<path d="M309.4 464.8C309.4 464.8 309.3 464.4 309 463.7C308.8 463 308.5 462 308 460.7C307.6 459.3 307.1 457.7 306.4 455.7C305.8 453.8 305 451.5 304.2 449C303.3 446.5 302.4 443.8 301.3 440.9C300.3 437.9 299.1 434.8 297.9 431.5C296.7 428.3 295.4 424.8 294 421.3C292.7 417.9 291.2 414.3 289.7 410.7C288.2 407.1 286.6 403.5 285 399.9C283.4 396.3 281.7 392.8 280 389.4C278.3 385.9 276.6 382.6 274.8 379.4C273 376.3 271.2 373.3 269.4 370.5C267.6 367.7 265.7 365.2 263.9 362.9C262.1 360.7 260.2 358.8 258.4 357.5C256.6 356.1 254.8 355.4 253 355.2C251.2 355 249.5 355.3 247.8 355.8C246 356.3 244.4 357 242.8 357.5C241.1 358 239.6 358.5 238.1 358.8C236.5 359.2 235.1 359.4 233.7 359.4C232.4 359.5 231.1 359.4 229.8 359.2C228.6 359 227.5 358.6 226.5 358.2C225.4 357.7 224.5 357.1 223.6 356.5C222.8 355.8 222 355.1 221.4 354.3C220.7 353.5 220.2 352.7 219.7 351.7C219.3 350.8 219 349.9 218.7 348.9C218.5 348 218.4 347 218.4 346C218.4 345 218.5 344 218.7 343.1C219 342.1 219.3 341.2 219.7 340.3C220.2 339.3 220.7 338.5 221.4 337.7C222 336.9 222.8 336.2 223.6 335.5C224.5 334.9 225.4 334.3 226.5 333.8C227.5 333.4 228.6 333 229.8 332.8C231.1 332.6 232.4 332.5 233.7 332.6C235.1 332.6 236.5 332.8 238.1 333.2C239.6 333.5 241.1 334 242.8 334.5C244.4 335 246 335.7 247.8 336.2C249.5 336.7 251.2 337 253 336.8C254.8 336.6 256.6 335.9 258.4 334.5C260.2 333.2 262.1 331.3 263.9 329.1C265.7 326.8 267.6 324.3 269.4 321.5C271.2 318.7 273 315.7 274.8 312.6C276.6 309.4 278.3 306.1 280 302.6C281.7 299.2 283.4 295.7 285 292.1C286.6 288.5 288.2 284.9 289.7 281.3C291.2 277.7 292.7 274.1 294 270.7C295.4 267.2 296.7 263.7 297.9 260.5C299.1 257.2 300.3 254.1 301.3 251.1C302.4 248.2 303.3 245.5 304.2 243C305 240.5 305.8 238.2 306.4 236.3C307.1 234.3 307.6 232.7 308 231.3C308.5 230 308.8 229 309 228.3C309.3 227.6 309.4 227.2 309.4 227.2"/>
<path d="M118.4 200C118.4 200 118.4 200.2 118.5 200.5C118.6 200.8 118.7 201.4 118.9 202C119.1 202.7 119.3 203.5 119.6 204.5C119.8 205.5 120.1 206.6 120.5 207.9C120.8 209.2 121.2 210.6 121.6 212.1C122 213.7 122.5 215.3 123 217.1C123.5 218.9 124 220.8 124.5 222.8C125.1 224.8 125.7 226.9 126.3 229.1C126.9 231.2 127.5 233.5 128.1 235.8C128.8 238.1 129.5 240.4 130.2 242.8C130.8 245.2 131.5 247.7 132.3 250.1C133 252.6 133.7 255.1 134.4 257.6C135.2 260.1 135.9 262.6 136.6 265.1C137.4 267.6 138.1 270 138.8 272.5C139.5 275 140.3 277.4 141 279.8C141.7 282.3 142.4 284.6 143.1 287C143.8 289.3 144.4 291.7 145.1 293.9C145.7 296.2 146.4 298.4 147 300.6C147.6 302.8 148.2 304.9 148.7 307C149.3 309.1 149.8 311.2 150.3 313.2C150.8 315.2 151.2 317.2 151.6 319.1C152 321 152.4 322.9 152.8 324.8C153.1 326.6 153.4 328.5 153.7 330.3C153.9 332.1 154.1 333.8 154.3 335.6C154.5 337.4 154.6 339.1 154.7 340.8C154.8 342.6 154.8 344.3 154.8 346C154.8 347.7 154.8 349.4 154.7 351.2C154.6 352.9 154.5 354.6 154.3 356.4C154.1 358.2 153.9 359.9 153.7 361.7C153.4 363.5 153.1 365.4 152.8 367.2C152.4 369.1 152 371 151.6 372.9C151.2 374.8 150.8 376.8 150.3 378.8C149.8 380.8 149.3 382.9 148.7 385C148.2 387.1 147.6 389.2 147 391.4C146.4 393.6 145.7 395.8 145.1 398.1C144.4 400.3 143.8 402.7 143.1 405C142.4 407.4 141.7 409.7 141 412.2C140.3 414.6 139.5 417 138.8 419.5C138.1 422 137.4 424.4 136.6 426.9C135.9 429.4 135.2 431.9 134.4 434.4C133.7 436.9 133 439.4 132.3 441.9C131.5 444.3 130.8 446.8 130.2 449.2C129.5 451.6 128.8 453.9 128.1 456.2C127.5 458.5 126.9 460.8 126.3 462.9C125.7 465.1 125.1 467.2 124.5 469.2C124 471.2 123.5 473.1 123 474.9C122.5 476.7 122 478.3 121.6 479.9C121.2 481.4 120.8 482.8 120.5 484.1C120.1 485.4 119.8 486.5 119.6 487.5C119.3 488.5 119.1 489.3 118.9 490C118.7 490.6 118.6 491.2 118.5 491.5C118.4 491.8 118.4 492 118.4 492"/>
<path d="M222.1 346C222.1 345.5 222.1 345 222.2 344.6C222.3 344.1 222.4 343.6 222.5 343.2C222.7 342.7 222.8 342.2 223.1 341.8C223.3 341.4 223.5 341 223.8 340.6C224.1 340.2 224.4 339.8 224.7 339.4C225.1 339 225.4 338.7 225.8 338.4C226.2 338.1 226.7 337.8 227.1 337.6C227.6 337.3 228.1 337.1 228.5 336.9C229 336.7 229.6 336.6 230.1 336.4C230.6 336.3 231.2 336.2 231.7 336.2C232.3 336.1 232.9 336.1 233.5 336.1C234 336.2 234.6 336.2 235.2 336.3C235.8 336.4 236.4 336.5 237 336.7C237.6 336.8 238.2 337 238.8 337.2C239.4 337.4 240 337.7 240.6 337.9C241.2 338.2 241.8 338.5 242.3 338.8C242.9 339.1 243.5 339.4 244 339.7C244.5 340 245 340.4 245.5 340.7C246 341 246.5 341.4 247 341.7C247.4 342 247.8 342.4 248.2 342.7C248.6 343 249 343.3 249.4 343.6C249.7 343.9 250 344.2 250.3 344.4C250.6 344.7 250.8 344.9 251 345.1C251.2 345.3 251.4 345.5 251.6 345.6C251.7 345.7 251.8 345.8 251.9 345.9C252 346 252 346 252 346C252 346 252 346 251.9 346.1C251.8 346.2 251.7 346.3 251.6 346.4C251.4 346.5 251.2 346.7 251 346.9C250.8 347.1 250.6 347.3 250.3 347.6C250 347.8 249.7 348.1 249.4 348.4C249 348.7 248.6 349 248.2 349.3C247.8 349.6 247.4 350 247 350.3C246.5 350.6 246 351 245.5 351.3C245 351.6 244.5 352 244 352.3C243.5 352.6 242.9 352.9 242.3 353.2C241.8 353.5 241.2 353.8 240.6 354.1C240 354.3 239.4 354.6 238.8 354.8C238.2 355 237.6 355.2 237 355.3C236.4 355.5 235.8 355.6 235.2 355.7C234.6 355.8 234 355.8 233.5 355.9C232.9 355.9 232.3 355.9 231.7 355.8C231.2 355.8 230.6 355.7 230.1 355.6C229.6 355.4 229 355.3 228.5 355.1C228.1 354.9 227.6 354.7 227.1 354.4C226.7 354.2 226.2 353.9 225.8 353.6C225.4 353.3 225.1 353 224.7 352.6C224.4 352.2 224.1 351.8 223.8 351.4C223.5 351 223.3 350.6 223.1 350.2C222.8 349.8 222.7 349.3 222.5 348.8C222.4 348.4 222.3 347.9 222.2 347.4C222.1 347 222.1 346.5 222.1 346Z"/>
<path d="M309.4 464.4C309.4 464.4 309.3 464.2 309.2 463.8C309 463.3 308.8 462.7 308.5 461.8C308.3 461 307.9 459.9 307.5 458.6C307.1 457.4 306.6 455.9 306.1 454.3C305.5 452.7 304.9 450.9 304.3 449C303.6 447.1 302.9 445 302.2 442.8C301.4 440.6 300.6 438.3 299.7 435.9C298.8 433.5 297.9 431 297 428.5C296 425.9 295 423.3 294 420.7C293 418.1 291.9 415.4 290.9 412.8C289.8 410.1 288.7 407.5 287.6 404.9C286.4 402.3 285.3 399.7 284.1 397.2C283 394.6 281.8 392.2 280.7 389.8C279.5 387.4 278.4 385.1 277.2 382.8C276.1 380.6 274.9 378.5 273.8 376.4C272.7 374.4 271.6 372.4 270.5 370.6C269.4 368.8 268.4 367.1 267.4 365.5C266.3 363.9 265.3 362.4 264.4 361C263.4 359.6 262.5 358.3 261.7 357.2C260.8 356 260 354.9 259.2 354C258.4 353 257.7 352.2 257.1 351.4C256.4 350.6 255.8 350 255.3 349.4C254.7 348.8 254.3 348.3 253.9 347.9C253.5 347.4 253.1 347.1 252.8 346.8C252.6 346.5 252.3 346.3 252.2 346.2C252.1 346.1 252 346 252 346C252 346 252.1 345.9 252.2 345.8C252.3 345.7 252.6 345.5 252.8 345.2C253.1 344.9 253.5 344.6 253.9 344.1C254.3 343.7 254.7 343.2 255.3 342.6C255.8 342 256.4 341.4 257.1 340.6C257.7 339.8 258.4 339 259.2 338C260 337.1 260.8 336 261.7 334.8C262.5 333.7 263.4 332.4 264.4 331C265.3 329.6 266.3 328.1 267.4 326.5C268.4 324.9 269.4 323.2 270.5 321.4C271.6 319.6 272.7 317.6 273.8 315.6C274.9 313.5 276.1 311.4 277.2 309.2C278.4 306.9 279.5 304.6 280.7 302.2C281.8 299.8 283 297.4 284.1 294.8C285.3 292.3 286.4 289.7 287.6 287.1C288.7 284.5 289.8 281.9 290.9 279.2C291.9 276.6 293 273.9 294 271.3C295 268.7 296 266.1 297 263.5C297.9 261 298.8 258.5 299.7 256.1C300.6 253.7 301.4 251.4 302.2 249.2C302.9 247 303.6 244.9 304.3 243C304.9 241.1 305.5 239.3 306.1 237.7C306.6 236.1 307.1 234.6 307.5 233.4C307.9 232.1 308.3 231 308.5 230.2C308.8 229.3 309 228.7 309.2 228.2C309.3 227.8 309.4 227.6 309.4 227.6"/>
<path d="M118.4 200.1C118.4 200.2 118.4 200.3 118.5 200.7C118.6 201 118.7 201.5 118.9 202.1C119.1 202.8 119.3 203.6 119.6 204.6C119.8 205.6 120.1 206.7 120.5 208C120.8 209.3 121.2 210.7 121.6 212.2C122 213.7 122.5 215.4 122.9 217.2C123.4 219 123.9 220.9 124.5 222.8C125 224.8 125.6 226.9 126.2 229.1C126.8 231.2 127.4 233.5 128.1 235.8C128.7 238.1 129.4 240.4 130.1 242.8C130.8 245.2 131.5 247.6 132.2 250.1C132.9 252.5 133.6 255 134.3 257.5C135.1 260 135.8 262.5 136.5 265C137.2 267.5 138 269.9 138.7 272.4C139.4 274.9 140.1 277.3 140.9 279.7C141.6 282.1 142.3 284.5 142.9 286.9C143.6 289.2 144.3 291.5 144.9 293.8C145.6 296.1 146.2 298.3 146.8 300.5C147.4 302.7 148 304.8 148.5 306.9C149.1 309 149.6 311.1 150.1 313.1C150.6 315.1 151 317.1 151.4 319C151.8 320.9 152.2 322.8 152.6 324.7C152.9 326.6 153.2 328.4 153.5 330.2C153.7 332 153.9 333.8 154.1 335.6C154.3 337.3 154.4 339.1 154.5 340.8C154.6 342.5 154.6 344.3 154.6 346C154.6 347.7 154.6 349.5 154.5 351.2C154.4 352.9 154.3 354.7 154.1 356.4C153.9 358.2 153.7 360 153.5 361.8C153.2 363.6 152.9 365.4 152.6 367.3C152.2 369.2 151.8 371.1 151.4 373C151 374.9 150.6 376.9 150.1 378.9C149.6 380.9 149.1 383 148.5 385.1C148 387.2 147.4 389.3 146.8 391.5C146.2 393.7 145.6 395.9 144.9 398.2C144.3 400.5 143.6 402.8 142.9 405.1C142.3 407.5 141.6 409.9 140.9 412.3C140.1 414.7 139.4 417.1 138.7 419.6C138 422.1 137.2 424.5 136.5 427C135.8 429.5 135.1 432 134.3 434.5C133.6 437 132.9 439.5 132.2 441.9C131.5 444.4 130.8 446.8 130.1 449.2C129.4 451.6 128.7 453.9 128.1 456.2C127.4 458.5 126.8 460.8 126.2 462.9C125.6 465.1 125 467.2 124.5 469.2C123.9 471.1 123.4 473 122.9 474.8C122.5 476.6 122 478.3 121.6 479.8C121.2 481.3 120.8 482.7 120.5 484C120.1 485.3 119.8 486.4 119.6 487.4C119.3 488.4 119.1 489.2 118.9 489.9C118.7 490.5 118.6 491 118.5 491.3C118.4 491.7 118.4 491.8 118.4 491.9"/>
<path d="M224.6 346C224.6 345.7 224.6 345.3 224.7 345C224.7 344.7 224.8 344.4 224.9 344C225 343.7 225.1 343.4 225.2 343.1C225.4 342.8 225.5 342.5 225.7 342.2C225.9 341.9 226.1 341.7 226.3 341.4C226.5 341.1 226.8 340.9 227 340.7C227.3 340.4 227.5 340.2 227.8 340C228.1 339.8 228.4 339.7 228.7 339.5C229 339.3 229.4 339.2 229.7 339.1C230.1 339 230.4 338.9 230.8 338.8C231.1 338.7 231.5 338.6 231.9 338.6C232.2 338.6 232.6 338.5 233 338.5C233.4 338.5 233.8 338.6 234.2 338.6C234.5 338.7 234.9 338.7 235.3 338.8C235.7 338.9 236.1 339 236.4 339.1C236.8 339.2 237.2 339.3 237.5 339.5C237.9 339.6 238.3 339.8 238.6 339.9C238.9 340.1 239.3 340.3 239.6 340.5C239.9 340.7 240.2 340.9 240.5 341.1C240.8 341.3 241.1 341.5 241.3 341.7C241.6 341.9 241.8 342.2 242 342.4C242.2 342.6 242.4 342.9 242.6 343.1C242.8 343.3 243 343.6 243.1 343.8C243.2 344.1 243.3 344.3 243.4 344.5C243.5 344.8 243.6 345 243.6 345.3C243.7 345.5 243.7 345.8 243.7 346C243.7 346.2 243.7 346.5 243.6 346.7C243.6 347 243.5 347.2 243.4 347.5C243.3 347.7 243.2 347.9 243.1 348.2C243 348.4 242.8 348.7 242.6 348.9C242.4 349.1 242.2 349.4 242 349.6C241.8 349.8 241.6 350.1 241.3 350.3C241.1 350.5 240.8 350.7 240.5 350.9C240.2 351.1 239.9 351.3 239.6 351.5C239.3 351.7 238.9 351.9 238.6 352.1C238.3 352.2 237.9 352.4 237.5 352.5C237.2 352.7 236.8 352.8 236.4 352.9C236.1 353 235.7 353.1 235.3 353.2C234.9 353.3 234.5 353.3 234.2 353.4C233.8 353.4 233.4 353.5 233 353.5C232.6 353.5 232.2 353.4 231.9 353.4C231.5 353.4 231.1 353.3 230.8 353.2C230.4 353.1 230.1 353 229.7 352.9C229.4 352.8 229 352.7 228.7 352.5C228.4 352.3 228.1 352.2 227.8 352C227.5 351.8 227.3 351.6 227 351.3C226.8 351.1 226.5 350.9 226.3 350.6C226.1 350.3 225.9 350.1 225.7 349.8C225.5 349.5 225.4 349.2 225.2 348.9C225.1 348.6 225 348.3 224.9 348C224.8 347.6 224.7 347.3 224.7 347C224.6 346.7 224.6 346.3 224.6 346Z"/>
<path d="M309.4 464.2C309.4 464.2 309.3 464 309.2 463.6C309.1 463.3 308.9 462.7 308.6 461.9C308.4 461.1 308.1 460.2 307.7 459.1C307.3 457.9 306.9 456.6 306.4 455.2C305.9 453.7 305.4 452.1 304.8 450.4C304.2 448.6 303.6 446.7 302.9 444.8C302.2 442.8 301.5 440.7 300.7 438.5C299.9 436.3 299.1 434 298.3 431.7C297.4 429.4 296.5 427 295.6 424.6C294.7 422.2 293.8 419.7 292.8 417.3C291.8 414.8 290.8 412.4 289.8 409.9C288.8 407.5 287.8 405.1 286.8 402.7C285.7 400.3 284.7 398 283.7 395.7C282.6 393.4 281.6 391.2 280.6 389.1C279.5 386.9 278.5 384.8 277.5 382.8C276.5 380.8 275.5 378.9 274.6 377.1C273.6 375.3 272.6 373.6 271.7 371.9C270.8 370.3 269.9 368.7 269.1 367.3C268.2 365.8 267.4 364.4 266.6 363.2C265.9 361.9 265.1 360.7 264.4 359.6C263.7 358.5 263.1 357.5 262.5 356.5C261.9 355.6 261.4 354.7 260.9 353.9C260.4 353 260 352.3 259.6 351.6C259.3 350.8 259 350.2 258.7 349.5C258.5 348.9 258.3 348.3 258.2 347.7C258 347.1 258 346.6 258 346C258 345.4 258 344.9 258.2 344.3C258.3 343.7 258.5 343.1 258.7 342.5C259 341.8 259.3 341.2 259.6 340.4C260 339.7 260.4 339 260.9 338.1C261.4 337.3 261.9 336.4 262.5 335.5C263.1 334.5 263.7 333.5 264.4 332.4C265.1 331.3 265.9 330.1 266.6 328.8C267.4 327.6 268.2 326.2 269.1 324.7C269.9 323.3 270.8 321.7 271.7 320.1C272.6 318.4 273.6 316.7 274.6 314.9C275.5 313.1 276.5 311.2 277.5 309.2C278.5 307.2 279.5 305.1 280.6 302.9C281.6 300.8 282.6 298.6 283.7 296.3C284.7 294 285.7 291.7 286.8 289.3C287.8 286.9 288.8 284.5 289.8 282.1C290.8 279.6 291.8 277.2 292.8 274.7C293.8 272.3 294.7 269.8 295.6 267.4C296.5 265 297.4 262.6 298.3 260.3C299.1 258 299.9 255.7 300.7 253.5C301.5 251.3 302.2 249.2 302.9 247.2C303.6 245.3 304.2 243.4 304.8 241.6C305.4 239.9 305.9 238.3 306.4 236.8C306.9 235.4 307.3 234.1 307.7 232.9C308.1 231.8 308.4 230.9 308.6 230.1C308.9 229.3 309.1 228.7 309.2 228.4C309.3 228 309.4 227.8 309.4 227.8"/>
<path d="M118.4 200.4C118.4 200.4 118.4 200.5 118.5 200.9C118.6 201.2 118.7 201.7 118.9 202.3C119.1 203 119.3 203.8 119.6 204.8C119.8 205.8 120.1 206.9 120.4 208.1C120.8 209.4 121.2 210.8 121.6 212.3C122 213.9 122.4 215.5 122.9 217.3C123.4 219.1 123.9 220.9 124.4 222.9C125 224.9 125.6 227 126.2 229.1C126.7 231.3 127.4 233.5 128 235.8C128.7 238 129.3 240.4 130 242.8C130.7 245.1 131.4 247.6 132.1 250C132.8 252.5 133.5 254.9 134.2 257.4C134.9 259.9 135.6 262.4 136.4 264.8C137.1 267.3 137.8 269.8 138.5 272.2C139.2 274.7 140 277.1 140.7 279.5C141.4 282 142.1 284.3 142.7 286.7C143.4 289 144.1 291.3 144.7 293.6C145.4 295.9 146 298.1 146.6 300.3C147.2 302.5 147.7 304.6 148.3 306.7C148.8 308.8 149.3 310.9 149.8 312.9C150.3 314.9 150.7 316.9 151.2 318.9C151.6 320.8 151.9 322.7 152.3 324.6C152.6 326.4 152.9 328.3 153.2 330.1C153.4 331.9 153.6 333.7 153.8 335.5C154 337.3 154.1 339 154.2 340.8C154.3 342.5 154.3 344.3 154.3 346C154.3 347.7 154.3 349.5 154.2 351.2C154.1 353 154 354.7 153.8 356.5C153.6 358.3 153.4 360.1 153.2 361.9C152.9 363.7 152.6 365.6 152.3 367.4C151.9 369.3 151.6 371.2 151.2 373.1C150.7 375.1 150.3 377.1 149.8 379.1C149.3 381.1 148.8 383.2 148.3 385.3C147.7 387.4 147.2 389.5 146.6 391.7C146 393.9 145.4 396.1 144.7 398.4C144.1 400.7 143.4 403 142.7 405.3C142.1 407.7 141.4 410 140.7 412.5C140 414.9 139.2 417.3 138.5 419.8C137.8 422.2 137.1 424.7 136.4 427.2C135.6 429.6 134.9 432.1 134.2 434.6C133.5 437.1 132.8 439.5 132.1 442C131.4 444.4 130.7 446.9 130 449.2C129.3 451.6 128.7 454 128 456.2C127.4 458.5 126.7 460.7 126.2 462.9C125.6 465 125 467.1 124.4 469.1C123.9 471.1 123.4 472.9 122.9 474.7C122.4 476.5 122 478.1 121.6 479.7C121.2 481.2 120.8 482.6 120.4 483.9C120.1 485.1 119.8 486.2 119.6 487.2C119.3 488.2 119.1 489 118.9 489.7C118.7 490.3 118.6 490.8 118.5 491.1C118.4 491.5 118.4 491.6 118.4 491.6"/>
<path d="M309.4 464C309.4 464 309.3 463.8 309.2 463.4C309.1 463 308.9 462.5 308.7 461.8C308.4 461 308.1 460.1 307.8 459.1C307.5 458 307.1 456.8 306.6 455.4C306.1 454 305.6 452.5 305.1 450.8C304.5 449.2 303.9 447.4 303.3 445.5C302.6 443.6 301.9 441.6 301.2 439.6C300.5 437.5 299.7 435.3 298.9 433.1C298.1 430.9 297.3 428.6 296.4 426.3C295.5 424 294.7 421.7 293.7 419.3C292.8 416.9 291.9 414.6 291 412.2C290 409.9 289 407.5 288.1 405.2C287.1 402.9 286.1 400.7 285.2 398.4C284.2 396.2 283.2 394 282.2 391.9C281.3 389.8 280.3 387.8 279.4 385.8C278.4 383.8 277.5 381.9 276.6 380.1C275.7 378.2 274.8 376.5 273.9 374.8C273 373.2 272.2 371.6 271.4 370.1C270.6 368.6 269.8 367.1 269.1 365.8C268.4 364.5 267.7 363.2 267 362C266.4 360.8 265.8 359.7 265.2 358.6C264.7 357.6 264.2 356.6 263.7 355.6C263.3 354.7 262.9 353.8 262.5 352.9C262.2 352.1 261.9 351.3 261.6 350.5C261.4 349.7 261.2 348.9 261.1 348.2C261 347.5 260.9 346.7 260.9 346C260.9 345.3 261 344.5 261.1 343.8C261.2 343.1 261.4 342.3 261.6 341.5C261.9 340.7 262.2 339.9 262.5 339.1C262.9 338.2 263.3 337.3 263.7 336.4C264.2 335.4 264.7 334.4 265.2 333.4C265.8 332.3 266.4 331.2 267 330C267.7 328.8 268.4 327.5 269.1 326.2C269.8 324.9 270.6 323.4 271.4 321.9C272.2 320.4 273 318.8 273.9 317.2C274.8 315.5 275.7 313.8 276.6 311.9C277.5 310.1 278.4 308.2 279.4 306.2C280.3 304.2 281.3 302.2 282.2 300.1C283.2 298 284.2 295.8 285.2 293.6C286.1 291.3 287.1 289.1 288.1 286.8C289 284.5 290 282.1 291 279.8C291.9 277.4 292.8 275.1 293.7 272.7C294.7 270.3 295.5 268 296.4 265.7C297.3 263.4 298.1 261.1 298.9 258.9C299.7 256.7 300.5 254.5 301.2 252.4C301.9 250.4 302.6 248.4 303.3 246.5C303.9 244.6 304.5 242.8 305.1 241.2C305.6 239.5 306.1 238 306.6 236.6C307.1 235.2 307.5 234 307.8 232.9C308.1 231.9 308.4 231 308.7 230.2C308.9 229.5 309.1 229 309.2 228.6C309.3 228.2 309.4 228 309.4 228"/>
<path d="M118.4 200.8C118.4 200.8 118.4 201 118.5 201.3C118.6 201.7 118.7 202.1 118.9 202.8C119.1 203.4 119.3 204.2 119.5 205.2C119.8 206.2 120.1 207.3 120.4 208.5C120.7 209.7 121.1 211.1 121.5 212.6C121.9 214.1 122.4 215.8 122.8 217.5C123.3 219.3 123.8 221.1 124.3 223.1C124.9 225 125.4 227.1 126 229.2C126.6 231.3 127.2 233.5 127.8 235.8C128.5 238 129.1 240.3 129.8 242.7C130.4 245 131.1 247.4 131.8 249.9C132.5 252.3 133.2 254.7 133.9 257.2C134.6 259.6 135.3 262.1 136 264.6C136.8 267 137.5 269.5 138.2 271.9C138.9 274.4 139.6 276.8 140.3 279.2C141 281.6 141.6 284 142.3 286.3C143 288.6 143.6 291 144.2 293.2C144.9 295.5 145.5 297.7 146.1 299.9C146.7 302.1 147.2 304.3 147.7 306.4C148.3 308.5 148.8 310.5 149.3 312.6C149.7 314.6 150.2 316.6 150.6 318.6C151 320.5 151.3 322.4 151.7 324.3C152 326.2 152.3 328.1 152.5 329.9C152.8 331.7 153 333.6 153.2 335.4C153.3 337.1 153.5 338.9 153.6 340.7C153.6 342.5 153.7 344.2 153.7 346C153.7 347.8 153.6 349.5 153.6 351.3C153.5 353.1 153.3 354.9 153.2 356.6C153 358.4 152.8 360.3 152.5 362.1C152.3 363.9 152 365.8 151.7 367.7C151.3 369.6 151 371.5 150.6 373.4C150.2 375.4 149.7 377.4 149.3 379.4C148.8 381.5 148.3 383.5 147.7 385.6C147.2 387.7 146.7 389.9 146.1 392.1C145.5 394.3 144.9 396.5 144.2 398.8C143.6 401 143 403.4 142.3 405.7C141.6 408 141 410.4 140.3 412.8C139.6 415.2 138.9 417.6 138.2 420.1C137.5 422.5 136.8 425 136 427.4C135.3 429.9 134.6 432.4 133.9 434.8C133.2 437.3 132.5 439.7 131.8 442.1C131.1 444.6 130.4 447 129.8 449.3C129.1 451.7 128.5 454 127.8 456.2C127.2 458.5 126.6 460.7 126 462.8C125.4 464.9 124.9 467 124.3 468.9C123.8 470.9 123.3 472.7 122.8 474.5C122.4 476.2 121.9 477.9 121.5 479.4C121.1 480.9 120.7 482.3 120.4 483.5C120.1 484.7 119.8 485.8 119.5 486.8C119.3 487.8 119.1 488.6 118.9 489.2C118.7 489.9 118.6 490.3 118.5 490.7C118.4 491 118.4 491.2 118.4 491.2"/>
<path d="M309.4 463.4C309.4 463.4 309.3 463.2 309.2 462.9C309.1 462.5 308.9 462 308.7 461.3C308.5 460.7 308.2 459.8 307.9 458.8C307.6 457.9 307.2 456.7 306.8 455.4C306.4 454.2 305.9 452.7 305.4 451.2C304.9 449.7 304.4 448 303.8 446.2C303.2 444.5 302.5 442.6 301.9 440.7C301.2 438.7 300.5 436.7 299.7 434.6C299 432.6 298.2 430.4 297.4 428.2C296.6 426.1 295.8 423.8 295 421.6C294.1 419.4 293.3 417.1 292.4 414.9C291.5 412.7 290.7 410.4 289.8 408.2C288.9 406 288 403.8 287.1 401.6C286.2 399.5 285.3 397.4 284.4 395.3C283.5 393.2 282.6 391.2 281.7 389.3C280.9 387.3 280 385.4 279.2 383.6C278.3 381.7 277.5 380 276.7 378.3C275.9 376.6 275.1 374.9 274.4 373.4C273.7 371.8 273 370.3 272.3 368.9C271.6 367.5 271 366.1 270.4 364.8C269.8 363.5 269.2 362.3 268.7 361.1C268.2 359.9 267.7 358.7 267.3 357.7C266.9 356.6 266.5 355.5 266.2 354.5C265.9 353.5 265.6 352.5 265.4 351.5C265.2 350.6 265 349.7 264.9 348.7C264.8 347.8 264.8 346.9 264.8 346C264.8 345.1 264.8 344.2 264.9 343.3C265 342.3 265.2 341.4 265.4 340.5C265.6 339.5 265.9 338.5 266.2 337.5C266.5 336.5 266.9 335.4 267.3 334.3C267.7 333.3 268.2 332.1 268.7 330.9C269.2 329.7 269.8 328.5 270.4 327.2C271 325.9 271.6 324.5 272.3 323.1C273 321.7 273.7 320.2 274.4 318.6C275.1 317.1 275.9 315.4 276.7 313.7C277.5 312 278.3 310.3 279.2 308.4C280 306.6 280.9 304.7 281.7 302.7C282.6 300.8 283.5 298.8 284.4 296.7C285.3 294.6 286.2 292.5 287.1 290.4C288 288.2 288.9 286 289.8 283.8C290.7 281.6 291.5 279.3 292.4 277.1C293.3 274.9 294.1 272.6 295 270.4C295.8 268.2 296.6 265.9 297.4 263.8C298.2 261.6 299 259.4 299.7 257.4C300.5 255.3 301.2 253.3 301.9 251.3C302.5 249.4 303.2 247.5 303.8 245.8C304.4 244 304.9 242.3 305.4 240.8C305.9 239.3 306.4 237.8 306.8 236.6C307.2 235.3 307.6 234.1 307.9 233.2C308.2 232.2 308.5 231.3 308.7 230.7C308.9 230 309.1 229.5 309.2 229.1C309.3 228.8 309.4 228.6 309.4 228.6"/>
</g>
<text class="cap" transform="translate(102.00 462.20) scale(1.08 1)"><tspan class="b" x="59.75 64.22 70.19">(e)</tspan><tspan x="78.89">(</tspan><tspan class="i" x="82.96">b</tspan><tspan class="s" x="90.28" dy="1.9">1</tspan><tspan x="95.74" dy="-1.9">,</tspan><tspan class="i" x="101.02">b</tspan><tspan class="s" x="108.06" dy="1.9">2</tspan><tspan x="113.52" dy="-1.9">)</tspan><tspan class="h" x="121.3">∈</tspan><tspan class="i" x="132.89">C</tspan><tspan class="s" x="142.69" dy="1.9">1</tspan></text><path d="M240.70 456.45H237.10A2.80 2.80 0 0 0 237.10 462.05H240.70M234.30 459.25H240.70" fill="none" stroke="#000" stroke-width="1.15"/>
<!-- panel f -->
<clipPath id="c5"><rect x="323.16" y="253.89" width="191.36" height="184.22"/></clipPath>
<path d="M325.24 346.00H512.02M433.40 254.80V437.20" stroke="#000" stroke-width="1.2" fill="none"/>
<path d="M350.20 346.00v2.6M391.80 346.00v2.6M475.00 346.00v2.6M433.40 437.20h-2.7M433.40 406.80h-2.7M433.40 376.40h-2.7M433.40 315.60h-2.7M433.40 285.20h-2.7M433.40 254.80h-2.7" stroke="#000" stroke-width="1.05" fill="none"/>
<g class="tk">
<text x="350.90" y="354.40">2</text>
<text x="392.50" y="354.40">1</text>
<text x="431.90" y="354.40" text-anchor="end">0</text>
<text x="475.10" y="354.40" text-anchor="middle">1</text>
<text x="430.10" y="439.15" text-anchor="end">3</text>
<text x="430.10" y="408.75" text-anchor="end">2</text>
<text x="430.10" y="378.35" text-anchor="end">1</text>
<text x="430.10" y="317.55" text-anchor="end">1</text>
<text x="430.10" y="287.15" text-anchor="end">2</text>
<text x="430.10" y="256.75" text-anchor="end">3</text>
<text x="472.5" y="361" class="al">x</text>
<text x="417.8" y="302.5" class="al">y</text>
</g>
<path d="M347.90 352.50h2.9M389.50 352.50h2.9M424.30 437.50h2.8M424.30 406.50h2.8M424.30 376.50h2.8" stroke="#000" stroke-width="1.0" fill="none"/>
<g clip-path="url(#c5)" stroke="#000" stroke-width="1.12" fill="none" stroke-linejoin="round" stroke-linecap="butt">
<path d="M322.7 230.3C322.7 230.3 323 230.8 323.4 231.9C323.9 232.9 324.6 234.5 325.5 236.5C326.5 238.5 327.6 241 329 243.8C330.4 246.6 332 249.8 333.8 253.3C335.5 256.7 337.6 260.4 339.8 264.2C342 268 344.3 271.9 346.9 275.7C349.5 279.5 352.2 283.1 355.1 286.5C358 289.9 361.1 293 364.3 295.5C367.4 298.1 370.8 300.2 374.2 301.6C377.6 303.1 381.1 304 384.8 304.4C388.4 304.9 392.1 304.9 395.8 304.7C399.6 304.6 403.4 304.3 407.3 304C411.1 303.7 415 303.4 418.8 303.2C422.7 303.1 426.6 303 430.4 303C434.3 303 438.1 303 441.8 302.9C445.6 302.8 449.3 302.6 452.9 302C456.5 301.4 460.1 300.5 463.5 299C466.9 297.5 470.2 295.6 473.4 293.1C476.6 290.7 479.7 287.8 482.6 284.6C485.5 281.4 488.2 277.9 490.8 274.3C493.3 270.7 495.7 267 497.9 263.4C500.1 259.8 502.1 256.2 503.9 252.9C505.7 249.6 507.3 246.5 508.7 243.7C510.1 241 511.2 238.6 512.1 236.6C513.1 234.7 513.8 233.2 514.2 232.2C514.7 231.2 514.9 230.6 514.9 230.6M322.7 461.7C322.7 461.7 323 461.2 323.4 460.1C323.9 459.1 324.6 457.5 325.5 455.5C326.5 453.5 327.6 451 329 448.2C330.4 445.4 332 442.2 333.8 438.7C335.5 435.3 337.6 431.6 339.8 427.8C342 424 344.3 420.1 346.9 416.3C349.5 412.5 352.2 408.9 355.1 405.5C358 402.1 361.1 399 364.3 396.5C367.4 393.9 370.8 391.8 374.2 390.4C377.6 388.9 381.1 388 384.8 387.6C388.4 387.1 392.1 387.1 395.8 387.3C399.6 387.4 403.4 387.7 407.3 388C411.1 388.3 415 388.6 418.8 388.8C422.7 388.9 426.6 389 430.4 389C434.3 389 438.1 389 441.8 389.1C445.6 389.2 449.3 389.4 452.9 390C456.5 390.6 460.1 391.5 463.5 393C466.9 394.5 470.2 396.4 473.4 398.9C476.6 401.3 479.7 404.2 482.6 407.4C485.5 410.6 488.2 414.1 490.8 417.7C493.3 421.3 495.7 425 497.9 428.6C500.1 432.2 502.1 435.8 503.9 439.1C505.7 442.4 507.3 445.5 508.7 448.3C510.1 451 511.2 453.4 512.1 455.4C513.1 457.3 513.8 458.8 514.2 459.8C514.7 460.8 514.9 461.4 514.9 461.4"/>
<path d="M322.7 237.9C322.7 237.9 322.8 238.1 323 238.5C323.2 238.9 323.4 239.5 323.7 240.3C324.1 241.1 324.5 242.1 325 243.2C325.5 244.4 326.1 245.7 326.7 247.2C327.3 248.7 328.1 250.4 328.9 252.2C329.6 253.9 330.5 255.9 331.4 257.9C332.3 259.9 333.3 262.1 334.4 264.3C335.4 266.5 336.5 268.8 337.7 271.1C338.8 273.5 340 275.8 341.2 278.3C342.5 280.7 343.7 283.1 345 285.5C346.3 287.9 347.7 290.4 349 292.7C350.4 295.1 351.7 297.5 353.1 299.8C354.5 302.1 355.9 304.3 357.3 306.5C358.7 308.7 360.1 310.8 361.4 312.8C362.8 314.8 364.2 316.7 365.5 318.6C366.9 320.4 368.2 322.2 369.5 323.8C370.8 325.4 372.1 327 373.3 328.4C374.5 329.9 375.7 331.2 376.9 332.5C378 333.7 379.1 334.9 380.2 335.9C381.2 336.9 382.2 337.9 383.1 338.8C384 339.6 384.9 340.4 385.7 341.1C386.5 341.8 387.2 342.4 387.8 342.9C388.5 343.5 389.1 343.9 389.6 344.3C390 344.7 390.5 345 390.8 345.3C391.1 345.5 391.4 345.7 391.5 345.8C391.7 345.9 391.8 346 391.8 346C391.8 346 391.7 346.1 391.5 346.2C391.4 346.3 391.1 346.5 390.8 346.7C390.5 347 390 347.3 389.6 347.7C389.1 348.1 388.5 348.5 387.8 349.1C387.2 349.6 386.5 350.2 385.7 350.9C384.9 351.6 384 352.4 383.1 353.2C382.2 354.1 381.2 355.1 380.2 356.1C379.1 357.1 378 358.3 376.9 359.5C375.7 360.8 374.5 362.1 373.3 363.6C372.1 365 370.8 366.6 369.5 368.2C368.2 369.8 366.9 371.6 365.5 373.4C364.2 375.3 362.8 377.2 361.4 379.2C360.1 381.2 358.7 383.3 357.3 385.5C355.9 387.7 354.5 389.9 353.1 392.2C351.7 394.5 350.4 396.9 349 399.3C347.7 401.6 346.3 404.1 345 406.5C343.7 408.9 342.5 411.3 341.2 413.7C340 416.2 338.8 418.5 337.7 420.9C336.5 423.2 335.4 425.5 334.4 427.7C333.3 429.9 332.3 432.1 331.4 434.1C330.5 436.1 329.6 438.1 328.9 439.8C328.1 441.6 327.3 443.3 326.7 444.8C326.1 446.3 325.5 447.6 325 448.8C324.5 449.9 324.1 450.9 323.7 451.7C323.4 452.5 323.2 453.1 323 453.5C322.8 453.9 322.7 454.1 322.7 454.1"/>
<path d="M514.9 453.8C514.9 453.8 514.8 453.4 514.5 452.7C514.2 452 513.7 451 513.1 449.6C512.6 448.2 511.8 446.6 510.9 444.6C510.1 442.6 509 440.4 507.9 437.9C506.7 435.4 505.4 432.6 504 429.7C502.6 426.8 501.1 423.7 499.5 420.5C497.8 417.3 496.1 414 494.2 410.7C492.3 407.3 490.4 403.9 488.3 400.6C486.3 397.2 484.2 393.9 482 390.7C479.8 387.4 477.5 384.3 475.2 381.4C472.9 378.4 470.5 375.6 468.1 373.1C465.7 370.6 463.3 368.3 460.8 366.4C458.3 364.5 455.8 362.9 453.4 361.7C450.9 360.5 448.4 359.7 445.9 359.2C443.5 358.7 441 358.5 438.6 358.5C436.2 358.4 433.9 358.4 431.5 358.4C429.2 358.4 427 358.4 424.8 358.2C422.6 358.1 420.4 357.9 418.4 357.5C416.4 357.2 414.4 356.8 412.5 356.3C410.7 355.8 408.9 355.2 407.3 354.6C405.6 353.9 404.1 353.3 402.7 352.6C401.3 351.9 400 351.2 398.9 350.6C397.7 349.9 396.7 349.3 395.8 348.7C394.9 348.2 394.2 347.7 393.6 347.3C393 346.9 392.5 346.5 392.2 346.3C391.9 346.1 391.8 346 391.8 346C391.8 346 391.9 345.9 392.2 345.7C392.5 345.5 393 345.1 393.6 344.7C394.2 344.3 394.9 343.8 395.8 343.3C396.7 342.7 397.7 342.1 398.9 341.4C400 340.8 401.3 340.1 402.7 339.4C404.1 338.7 405.6 338.1 407.3 337.4C408.9 336.8 410.7 336.2 412.5 335.7C414.4 335.2 416.4 334.8 418.4 334.5C420.4 334.1 422.6 333.9 424.8 333.8C427 333.6 429.2 333.6 431.5 333.6C433.9 333.6 436.2 333.6 438.6 333.5C441 333.5 443.5 333.3 445.9 332.8C448.4 332.3 450.9 331.5 453.4 330.3C455.8 329.1 458.3 327.5 460.8 325.6C463.3 323.7 465.7 321.4 468.1 318.9C470.5 316.4 472.9 313.6 475.2 310.6C477.5 307.7 479.8 304.6 482 301.3C484.2 298.1 486.3 294.8 488.3 291.4C490.4 288.1 492.3 284.7 494.2 281.3C496.1 278 497.8 274.7 499.5 271.5C501.1 268.3 502.6 265.2 504 262.3C505.4 259.4 506.7 256.6 507.9 254.1C509 251.6 510.1 249.4 510.9 247.4C511.8 245.4 512.6 243.8 513.1 242.4C513.7 241 514.2 240 514.5 239.3C514.8 238.6 514.9 238.2 514.9 238.2"/>
<path d="M322.7 238.4C322.7 238.4 322.8 238.6 323 238.9C323.1 239.2 323.3 239.7 323.6 240.4C323.8 241 324.2 241.9 324.6 242.8C325 243.8 325.5 244.9 326 246.2C326.5 247.4 327.1 248.8 327.8 250.3C328.4 251.8 329.1 253.4 329.9 255.1C330.7 256.8 331.5 258.7 332.3 260.5C333.2 262.4 334.1 264.4 335 266.4C336 268.4 337 270.5 338 272.6C339 274.6 340.1 276.8 341.1 278.9C342.2 281 343.3 283.2 344.4 285.3C345.5 287.4 346.7 289.5 347.8 291.6C348.9 293.7 350.1 295.7 351.2 297.7C352.4 299.8 353.5 301.7 354.7 303.6C355.8 305.5 356.9 307.4 358 309.2C359.2 311 360.3 312.7 361.3 314.4C362.4 316 363.5 317.6 364.5 319.1C365.5 320.6 366.5 322.1 367.4 323.4C368.4 324.8 369.3 326.1 370.1 327.3C371 328.6 371.8 329.7 372.6 330.8C373.3 332 374 333 374.7 334C375.3 335 375.9 335.9 376.5 336.8C377 337.7 377.5 338.5 377.9 339.3C378.3 340.1 378.6 340.9 378.9 341.7C379.2 342.4 379.4 343.2 379.5 343.9C379.6 344.6 379.7 345.3 379.7 346C379.7 346.7 379.6 347.4 379.5 348.1C379.4 348.8 379.2 349.6 378.9 350.3C378.6 351.1 378.3 351.9 377.9 352.7C377.5 353.5 377 354.3 376.5 355.2C375.9 356.1 375.3 357 374.7 358C374 359 373.3 360 372.6 361.2C371.8 362.3 371 363.4 370.1 364.7C369.3 365.9 368.4 367.2 367.4 368.6C366.5 369.9 365.5 371.4 364.5 372.9C363.5 374.4 362.4 376 361.3 377.6C360.3 379.3 359.2 381 358 382.8C356.9 384.6 355.8 386.5 354.7 388.4C353.5 390.3 352.4 392.2 351.2 394.3C350.1 396.3 348.9 398.3 347.8 400.4C346.7 402.5 345.5 404.6 344.4 406.7C343.3 408.8 342.2 411 341.1 413.1C340.1 415.2 339 417.4 338 419.4C337 421.5 336 423.6 335 425.6C334.1 427.6 333.2 429.6 332.3 431.5C331.5 433.3 330.7 435.2 329.9 436.9C329.1 438.6 328.4 440.2 327.8 441.7C327.1 443.2 326.5 444.6 326 445.8C325.5 447.1 325 448.2 324.6 449.2C324.2 450.1 323.8 451 323.6 451.6C323.3 452.3 323.1 452.8 323 453.1C322.8 453.4 322.7 453.6 322.7 453.6"/>
<path d="M514.9 453.2C514.9 453.2 514.8 453 514.6 452.4C514.3 451.8 514 450.9 513.5 449.8C513 448.7 512.4 447.3 511.6 445.6C510.9 444 510.1 442.1 509.1 440C508.2 437.9 507.1 435.6 506 433.1C504.8 430.7 503.6 428 502.2 425.3C500.8 422.5 499.4 419.7 497.9 416.7C496.3 413.8 494.7 410.8 493.1 407.8C491.4 404.7 489.6 401.7 487.8 398.7C486 395.7 484.2 392.7 482.2 389.8C480.3 386.9 478.4 384.1 476.4 381.4C474.4 378.7 472.4 376.1 470.4 373.7C468.4 371.2 466.3 368.9 464.3 366.9C462.2 364.8 460.2 362.9 458.2 361.2C456.2 359.5 454.1 358.1 452.2 356.9C450.2 355.7 448.2 354.7 446.3 354.1C444.4 353.4 442.6 353 440.8 352.8C438.9 352.6 437.2 352.5 435.5 352.5C433.8 352.5 432.2 352.5 430.7 352.5C429.2 352.5 427.7 352.4 426.4 352.3C425 352.2 423.8 352 422.6 351.8C421.4 351.6 420.4 351.3 419.4 351C418.5 350.7 417.7 350.3 416.9 350C416.2 349.6 415.6 349.2 415.1 348.7C414.6 348.3 414.3 347.8 414 347.4C413.8 346.9 413.6 346.5 413.6 346C413.6 345.5 413.8 345.1 414 344.6C414.3 344.2 414.6 343.7 415.1 343.3C415.6 342.8 416.2 342.4 416.9 342C417.7 341.7 418.5 341.3 419.4 341C420.4 340.7 421.4 340.4 422.6 340.2C423.8 340 425 339.8 426.4 339.7C427.7 339.6 429.2 339.5 430.7 339.5C432.2 339.5 433.8 339.5 435.5 339.5C437.2 339.5 438.9 339.4 440.8 339.2C442.6 339 444.4 338.6 446.3 337.9C448.2 337.3 450.2 336.3 452.2 335.1C454.1 333.9 456.2 332.5 458.2 330.8C460.2 329.1 462.2 327.2 464.3 325.1C466.3 323.1 468.4 320.8 470.4 318.3C472.4 315.9 474.4 313.3 476.4 310.6C478.4 307.9 480.3 305.1 482.2 302.2C484.2 299.3 486 296.3 487.8 293.3C489.6 290.3 491.4 287.3 493.1 284.2C494.7 281.2 496.3 278.2 497.9 275.3C499.4 272.3 500.8 269.5 502.2 266.7C503.6 264 504.8 261.3 506 258.9C507.1 256.4 508.2 254.1 509.1 252C510.1 249.9 510.9 248 511.6 246.4C512.4 244.7 513 243.3 513.5 242.2C514 241.1 514.3 240.2 514.6 239.6C514.8 239 514.9 238.8 514.9 238.8"/>
<path d="M322.7 238.6C322.7 238.6 322.8 238.7 322.9 239.1C323.1 239.4 323.3 239.9 323.5 240.5C323.8 241.2 324.1 242 324.5 242.9C324.9 243.8 325.4 244.9 325.9 246.1C326.4 247.4 327 248.7 327.6 250.2C328.3 251.6 328.9 253.2 329.7 254.9C330.4 256.5 331.2 258.3 332 260.1C332.9 262 333.7 263.9 334.7 265.8C335.6 267.8 336.5 269.8 337.5 271.9C338.5 273.9 339.5 276 340.6 278.1C341.6 280.1 342.7 282.2 343.7 284.3C344.8 286.4 345.9 288.5 347 290.5C348.1 292.6 349.2 294.6 350.3 296.6C351.5 298.6 352.6 300.5 353.7 302.4C354.8 304.3 355.9 306.2 356.9 308C358 309.7 359.1 311.5 360.1 313.1C361.2 314.8 362.2 316.4 363.2 317.9C364.1 319.4 365.1 320.9 366 322.3C366.9 323.7 367.8 325 368.6 326.3C369.5 327.5 370.3 328.7 371 329.9C371.7 331 372.4 332.1 373 333.1C373.7 334.2 374.3 335.1 374.8 336.1C375.3 337 375.7 337.9 376.1 338.8C376.5 339.7 376.9 340.5 377.1 341.3C377.4 342.1 377.6 342.9 377.7 343.7C377.9 344.5 377.9 345.2 377.9 346C377.9 346.8 377.9 347.5 377.7 348.3C377.6 349.1 377.4 349.9 377.1 350.7C376.9 351.5 376.5 352.3 376.1 353.2C375.7 354.1 375.3 355 374.8 355.9C374.3 356.9 373.7 357.8 373 358.9C372.4 359.9 371.7 361 371 362.1C370.3 363.3 369.5 364.5 368.6 365.7C367.8 367 366.9 368.3 366 369.7C365.1 371.1 364.1 372.6 363.2 374.1C362.2 375.6 361.2 377.2 360.1 378.9C359.1 380.5 358 382.3 356.9 384C355.9 385.8 354.8 387.7 353.7 389.6C352.6 391.5 351.5 393.4 350.3 395.4C349.2 397.4 348.1 399.4 347 401.5C345.9 403.5 344.8 405.6 343.7 407.7C342.7 409.8 341.6 411.9 340.6 413.9C339.5 416 338.5 418.1 337.5 420.1C336.5 422.2 335.6 424.2 334.7 426.2C333.7 428.1 332.9 430 332 431.9C331.2 433.7 330.4 435.5 329.7 437.1C328.9 438.8 328.3 440.4 327.6 441.8C327 443.3 326.4 444.6 325.9 445.9C325.4 447.1 324.9 448.2 324.5 449.1C324.1 450 323.8 450.8 323.5 451.5C323.3 452.1 323.1 452.6 322.9 452.9C322.8 453.3 322.7 453.4 322.7 453.4"/>
<path d="M514.9 453C514.9 453 514.8 452.8 514.6 452.3C514.4 451.9 514.1 451.2 513.8 450.3C513.4 449.3 512.9 448.2 512.3 446.9C511.7 445.5 511 444 510.3 442.3C509.5 440.6 508.7 438.7 507.7 436.7C506.8 434.6 505.8 432.5 504.7 430.2C503.6 427.9 502.4 425.5 501.2 423C500 420.5 498.7 418 497.3 415.4C496 412.8 494.6 410.1 493.1 407.5C491.7 404.9 490.2 402.2 488.6 399.6C487.1 397 485.5 394.4 483.9 391.9C482.3 389.4 480.7 386.9 479.1 384.6C477.5 382.2 475.8 379.9 474.2 377.7C472.5 375.5 470.9 373.4 469.3 371.5C467.6 369.5 466 367.7 464.4 365.9C462.8 364.2 461.2 362.6 459.7 361.2C458.2 359.7 456.7 358.3 455.2 357.1C453.8 355.9 452.4 354.8 451 353.8C449.7 352.9 448.4 352 447.1 351.3C445.9 350.5 444.7 349.9 443.7 349.3C442.6 348.8 441.5 348.3 440.6 347.9C439.7 347.5 438.8 347.2 438.1 347C437.3 346.7 436.6 346.5 436 346.4C435.5 346.3 435 346.2 434.6 346.1C434.2 346.1 433.9 346 433.7 346C433.5 346 433.4 346 433.4 346C433.4 346 433.5 346 433.7 346C433.9 346 434.2 345.9 434.6 345.9C435 345.8 435.5 345.7 436 345.6C436.6 345.5 437.3 345.3 438.1 345C438.8 344.8 439.7 344.5 440.6 344.1C441.5 343.7 442.6 343.2 443.7 342.7C444.7 342.1 445.9 341.5 447.1 340.7C448.4 340 449.7 339.1 451 338.2C452.4 337.2 453.8 336.1 455.2 334.9C456.7 333.7 458.2 332.3 459.7 330.8C461.2 329.4 462.8 327.8 464.4 326.1C466 324.3 467.6 322.5 469.3 320.5C470.9 318.6 472.5 316.5 474.2 314.3C475.8 312.1 477.5 309.8 479.1 307.4C480.7 305.1 482.3 302.6 483.9 300.1C485.5 297.6 487.1 295 488.6 292.4C490.2 289.8 491.7 287.1 493.1 284.5C494.6 281.9 496 279.2 497.3 276.6C498.7 274 500 271.5 501.2 269C502.4 266.5 503.6 264.1 504.7 261.8C505.8 259.5 506.8 257.4 507.7 255.3C508.7 253.3 509.5 251.4 510.3 249.7C511 248 511.7 246.5 512.3 245.1C512.9 243.8 513.4 242.7 513.8 241.7C514.1 240.8 514.4 240.1 514.6 239.7C514.8 239.2 514.9 239 514.9 239"/>
<path d="M322.7 247.6C322.7 247.6 322.8 247.7 322.9 247.9C322.9 248.1 323 248.4 323.2 248.8C323.3 249.2 323.5 249.7 323.8 250.2C324 250.8 324.2 251.5 324.5 252.3C324.8 253.1 325.2 253.9 325.5 254.8C325.9 255.8 326.3 256.8 326.7 257.9C327.1 259 327.5 260.1 328 261.3C328.5 262.5 329 263.8 329.5 265.2C330 266.5 330.6 267.9 331.1 269.3C331.7 270.7 332.2 272.2 332.8 273.7C333.4 275.2 334 276.7 334.6 278.3C335.2 279.8 335.9 281.4 336.5 283C337.1 284.6 337.7 286.2 338.4 287.8C339 289.4 339.6 291 340.3 292.6C340.9 294.2 341.5 295.9 342.1 297.5C342.7 299.1 343.3 300.7 343.9 302.3C344.5 303.9 345.1 305.4 345.6 307C346.2 308.6 346.7 310.1 347.3 311.7C347.8 313.2 348.3 314.7 348.7 316.2C349.2 317.7 349.7 319.2 350.1 320.7C350.5 322.2 350.9 323.7 351.2 325.1C351.6 326.5 351.9 328 352.2 329.4C352.5 330.8 352.8 332.2 353 333.6C353.2 335 353.4 336.4 353.5 337.8C353.7 339.2 353.8 340.5 353.9 341.9C354 343.3 354 344.6 354 346C354 347.4 354 348.7 353.9 350.1C353.8 351.5 353.7 352.8 353.5 354.2C353.4 355.6 353.2 357 353 358.4C352.8 359.8 352.5 361.2 352.2 362.6C351.9 364 351.6 365.5 351.2 366.9C350.9 368.3 350.5 369.8 350.1 371.3C349.7 372.8 349.2 374.3 348.7 375.8C348.3 377.3 347.8 378.8 347.3 380.3C346.7 381.9 346.2 383.4 345.6 385C345.1 386.6 344.5 388.1 343.9 389.7C343.3 391.3 342.7 392.9 342.1 394.5C341.5 396.1 340.9 397.8 340.3 399.4C339.6 401 339 402.6 338.4 404.2C337.7 405.8 337.1 407.4 336.5 409C335.9 410.6 335.2 412.2 334.6 413.7C334 415.3 333.4 416.8 332.8 418.3C332.2 419.8 331.7 421.3 331.1 422.7C330.6 424.1 330 425.5 329.5 426.8C329 428.2 328.5 429.5 328 430.7C327.5 431.9 327.1 433 326.7 434.1C326.3 435.2 325.9 436.2 325.5 437.2C325.2 438.1 324.8 438.9 324.5 439.7C324.2 440.5 324 441.2 323.8 441.8C323.5 442.3 323.3 442.8 323.2 443.2C323 443.6 322.9 443.9 322.9 444.1C322.8 444.3 322.7 444.4 322.7 444.4"/>
<path d="M514.9 444C514.9 444 514.9 443.9 514.8 443.7C514.7 443.5 514.6 443.2 514.5 442.8C514.3 442.4 514.1 441.9 513.9 441.3C513.6 440.7 513.4 440 513.1 439.2C512.7 438.4 512.4 437.5 512 436.6C511.6 435.6 511.2 434.6 510.8 433.5C510.4 432.4 509.9 431.2 509.4 430C508.9 428.7 508.4 427.5 507.8 426.1C507.3 424.8 506.7 423.3 506.1 421.9C505.5 420.5 504.9 419 504.3 417.5C503.7 416 503.1 414.4 502.4 412.8C501.8 411.3 501.1 409.7 500.5 408.1C499.8 406.5 499.2 404.9 498.5 403.3C497.8 401.7 497.2 400 496.5 398.4C495.8 396.8 495.2 395.2 494.6 393.6C493.9 392 493.3 390.4 492.7 388.8C492 387.2 491.4 385.7 490.8 384.1C490.3 382.6 489.7 381 489.1 379.5C488.6 378 488.1 376.5 487.6 375C487.1 373.5 486.6 372.1 486.2 370.6C485.7 369.2 485.3 367.8 485 366.3C484.6 364.9 484.2 363.5 483.9 362.1C483.6 360.8 483.3 359.4 483.1 358C482.9 356.7 482.7 355.3 482.5 354C482.4 352.6 482.2 351.3 482.2 350C482.1 348.7 482 347.3 482 346C482 344.7 482.1 343.3 482.2 342C482.2 340.7 482.4 339.4 482.5 338C482.7 336.7 482.9 335.3 483.1 334C483.3 332.6 483.6 331.2 483.9 329.9C484.2 328.5 484.6 327.1 485 325.7C485.3 324.2 485.7 322.8 486.2 321.4C486.6 319.9 487.1 318.5 487.6 317C488.1 315.5 488.6 314 489.1 312.5C489.7 311 490.3 309.4 490.8 307.9C491.4 306.3 492 304.8 492.7 303.2C493.3 301.6 493.9 300 494.6 298.4C495.2 296.8 495.8 295.2 496.5 293.6C497.2 292 497.8 290.3 498.5 288.7C499.2 287.1 499.8 285.5 500.5 283.9C501.1 282.3 501.8 280.7 502.4 279.2C503.1 277.6 503.7 276 504.3 274.5C504.9 273 505.5 271.5 506.1 270.1C506.7 268.7 507.3 267.2 507.8 265.9C508.4 264.5 508.9 263.3 509.4 262C509.9 260.8 510.4 259.6 510.8 258.5C511.2 257.4 511.6 256.4 512 255.4C512.4 254.5 512.7 253.6 513.1 252.8C513.4 252 513.6 251.3 513.9 250.7C514.1 250.1 514.3 249.6 514.5 249.2C514.6 248.8 514.7 248.5 514.8 248.3C514.9 248.1 514.9 248 514.9 248"/>
</g>
<text class="cap" transform="translate(306.20 462.20) scale(1.08 1)"><tspan class="b" x="61.24 65.71 70.19">(f)</tspan><tspan x="78.89">(</tspan><tspan class="i" x="82.96">b</tspan><tspan class="s" x="90.28" dy="1.9">1</tspan><tspan x="95.74" dy="-1.9">,</tspan><tspan class="i" x="101.02">b</tspan><tspan class="s" x="108.06" dy="1.9">2</tspan><tspan x="113.52" dy="-1.9">)</tspan><tspan class="h" x="121.3">∈</tspan><tspan class="i" x="134.04">L</tspan><tspan class="s" x="141.39" dy="1.9">3</tspan></text><path d="M444.90 456.45H441.30A2.80 2.80 0 0 0 441.30 462.05H444.90M438.50 459.25H444.90" fill="none" stroke="#000" stroke-width="1.15"/>
<!-- panel g -->
<clipPath id="c6"><rect x="528.20" y="254.70" width="189.00" height="182.60"/></clipPath>
<path d="M528.20 346.00H717.20M660.50 254.70V437.30" stroke="#000" stroke-width="1.2" fill="none"/>
<path d="M547.10 346.00v2.6M584.90 346.00v2.6M622.70 346.00v2.6M698.30 346.00v2.6M660.50 437.30h-2.7M660.50 391.65h-2.7M660.50 300.35h-2.7M660.50 254.70h-2.7" stroke="#000" stroke-width="1.05" fill="none"/>
<g class="tk">
<text x="547.80" y="354.40">6</text>
<text x="585.60" y="354.40">4</text>
<text x="623.40" y="354.40">2</text>
<text x="659.00" y="354.40" text-anchor="end">0</text>
<text x="698.40" y="354.40" text-anchor="middle">2</text>
<text x="657.20" y="439.25" text-anchor="end">10</text>
<text x="657.20" y="393.60" text-anchor="end">5</text>
<text x="657.20" y="302.30" text-anchor="end">5</text>
<text x="657.20" y="256.65" text-anchor="end">10</text>
<text x="594.5" y="361" class="al">x</text>
<text x="641" y="302.5" class="al">y</text>
</g>
<path d="M544.80 352.50h2.9M582.60 352.50h2.9M620.40 352.50h2.9M648.60 437.50h2.8M651.40 391.50h2.8" stroke="#000" stroke-width="1.0" fill="none"/>
<g clip-path="url(#c6)" stroke="#000" stroke-width="1.12" fill="none" stroke-linejoin="round" stroke-linecap="butt">
<path d="M528 139.2C528 139.2 528.2 140.2 528.7 142.2C529.2 144.1 529.8 147.1 530.8 151C531.7 154.9 532.8 159.7 534.2 165.3C535.5 170.8 537.1 177.2 538.9 184.2C540.6 191.2 542.6 198.9 544.8 207C546.9 215.1 549.3 223.6 551.8 232.4C554.4 241.2 557.1 250.3 559.9 259.3C562.8 268.3 565.8 277.3 568.9 286.1C572 294.8 575.3 303.2 578.7 310.7C582.1 318.1 585.6 324.8 589.1 327C592.7 329.3 596.3 325.9 600 321.3C603.7 316.7 607.5 311.3 611.3 306.5C615.1 301.6 618.9 297.1 622.7 293.3C626.5 289.5 630.3 286.3 634.1 283.7C637.9 281.1 641.7 279.2 645.4 277.9C649.1 276.5 652.7 275.8 656.3 275.5C659.8 275.1 663.3 275.3 666.7 275.6C670.1 276 673.4 276.6 676.5 277.2C679.6 277.8 682.6 278.4 685.5 278.8C688.3 279.2 691 279.4 693.6 279.2C696.1 279.1 698.5 278.6 700.6 277.8C702.8 276.9 704.8 275.8 706.5 274.5C708.3 273.2 709.9 271.8 711.2 270.4C712.6 269 713.7 267.7 714.6 266.5C715.6 265.4 716.2 264.4 716.7 263.8C717.2 263.1 717.4 262.8 717.4 262.8M528 552.8C528 552.8 528.2 551.8 528.7 549.8C529.2 547.9 529.8 544.9 530.8 541C531.7 537.1 532.8 532.3 534.2 526.7C535.5 521.2 537.1 514.8 538.9 507.8C540.6 500.8 542.6 493.1 544.8 485C546.9 476.9 549.3 468.4 551.8 459.6C554.4 450.8 557.1 441.7 559.9 432.7C562.8 423.7 565.8 414.7 568.9 405.9C572 397.2 575.3 388.8 578.7 381.3C582.1 373.9 585.6 367.2 589.1 365C592.7 362.7 596.3 366.1 600 370.7C603.7 375.3 607.5 380.7 611.3 385.5C615.1 390.4 618.9 394.9 622.7 398.7C626.5 402.5 630.3 405.7 634.1 408.3C637.9 410.9 641.7 412.8 645.4 414.1C649.1 415.5 652.7 416.2 656.3 416.5C659.8 416.9 663.3 416.7 666.7 416.4C670.1 416 673.4 415.4 676.5 414.8C679.6 414.2 682.6 413.6 685.5 413.2C688.3 412.8 691 412.6 693.6 412.8C696.1 412.9 698.5 413.4 700.6 414.2C702.8 415.1 704.8 416.2 706.5 417.5C708.3 418.8 709.9 420.2 711.2 421.6C712.6 423 713.7 424.3 714.6 425.5C715.6 426.6 716.2 427.6 716.7 428.2C717.2 428.9 717.4 429.2 717.4 429.2"/>
<path d="M528 140C528 140 528.1 140.3 528.2 141C528.4 141.6 528.6 142.7 528.9 144C529.2 145.3 529.6 147 530.1 148.9C530.5 150.9 531.1 153.1 531.7 155.6C532.2 158.2 532.9 161 533.6 164C534.4 167 535.2 170.3 536 173.8C536.9 177.2 537.8 180.9 538.7 184.7C539.7 188.5 540.7 192.5 541.7 196.6C542.8 200.7 543.9 204.9 545 209.2C546.2 213.4 547.3 217.8 548.5 222.1C549.7 226.5 551 230.8 552.2 235.2C553.4 239.6 554.7 243.9 556 248.2C557.2 252.5 558.5 256.7 559.8 260.9C561.1 265 562.4 269.1 563.6 273C564.9 277 566.2 280.8 567.4 284.5C568.7 288.2 569.9 291.7 571.1 295.1C572.3 298.5 573.4 301.8 574.6 304.8C575.7 307.9 576.8 310.8 577.9 313.6C578.9 316.3 579.9 318.9 580.9 321.3C581.8 323.7 582.8 325.9 583.6 327.9C584.4 330 585.2 331.8 586 333.5C586.7 335.2 587.4 336.7 588 338C588.5 339.4 589.1 340.5 589.5 341.5C590 342.5 590.4 343.4 590.7 344C591 344.7 591.2 345.2 591.4 345.5C591.5 345.8 591.6 346 591.6 346C591.6 346 591.5 346.2 591.4 346.5C591.2 346.8 591 347.3 590.7 348C590.4 348.6 590 349.5 589.5 350.5C589.1 351.5 588.5 352.6 588 354C587.4 355.3 586.7 356.8 586 358.5C585.2 360.2 584.4 362 583.6 364.1C582.8 366.1 581.8 368.3 580.9 370.7C579.9 373.1 578.9 375.7 577.9 378.4C576.8 381.2 575.7 384.1 574.6 387.2C573.4 390.2 572.3 393.5 571.1 396.9C569.9 400.3 568.7 403.8 567.4 407.5C566.2 411.2 564.9 415 563.6 419C562.4 422.9 561.1 427 559.8 431.1C558.5 435.3 557.2 439.5 556 443.8C554.7 448.1 553.4 452.4 552.2 456.8C551 461.2 549.7 465.5 548.5 469.9C547.3 474.2 546.2 478.6 545 482.8C543.9 487.1 542.8 491.3 541.7 495.4C540.7 499.5 539.7 503.5 538.7 507.3C537.8 511.1 536.9 514.8 536 518.2C535.2 521.7 534.4 525 533.6 528C532.9 531 532.2 533.8 531.7 536.4C531.1 538.9 530.5 541.1 530.1 543.1C529.6 545 529.2 546.7 528.9 548C528.6 549.3 528.4 550.4 528.2 551C528.1 551.7 528 552 528 552"/>
<path d="M717.4 427.2C717.4 427.2 717.2 427 716.9 426.5C716.6 426.1 716.2 425.4 715.6 424.6C715 423.8 714.2 422.8 713.3 421.7C712.4 420.6 711.4 419.4 710.2 418.3C709 417.1 707.7 416 706.3 414.9C704.8 413.9 703.3 412.9 701.6 412.2C699.9 411.4 698.1 410.9 696.2 410.5C694.3 410.2 692.3 410.1 690.2 410.2C688.1 410.3 686 410.6 683.7 410.9C681.5 411.3 679.2 411.8 676.8 412.3C674.4 412.8 672 413.2 669.5 413.6C667.1 414 664.6 414.2 662.1 414.3C659.6 414.4 657 414.3 654.5 413.9C652 413.6 649.4 413 646.9 412.2C644.4 411.4 641.9 410.3 639.4 408.9C637 407.6 634.6 406 632.2 404.2C629.8 402.4 627.5 400.3 625.3 398.1C623 395.9 620.8 393.5 618.8 391C616.7 388.5 614.7 385.9 612.8 383.2C610.9 380.6 609.1 377.9 607.4 375.3C605.7 372.6 604.2 370 602.7 367.5C601.3 365 600 362.6 598.8 360.4C597.6 358.2 596.6 356.2 595.7 354.4C594.8 352.6 594 351.1 593.4 349.8C592.8 348.6 592.4 347.6 592.1 347C591.7 346.3 591.6 346 591.6 346C591.6 346 591.7 345.7 592.1 345C592.4 344.4 592.8 343.4 593.4 342.2C594 340.9 594.8 339.4 595.7 337.6C596.6 335.8 597.6 333.8 598.8 331.6C600 329.4 601.3 327 602.7 324.5C604.2 322 605.7 319.4 607.4 316.7C609.1 314.1 610.9 311.4 612.8 308.8C614.7 306.1 616.7 303.5 618.8 301C620.8 298.5 623 296.1 625.3 293.9C627.5 291.7 629.8 289.6 632.2 287.8C634.6 286 637 284.4 639.4 283.1C641.9 281.7 644.4 280.6 646.9 279.8C649.4 279 652 278.4 654.5 278.1C657 277.7 659.6 277.6 662.1 277.7C664.6 277.8 667.1 278 669.5 278.4C672 278.8 674.4 279.2 676.8 279.7C679.2 280.2 681.5 280.7 683.7 281.1C686 281.4 688.1 281.7 690.2 281.8C692.3 281.9 694.3 281.8 696.2 281.5C698.1 281.1 699.9 280.6 701.6 279.8C703.3 279.1 704.8 278.1 706.3 277.1C707.7 276 709 274.9 710.2 273.7C711.4 272.6 712.4 271.4 713.3 270.3C714.2 269.2 715 268.2 715.6 267.4C716.2 266.6 716.6 265.9 716.9 265.5C717.2 265 717.4 264.8 717.4 264.8"/>
<path d="M528 147.4C528 147.4 528.1 147.6 528.2 148.1C528.3 148.5 528.4 149.2 528.6 150.1C528.8 151 529.1 152.2 529.4 153.5C529.7 154.8 530 156.4 530.4 158.1C530.8 159.9 531.2 161.8 531.7 163.9C532.2 166 532.7 168.3 533.3 170.8C533.8 173.2 534.4 175.8 535 178.5C535.7 181.2 536.3 184.1 537 187C537.7 190 538.4 193.1 539.2 196.2C539.9 199.4 540.7 202.6 541.5 205.9C542.3 209.1 543.1 212.5 543.9 215.8C544.7 219.2 545.5 222.6 546.3 226C547.2 229.4 548 232.8 548.9 236.2C549.7 239.6 550.5 243 551.4 246.4C552.2 249.8 553 253.1 553.8 256.4C554.7 259.7 555.5 262.9 556.3 266.1C557 269.3 557.8 272.5 558.5 275.6C559.3 278.7 560 281.7 560.7 284.7C561.4 287.7 562.1 290.6 562.7 293.4C563.3 296.3 563.9 299 564.5 301.8C565 304.5 565.5 307.2 566 309.8C566.5 312.4 566.9 314.9 567.3 317.4C567.7 319.9 568.1 322.4 568.4 324.8C568.7 327.3 568.9 329.7 569.1 332C569.3 334.4 569.5 336.7 569.6 339C569.7 341.4 569.7 343.7 569.7 346C569.7 348.3 569.7 350.6 569.6 353C569.5 355.3 569.3 357.6 569.1 360C568.9 362.3 568.7 364.7 568.4 367.2C568.1 369.6 567.7 372.1 567.3 374.6C566.9 377.1 566.5 379.6 566 382.2C565.5 384.8 565 387.5 564.5 390.2C563.9 393 563.3 395.7 562.7 398.6C562.1 401.4 561.4 404.3 560.7 407.3C560 410.3 559.3 413.3 558.5 416.4C557.8 419.5 557 422.7 556.3 425.9C555.5 429.1 554.7 432.3 553.8 435.6C553 438.9 552.2 442.2 551.4 445.6C550.5 449 549.7 452.4 548.9 455.8C548 459.2 547.2 462.6 546.3 466C545.5 469.4 544.7 472.8 543.9 476.2C543.1 479.5 542.3 482.9 541.5 486.1C540.7 489.4 539.9 492.6 539.2 495.8C538.4 498.9 537.7 502 537 505C536.3 507.9 535.7 510.8 535 513.5C534.4 516.2 533.8 518.8 533.3 521.2C532.7 523.7 532.2 526 531.7 528.1C531.2 530.2 530.8 532.1 530.4 533.9C530 535.6 529.7 537.2 529.4 538.5C529.1 539.8 528.8 541 528.6 541.9C528.4 542.8 528.3 543.5 528.2 543.9C528.1 544.4 528 544.6 528 544.6"/>
<path d="M717.4 405.9C717.4 405.9 717.3 405.7 717.1 405.2C716.8 404.8 716.5 404.2 716.1 403.3C715.7 402.5 715.1 401.5 714.5 400.3C713.9 399.2 713.1 397.9 712.3 396.5C711.4 395.1 710.5 393.6 709.5 392.1C708.5 390.6 707.4 389.1 706.2 387.7C705 386.2 703.7 384.9 702.4 383.7C701 382.6 699.6 381.6 698.1 380.9C696.6 380.1 695.1 379.7 693.5 379.5C691.9 379.3 690.3 379.4 688.6 379.6C686.9 379.9 685.2 380.4 683.4 380.9C681.7 381.5 679.9 382.1 678.1 382.8C676.4 383.4 674.6 384.1 672.8 384.7C671 385.2 669.2 385.7 667.4 386.1C665.6 386.5 663.8 386.7 662.1 386.8C660.3 386.9 658.6 386.8 656.9 386.6C655.3 386.4 653.6 386 652 385.5C650.4 384.9 648.9 384.2 647.4 383.4C645.9 382.6 644.5 381.6 643.2 380.5C641.8 379.4 640.5 378.2 639.4 376.8C638.2 375.5 637 374.1 636 372.5C635 371 634.1 369.4 633.2 367.8C632.4 366.1 631.7 364.4 631 362.6C630.4 360.8 629.9 359 629.4 357.2C629 355.4 628.7 353.5 628.5 351.6C628.2 349.8 628.1 347.9 628.1 346C628.1 344.1 628.2 342.2 628.5 340.4C628.7 338.5 629 336.6 629.4 334.8C629.9 333 630.4 331.2 631 329.4C631.7 327.6 632.4 325.9 633.2 324.2C634.1 322.6 635 321 636 319.5C637 317.9 638.2 316.5 639.4 315.2C640.5 313.8 641.8 312.6 643.2 311.5C644.5 310.4 645.9 309.4 647.4 308.6C648.9 307.8 650.4 307.1 652 306.5C653.6 306 655.3 305.6 656.9 305.4C658.6 305.2 660.3 305.1 662.1 305.2C663.8 305.3 665.6 305.5 667.4 305.9C669.2 306.3 671 306.8 672.8 307.3C674.6 307.9 676.4 308.6 678.1 309.2C679.9 309.9 681.7 310.5 683.4 311.1C685.2 311.6 686.9 312.1 688.6 312.4C690.3 312.6 691.9 312.7 693.5 312.5C695.1 312.3 696.6 311.9 698.1 311.1C699.6 310.4 701 309.4 702.4 308.3C703.7 307.1 705 305.8 706.2 304.3C707.4 302.9 708.5 301.4 709.5 299.9C710.5 298.4 711.4 296.9 712.3 295.5C713.1 294.1 713.9 292.8 714.5 291.7C715.1 290.5 715.7 289.5 716.1 288.7C716.5 287.8 716.8 287.2 717.1 286.8C717.3 286.3 717.4 286.1 717.4 286.1"/>
<path d="M528 150.2C528 150.2 528.1 150.4 528.2 150.9C528.2 151.3 528.4 151.9 528.6 152.8C528.8 153.6 529 154.7 529.3 155.9C529.5 157.2 529.9 158.7 530.2 160.3C530.6 161.9 531 163.7 531.4 165.7C531.9 167.7 532.3 169.9 532.9 172.2C533.4 174.5 533.9 176.9 534.5 179.5C535.1 182.1 535.7 184.8 536.3 187.6C537 190.4 537.6 193.3 538.3 196.3C539 199.3 539.7 202.3 540.4 205.5C541.2 208.6 541.9 211.8 542.7 215C543.4 218.2 544.2 221.5 544.9 224.8C545.7 228.1 546.5 231.4 547.3 234.7C548 238 548.8 241.3 549.6 244.5C550.4 247.8 551.1 251.1 551.9 254.3C552.6 257.5 553.4 260.8 554.1 263.9C554.8 267.1 555.5 270.2 556.2 273.3C556.9 276.4 557.6 279.4 558.2 282.4C558.8 285.4 559.5 288.3 560 291.2C560.6 294.1 561.2 296.9 561.7 299.7C562.2 302.5 562.7 305.3 563.1 308C563.6 310.6 564 313.3 564.3 315.9C564.7 318.5 565 321.1 565.3 323.6C565.6 326.2 565.8 328.7 566 331.2C566.2 333.7 566.3 336.2 566.4 338.6C566.5 341.1 566.5 343.5 566.5 346C566.5 348.5 566.5 350.9 566.4 353.4C566.3 355.8 566.2 358.3 566 360.8C565.8 363.3 565.6 365.8 565.3 368.4C565 370.9 564.7 373.5 564.3 376.1C564 378.7 563.6 381.4 563.1 384C562.7 386.7 562.2 389.5 561.7 392.3C561.2 395.1 560.6 397.9 560 400.8C559.5 403.7 558.8 406.6 558.2 409.6C557.6 412.6 556.9 415.6 556.2 418.7C555.5 421.8 554.8 424.9 554.1 428.1C553.4 431.2 552.6 434.5 551.9 437.7C551.1 440.9 550.4 444.2 549.6 447.5C548.8 450.7 548 454 547.3 457.3C546.5 460.6 545.7 463.9 544.9 467.2C544.2 470.5 543.4 473.8 542.7 477C541.9 480.2 541.2 483.4 540.4 486.5C539.7 489.7 539 492.7 538.3 495.7C537.6 498.7 537 501.6 536.3 504.4C535.7 507.2 535.1 509.9 534.5 512.5C533.9 515.1 533.4 517.5 532.9 519.8C532.3 522.1 531.9 524.3 531.4 526.3C531 528.3 530.6 530.1 530.2 531.7C529.9 533.3 529.5 534.8 529.3 536.1C529 537.3 528.8 538.4 528.6 539.2C528.4 540.1 528.2 540.7 528.2 541.1C528.1 541.6 528 541.8 528 541.8"/>
<path d="M641.9 346C641.9 344.9 641.9 343.8 642 342.7C642.2 341.6 642.3 340.5 642.6 339.4C642.8 338.4 643.1 337.3 643.5 336.3C643.8 335.3 644.2 334.3 644.7 333.4C645.2 332.4 645.7 331.5 646.3 330.6C646.8 329.8 647.5 329 648.1 328.2C648.8 327.5 649.5 326.8 650.2 326.2C651 325.6 651.8 325 652.6 324.6C653.4 324.1 654.3 323.7 655.2 323.4C656.1 323.1 657 322.8 657.9 322.7C658.9 322.5 659.8 322.5 660.8 322.5C661.8 322.5 662.7 322.6 663.7 322.8C664.7 323 665.7 323.2 666.7 323.6C667.7 323.9 668.7 324.3 669.7 324.8C670.7 325.3 671.7 325.8 672.7 326.4C673.7 327 674.6 327.7 675.6 328.4C676.5 329.1 677.4 329.9 678.3 330.6C679.2 331.4 680 332.2 680.9 333C681.7 333.8 682.5 334.7 683.2 335.5C684 336.3 684.7 337.1 685.3 337.9C686 338.7 686.6 339.4 687.2 340.1C687.8 340.8 688.3 341.5 688.8 342.1C689.2 342.7 689.6 343.3 690 343.7C690.3 344.2 690.6 344.6 690.9 345C691.1 345.3 691.3 345.6 691.4 345.7C691.5 345.9 691.6 346 691.6 346C691.6 346 691.5 346.1 691.4 346.3C691.3 346.4 691.1 346.7 690.9 347C690.6 347.4 690.3 347.8 690 348.3C689.6 348.7 689.2 349.3 688.8 349.9C688.3 350.5 687.8 351.2 687.2 351.9C686.6 352.6 686 353.3 685.3 354.1C684.7 354.9 684 355.7 683.2 356.5C682.5 357.3 681.7 358.2 680.9 359C680 359.8 679.2 360.6 678.3 361.4C677.4 362.1 676.5 362.9 675.6 363.6C674.6 364.3 673.7 365 672.7 365.6C671.7 366.2 670.7 366.7 669.7 367.2C668.7 367.7 667.7 368.1 666.7 368.4C665.7 368.8 664.7 369 663.7 369.2C662.7 369.4 661.8 369.5 660.8 369.5C659.8 369.5 658.9 369.5 657.9 369.3C657 369.2 656.1 368.9 655.2 368.6C654.3 368.3 653.4 367.9 652.6 367.4C651.8 367 651 366.4 650.2 365.8C649.5 365.2 648.8 364.5 648.1 363.8C647.5 363 646.8 362.2 646.3 361.4C645.7 360.5 645.2 359.6 644.7 358.6C644.2 357.7 643.8 356.7 643.5 355.7C643.1 354.7 642.8 353.6 642.6 352.6C642.3 351.5 642.2 350.4 642 349.3C641.9 348.2 641.9 347.1 641.9 346Z"/>
<path d="M717.4 395.7C717.4 395.7 717.4 395.7 717.3 395.5C717.2 395.4 717.1 395.1 717 394.8C716.9 394.5 716.7 394.2 716.6 393.7C716.4 393.3 716.2 392.8 715.9 392.2C715.7 391.6 715.4 391 715.1 390.3C714.8 389.6 714.5 388.9 714.1 388.1C713.8 387.3 713.4 386.5 713 385.6C712.7 384.7 712.2 383.8 711.8 382.8C711.4 381.9 710.9 380.9 710.5 379.9C710 378.9 709.6 377.9 709.1 376.9C708.6 375.9 708.1 374.8 707.6 373.8C707.1 372.8 706.6 371.7 706.1 370.7C705.5 369.7 705 368.7 704.5 367.7C704 366.7 703.5 365.7 702.9 364.7C702.4 363.7 701.9 362.8 701.4 361.9C700.9 361 700.4 360.1 699.9 359.2C699.4 358.4 699 357.6 698.5 356.8C698 356 697.6 355.3 697.2 354.6C696.7 353.9 696.3 353.2 695.9 352.6C695.6 351.9 695.2 351.4 694.8 350.8C694.5 350.3 694.2 349.8 693.9 349.4C693.6 348.9 693.3 348.5 693.1 348.1C692.8 347.8 692.6 347.5 692.4 347.2C692.3 346.9 692.1 346.7 692 346.5C691.9 346.4 691.8 346.2 691.7 346.1C691.6 346 691.6 346 691.6 346C691.6 346 691.6 346 691.7 345.9C691.8 345.8 691.9 345.6 692 345.5C692.1 345.3 692.3 345.1 692.4 344.8C692.6 344.5 692.8 344.2 693.1 343.9C693.3 343.5 693.6 343.1 693.9 342.6C694.2 342.2 694.5 341.7 694.8 341.2C695.2 340.6 695.6 340.1 695.9 339.4C696.3 338.8 696.7 338.1 697.2 337.4C697.6 336.7 698 336 698.5 335.2C699 334.4 699.4 333.6 699.9 332.8C700.4 331.9 700.9 331 701.4 330.1C701.9 329.2 702.4 328.3 702.9 327.3C703.5 326.3 704 325.3 704.5 324.3C705 323.3 705.5 322.3 706.1 321.3C706.6 320.3 707.1 319.2 707.6 318.2C708.1 317.2 708.6 316.1 709.1 315.1C709.6 314.1 710 313.1 710.5 312.1C710.9 311.1 711.4 310.1 711.8 309.2C712.2 308.2 712.7 307.3 713 306.4C713.4 305.5 713.8 304.7 714.1 303.9C714.5 303.1 714.8 302.4 715.1 301.7C715.4 301 715.7 300.4 715.9 299.8C716.2 299.2 716.4 298.7 716.6 298.3C716.7 297.8 716.9 297.5 717 297.2C717.1 296.9 717.2 296.6 717.3 296.5C717.4 296.3 717.4 296.3 717.4 296.3"/>
<path d="M528 150.5C528 150.5 528.1 150.8 528.2 151.2C528.2 151.6 528.4 152.2 528.6 153.1C528.7 153.9 529 155 529.3 156.2C529.5 157.5 529.8 158.9 530.2 160.5C530.6 162.2 531 164 531.4 166C531.8 167.9 532.3 170.1 532.8 172.4C533.3 174.6 533.9 177.1 534.4 179.6C535 182.2 535.6 184.9 536.3 187.7C536.9 190.5 537.6 193.3 538.2 196.3C538.9 199.3 539.6 202.4 540.3 205.5C541.1 208.6 541.8 211.8 542.5 215C543.3 218.2 544 221.4 544.8 224.7C545.6 228 546.3 231.2 547.1 234.5C547.9 237.8 548.6 241.1 549.4 244.4C550.2 247.6 550.9 250.9 551.7 254.1C552.4 257.4 553.2 260.6 553.9 263.7C554.6 266.9 555.3 270 556 273.1C556.7 276.2 557.3 279.2 558 282.2C558.6 285.2 559.2 288.1 559.8 291C560.3 293.9 560.9 296.7 561.4 299.5C561.9 302.3 562.4 305.1 562.8 307.8C563.3 310.5 563.7 313.1 564 315.8C564.4 318.4 564.7 321 565 323.5C565.2 326.1 565.5 328.6 565.6 331.1C565.8 333.6 566 336.1 566.1 338.6C566.2 341.1 566.2 343.5 566.2 346C566.2 348.5 566.2 350.9 566.1 353.4C566 355.9 565.8 358.4 565.6 360.9C565.5 363.4 565.2 365.9 565 368.5C564.7 371 564.4 373.6 564 376.2C563.7 378.9 563.3 381.5 562.8 384.2C562.4 386.9 561.9 389.7 561.4 392.5C560.9 395.3 560.3 398.1 559.8 401C559.2 403.9 558.6 406.8 558 409.8C557.3 412.8 556.7 415.8 556 418.9C555.3 422 554.6 425.1 553.9 428.3C553.2 431.4 552.4 434.6 551.7 437.9C550.9 441.1 550.2 444.4 549.4 447.6C548.6 450.9 547.9 454.2 547.1 457.5C546.3 460.8 545.6 464 544.8 467.3C544 470.6 543.3 473.8 542.5 477C541.8 480.2 541.1 483.4 540.3 486.5C539.6 489.6 538.9 492.7 538.2 495.7C537.6 498.7 536.9 501.5 536.3 504.3C535.6 507.1 535 509.8 534.4 512.4C533.9 514.9 533.3 517.4 532.8 519.6C532.3 521.9 531.8 524.1 531.4 526C531 528 530.6 529.8 530.2 531.5C529.8 533.1 529.5 534.5 529.3 535.8C529 537 528.7 538.1 528.6 538.9C528.4 539.8 528.2 540.4 528.2 540.8C528.1 541.2 528 541.5 528 541.5"/>
<path d="M644.1 346C644.1 345.1 644.2 344.2 644.2 343.3C644.3 342.4 644.5 341.5 644.7 340.6C644.9 339.7 645.1 338.8 645.4 338C645.6 337.2 645.9 336.3 646.3 335.6C646.7 334.8 647.1 334 647.5 333.3C647.9 332.6 648.4 331.9 648.9 331.2C649.4 330.6 650 330 650.6 329.4C651.1 328.9 651.8 328.4 652.4 328C653 327.5 653.7 327.1 654.4 326.8C655.1 326.5 655.8 326.2 656.5 326C657.2 325.7 657.9 325.6 658.7 325.5C659.4 325.4 660.2 325.4 661 325.4C661.7 325.4 662.5 325.5 663.3 325.6C664.1 325.8 664.8 326 665.6 326.2C666.4 326.5 667.1 326.8 667.9 327.1C668.6 327.5 669.4 327.9 670.1 328.3C670.8 328.7 671.5 329.2 672.2 329.7C672.9 330.2 673.5 330.7 674.2 331.3C674.8 331.8 675.4 332.4 676 333C676.6 333.6 677.1 334.2 677.6 334.8C678.2 335.4 678.6 336.1 679.1 336.7C679.5 337.3 679.9 338 680.3 338.6C680.6 339.2 680.9 339.8 681.2 340.5C681.5 341.1 681.7 341.7 681.9 342.3C682.1 342.9 682.2 343.6 682.3 344.2C682.4 344.8 682.5 345.4 682.5 346C682.5 346.6 682.4 347.2 682.3 347.8C682.2 348.4 682.1 349.1 681.9 349.7C681.7 350.3 681.5 350.9 681.2 351.5C680.9 352.2 680.6 352.8 680.3 353.4C679.9 354 679.5 354.7 679.1 355.3C678.6 355.9 678.2 356.6 677.6 357.2C677.1 357.8 676.6 358.4 676 359C675.4 359.6 674.8 360.2 674.2 360.7C673.5 361.3 672.9 361.8 672.2 362.3C671.5 362.8 670.8 363.3 670.1 363.7C669.4 364.1 668.6 364.5 667.9 364.9C667.1 365.2 666.4 365.5 665.6 365.8C664.8 366 664.1 366.2 663.3 366.4C662.5 366.5 661.7 366.6 661 366.6C660.2 366.6 659.4 366.6 658.7 366.5C657.9 366.4 657.2 366.3 656.5 366C655.8 365.8 655.1 365.5 654.4 365.2C653.7 364.9 653 364.5 652.4 364C651.8 363.6 651.1 363.1 650.6 362.6C650 362 649.4 361.4 648.9 360.8C648.4 360.1 647.9 359.4 647.5 358.7C647.1 358 646.7 357.2 646.3 356.4C645.9 355.7 645.6 354.8 645.4 354C645.1 353.2 644.9 352.3 644.7 351.4C644.5 350.5 644.3 349.6 644.2 348.7C644.2 347.8 644.1 346.9 644.1 346Z"/>
<path d="M717.4 394.4C717.4 394.4 717.4 394.4 717.3 394.3C717.3 394.2 717.2 394 717.1 393.8C717 393.5 716.9 393.3 716.8 392.9C716.7 392.6 716.5 392.2 716.3 391.8C716.2 391.4 716 390.9 715.7 390.4C715.5 389.9 715.3 389.3 715.1 388.7C714.8 388.1 714.5 387.5 714.3 386.8C714 386.1 713.7 385.4 713.4 384.7C713.1 384 712.8 383.2 712.4 382.4C712.1 381.7 711.7 380.9 711.4 380.1C711 379.3 710.7 378.4 710.3 377.6C710 376.8 709.6 375.9 709.2 375.1C708.9 374.3 708.5 373.4 708.1 372.6C707.7 371.7 707.4 370.9 707 370.1C706.6 369.2 706.2 368.4 705.9 367.6C705.5 366.8 705.2 366 704.8 365.2C704.5 364.4 704.1 363.6 703.8 362.9C703.5 362.1 703.1 361.4 702.8 360.6C702.5 359.9 702.2 359.2 702 358.5C701.7 357.8 701.4 357.1 701.2 356.5C700.9 355.8 700.7 355.2 700.5 354.5C700.3 353.9 700.1 353.3 699.9 352.7C699.7 352.1 699.6 351.5 699.4 351C699.3 350.4 699.2 349.8 699.1 349.3C699 348.7 698.9 348.2 698.9 347.6C698.8 347.1 698.8 346.5 698.8 346C698.8 345.5 698.8 344.9 698.9 344.4C698.9 343.8 699 343.3 699.1 342.7C699.2 342.2 699.3 341.6 699.4 341C699.6 340.5 699.7 339.9 699.9 339.3C700.1 338.7 700.3 338.1 700.5 337.5C700.7 336.8 700.9 336.2 701.2 335.5C701.4 334.9 701.7 334.2 702 333.5C702.2 332.8 702.5 332.1 702.8 331.4C703.1 330.6 703.5 329.9 703.8 329.1C704.1 328.4 704.5 327.6 704.8 326.8C705.2 326 705.5 325.2 705.9 324.4C706.2 323.6 706.6 322.8 707 321.9C707.4 321.1 707.7 320.3 708.1 319.4C708.5 318.6 708.9 317.7 709.2 316.9C709.6 316.1 710 315.2 710.3 314.4C710.7 313.6 711 312.7 711.4 311.9C711.7 311.1 712.1 310.3 712.4 309.6C712.8 308.8 713.1 308 713.4 307.3C713.7 306.6 714 305.9 714.3 305.2C714.5 304.5 714.8 303.9 715.1 303.3C715.3 302.7 715.5 302.1 715.7 301.6C716 301.1 716.2 300.6 716.3 300.2C716.5 299.8 716.7 299.4 716.8 299.1C716.9 298.7 717 298.5 717.1 298.2C717.2 298 717.3 297.8 717.3 297.7C717.4 297.6 717.4 297.6 717.4 297.6"/>
<path d="M528 151.7C528 151.7 528.1 151.9 528.1 152.3C528.2 152.7 528.4 153.4 528.5 154.2C528.7 155 529 156 529.2 157.3C529.5 158.5 529.8 159.9 530.1 161.5C530.5 163.1 530.9 164.8 531.3 166.8C531.7 168.7 532.2 170.8 532.7 173C533.2 175.3 533.7 177.6 534.3 180.2C534.8 182.7 535.4 185.3 536 188C536.6 190.8 537.3 193.6 537.9 196.5C538.6 199.4 539.3 202.4 540 205.5C540.7 208.6 541.4 211.7 542.1 214.9C542.8 218 543.6 221.2 544.3 224.4C545.1 227.7 545.8 230.9 546.5 234.2C547.3 237.4 548 240.7 548.8 243.9C549.5 247.1 550.3 250.4 551 253.6C551.7 256.8 552.4 259.9 553.1 263.1C553.8 266.2 554.5 269.4 555.2 272.4C555.8 275.5 556.5 278.5 557.1 281.5C557.7 284.5 558.3 287.5 558.8 290.4C559.4 293.3 559.9 296.1 560.4 298.9C560.9 301.7 561.4 304.5 561.8 307.2C562.2 310 562.6 312.7 563 315.3C563.3 318 563.6 320.6 563.9 323.2C564.1 325.8 564.4 328.3 564.5 330.9C564.7 333.4 564.9 336 565 338.5C565 341 565.1 343.5 565.1 346C565.1 348.5 565 351 565 353.5C564.9 356 564.7 358.6 564.5 361.1C564.4 363.7 564.1 366.2 563.9 368.8C563.6 371.4 563.3 374 563 376.7C562.6 379.3 562.2 382 561.8 384.8C561.4 387.5 560.9 390.3 560.4 393.1C559.9 395.9 559.4 398.7 558.8 401.6C558.3 404.5 557.7 407.5 557.1 410.5C556.5 413.5 555.8 416.5 555.2 419.6C554.5 422.6 553.8 425.8 553.1 428.9C552.4 432.1 551.7 435.2 551 438.4C550.3 441.6 549.5 444.9 548.8 448.1C548 451.3 547.3 454.6 546.5 457.8C545.8 461.1 545.1 464.3 544.3 467.6C543.6 470.8 542.8 474 542.1 477.1C541.4 480.3 540.7 483.4 540 486.5C539.3 489.6 538.6 492.6 537.9 495.5C537.3 498.4 536.6 501.2 536 504C535.4 506.7 534.8 509.3 534.3 511.8C533.7 514.4 533.2 516.7 532.7 519C532.2 521.2 531.7 523.3 531.3 525.2C530.9 527.2 530.5 528.9 530.1 530.5C529.8 532.1 529.5 533.5 529.2 534.7C529 536 528.7 537 528.5 537.8C528.4 538.6 528.2 539.3 528.1 539.7C528.1 540.1 528 540.3 528 540.3"/>
<path d="M717.4 389.5C717.4 389.5 717.4 389.5 717.3 389.4C717.3 389.3 717.3 389.2 717.2 389.1C717.2 388.9 717.1 388.7 717 388.5C716.9 388.3 716.8 388 716.7 387.7C716.6 387.4 716.5 387.1 716.4 386.7C716.2 386.3 716.1 385.9 715.9 385.5C715.8 385 715.6 384.6 715.4 384.1C715.2 383.6 715.1 383.1 714.9 382.6C714.7 382 714.5 381.5 714.3 380.9C714.1 380.3 713.8 379.7 713.6 379.1C713.4 378.4 713.2 377.8 713 377.2C712.7 376.5 712.5 375.8 712.3 375.2C712 374.5 711.8 373.8 711.6 373.1C711.3 372.4 711.1 371.7 710.9 371C710.6 370.3 710.4 369.6 710.2 368.9C709.9 368.2 709.7 367.5 709.5 366.8C709.3 366 709.1 365.3 708.8 364.6C708.6 363.9 708.4 363.2 708.2 362.5C708 361.8 707.9 361.1 707.7 360.4C707.5 359.7 707.3 359 707.2 358.3C707 357.6 706.9 356.9 706.8 356.2C706.6 355.5 706.5 354.8 706.4 354.1C706.3 353.4 706.2 352.7 706.1 352.1C706 351.4 705.9 350.7 705.9 350C705.8 349.4 705.8 348.7 705.8 348C705.7 347.3 705.7 346.7 705.7 346C705.7 345.3 705.7 344.7 705.8 344C705.8 343.3 705.8 342.6 705.9 342C705.9 341.3 706 340.6 706.1 339.9C706.2 339.3 706.3 338.6 706.4 337.9C706.5 337.2 706.6 336.5 706.8 335.8C706.9 335.1 707 334.4 707.2 333.7C707.3 333 707.5 332.3 707.7 331.6C707.9 330.9 708 330.2 708.2 329.5C708.4 328.8 708.6 328.1 708.8 327.4C709.1 326.7 709.3 326 709.5 325.2C709.7 324.5 709.9 323.8 710.2 323.1C710.4 322.4 710.6 321.7 710.9 321C711.1 320.3 711.3 319.6 711.6 318.9C711.8 318.2 712 317.5 712.3 316.8C712.5 316.2 712.7 315.5 713 314.8C713.2 314.2 713.4 313.6 713.6 312.9C713.8 312.3 714.1 311.7 714.3 311.1C714.5 310.5 714.7 310 714.9 309.4C715.1 308.9 715.2 308.4 715.4 307.9C715.6 307.4 715.8 307 715.9 306.5C716.1 306.1 716.2 305.7 716.4 305.3C716.5 304.9 716.6 304.6 716.7 304.3C716.8 304 716.9 303.7 717 303.5C717.1 303.3 717.2 303.1 717.2 302.9C717.3 302.8 717.3 302.7 717.3 302.6C717.4 302.5 717.4 302.5 717.4 302.5"/>
<path d="M528 152.3C528 152.3 528.1 152.5 528.1 152.9C528.2 153.3 528.4 153.9 528.5 154.7C528.7 155.6 528.9 156.6 529.2 157.8C529.5 159 529.8 160.4 530.1 161.9C530.4 163.5 530.8 165.3 531.2 167.2C531.7 169.1 532.1 171.2 532.6 173.4C533.1 175.6 533.6 177.9 534.2 180.4C534.7 182.9 535.3 185.5 535.9 188.2C536.5 190.9 537.1 193.8 537.8 196.6C538.4 199.5 539.1 202.5 539.8 205.6C540.5 208.6 541.2 211.7 541.9 214.8C542.6 218 543.4 221.1 544.1 224.3C544.8 227.6 545.5 230.8 546.3 234C547 237.2 547.8 240.5 548.5 243.7C549.2 246.9 549.9 250.1 550.7 253.3C551.4 256.5 552.1 259.7 552.8 262.8C553.5 266 554.1 269.1 554.8 272.1C555.4 275.2 556.1 278.2 556.7 281.2C557.3 284.2 557.8 287.2 558.4 290.1C559 293 559.5 295.8 560 298.7C560.4 301.5 560.9 304.3 561.3 307C561.7 309.7 562.1 312.4 562.5 315.1C562.8 317.8 563.1 320.4 563.4 323C563.6 325.6 563.8 328.2 564 330.8C564.2 333.3 564.3 335.9 564.4 338.4C564.5 340.9 564.6 343.5 564.6 346C564.6 348.5 564.5 351.1 564.4 353.6C564.3 356.1 564.2 358.7 564 361.2C563.8 363.8 563.6 366.4 563.4 369C563.1 371.6 562.8 374.2 562.5 376.9C562.1 379.6 561.7 382.3 561.3 385C560.9 387.7 560.4 390.5 560 393.3C559.5 396.2 559 399 558.4 401.9C557.8 404.8 557.3 407.8 556.7 410.8C556.1 413.8 555.4 416.8 554.8 419.9C554.1 422.9 553.5 426 552.8 429.2C552.1 432.3 551.4 435.5 550.7 438.7C549.9 441.9 549.2 445.1 548.5 448.3C547.8 451.5 547 454.8 546.3 458C545.5 461.2 544.8 464.4 544.1 467.7C543.4 470.9 542.6 474 541.9 477.2C541.2 480.3 540.5 483.4 539.8 486.4C539.1 489.5 538.4 492.5 537.8 495.4C537.1 498.2 536.5 501.1 535.9 503.8C535.3 506.5 534.7 509.1 534.2 511.6C533.6 514.1 533.1 516.4 532.6 518.6C532.1 520.8 531.7 522.9 531.2 524.8C530.8 526.7 530.4 528.5 530.1 530.1C529.8 531.6 529.5 533 529.2 534.2C528.9 535.4 528.7 536.4 528.5 537.3C528.4 538.1 528.2 538.7 528.1 539.1C528.1 539.5 528 539.7 528 539.7"/>
<path d="M717.4 386.9C717.4 386.9 717.4 386.8 717.4 386.8C717.3 386.7 717.3 386.6 717.3 386.5C717.2 386.3 717.1 386.2 717.1 386C717 385.8 716.9 385.5 716.8 385.3C716.8 385 716.7 384.7 716.5 384.4C716.4 384.1 716.3 383.7 716.2 383.3C716.1 382.9 715.9 382.5 715.8 382.1C715.6 381.7 715.5 381.2 715.3 380.7C715.2 380.2 715 379.7 714.8 379.2C714.7 378.7 714.5 378.2 714.3 377.6C714.1 377.1 713.9 376.5 713.8 375.9C713.6 375.3 713.4 374.7 713.2 374.1C713 373.5 712.8 372.9 712.6 372.2C712.4 371.6 712.2 370.9 712 370.3C711.9 369.6 711.7 369 711.5 368.3C711.3 367.7 711.1 367 710.9 366.3C710.7 365.6 710.6 365 710.4 364.3C710.2 363.6 710.1 362.9 709.9 362.2C709.7 361.6 709.6 360.9 709.5 360.2C709.3 359.5 709.2 358.8 709 358.2C708.9 357.5 708.8 356.8 708.7 356.1C708.6 355.4 708.5 354.8 708.4 354.1C708.3 353.4 708.2 352.7 708.2 352.1C708.1 351.4 708 350.7 708 350C707.9 349.4 707.9 348.7 707.9 348C707.9 347.3 707.8 346.7 707.8 346C707.8 345.3 707.9 344.7 707.9 344C707.9 343.3 707.9 342.6 708 342C708 341.3 708.1 340.6 708.2 339.9C708.2 339.3 708.3 338.6 708.4 337.9C708.5 337.2 708.6 336.6 708.7 335.9C708.8 335.2 708.9 334.5 709 333.8C709.2 333.2 709.3 332.5 709.5 331.8C709.6 331.1 709.7 330.4 709.9 329.8C710.1 329.1 710.2 328.4 710.4 327.7C710.6 327 710.7 326.4 710.9 325.7C711.1 325 711.3 324.3 711.5 323.7C711.7 323 711.9 322.4 712 321.7C712.2 321.1 712.4 320.4 712.6 319.8C712.8 319.1 713 318.5 713.2 317.9C713.4 317.3 713.6 316.7 713.8 316.1C713.9 315.5 714.1 314.9 714.3 314.4C714.5 313.8 714.7 313.3 714.8 312.8C715 312.3 715.2 311.8 715.3 311.3C715.5 310.8 715.6 310.3 715.8 309.9C715.9 309.5 716.1 309.1 716.2 308.7C716.3 308.3 716.4 307.9 716.5 307.6C716.7 307.3 716.8 307 716.8 306.7C716.9 306.5 717 306.2 717.1 306C717.1 305.8 717.2 305.7 717.3 305.5C717.3 305.4 717.3 305.3 717.4 305.2C717.4 305.2 717.4 305.1 717.4 305.1"/>
</g>
<text class="cap" transform="translate(511.20 462.20) scale(1.08 1)"><tspan class="b" x="59 63.47 70.19">(g)</tspan><tspan x="78.89">(</tspan><tspan class="i" x="82.96">b</tspan><tspan class="s" x="90.28" dy="1.9">1</tspan><tspan x="95.74" dy="-1.9">,</tspan><tspan class="i" x="101.02">b</tspan><tspan class="s" x="108.06" dy="1.9">2</tspan><tspan x="113.52" dy="-1.9">)</tspan><tspan class="h" x="121.3">∈</tspan><tspan class="i" x="133.66">D</tspan><tspan class="s" x="144.35" dy="1.9">1</tspan></text><path d="M649.90 456.45H646.30A2.80 2.80 0 0 0 646.30 462.05H649.90M643.50 459.25H649.90" fill="none" stroke="#000" stroke-width="1.15"/>
</svg>
</body></html>
